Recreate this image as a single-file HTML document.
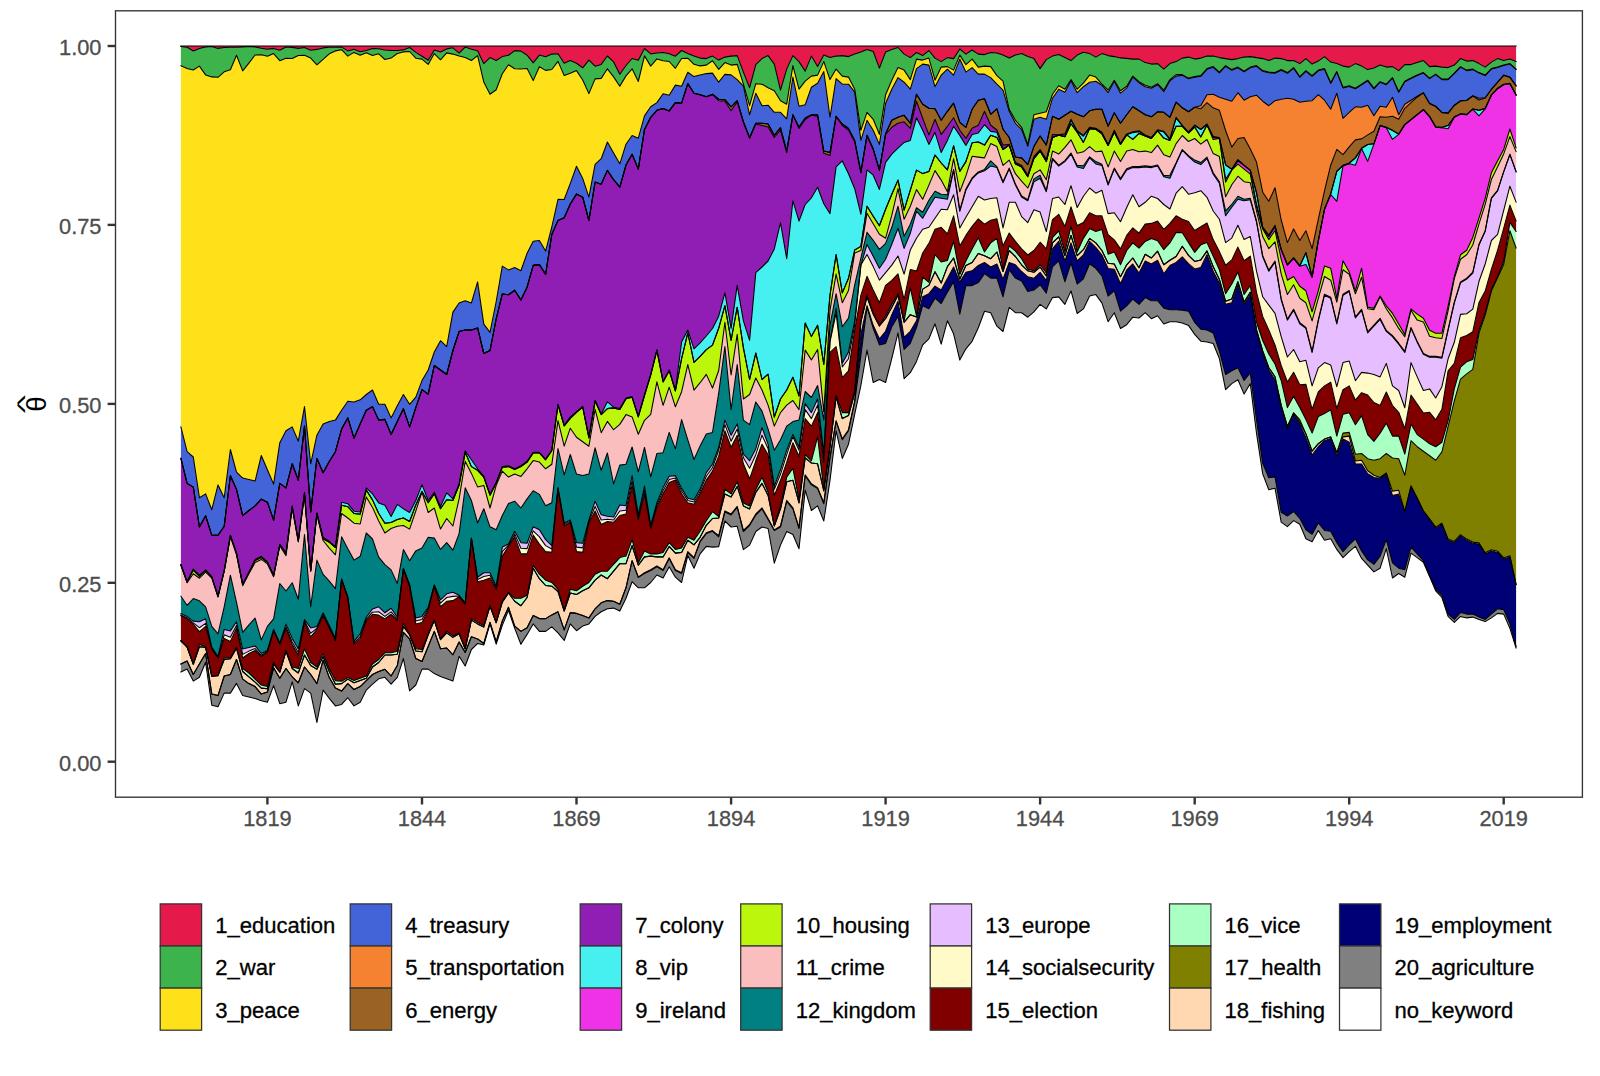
<!DOCTYPE html>
<html><head><meta charset="utf-8"><title>theta by year</title>
<style>
html,body{margin:0;padding:0;background:#fff;}
body{width:1600px;height:1076px;overflow:hidden;font-family:"Liberation Sans",sans-serif;}
svg{display:block}
.ax{font-family:"Liberation Sans",sans-serif;font-size:21.8px;fill:#4d4d4d;stroke:#4d4d4d;stroke-width:0.3px}
.lg{font-family:"Liberation Sans",sans-serif;font-size:22.05px;fill:#000;stroke:#000;stroke-width:0.3px}
.yl{font-family:"Liberation Sans","DejaVu Sans",sans-serif;font-size:27.8px;fill:#000}
#lines polyline{fill:none;stroke:#000;stroke-width:1.07;stroke-linejoin:round;stroke-linecap:square}
</style></head><body>
<svg width="1600" height="1076" viewBox="0 0 1600 1076">
<rect x="0" y="0" width="1600" height="1076" fill="#fff"/>
<g id="areas">
<polygon points="180.9,672.1 187.1,669.0 193.3,681.1 199.4,677.3 205.6,662.3 211.8,705.2 218.0,706.7 224.2,693.1 230.4,693.1 236.5,683.4 242.7,695.4 248.9,696.9 255.1,698.4 261.3,700.7 267.4,702.2 273.6,685.6 279.8,703.7 286.0,702.2 292.2,681.8 298.3,705.9 304.5,688.6 310.7,693.1 316.9,722.5 323.1,690.1 329.3,698.4 335.4,705.9 341.6,704.4 347.8,697.7 354.0,705.9 360.2,702.2 366.3,690.1 372.5,684.1 378.7,678.8 384.9,677.3 391.1,684.1 397.3,677.3 403.4,658.5 409.6,690.9 415.8,685.0 422.0,669.1 428.2,669.1 434.3,673.6 440.5,676.6 446.7,678.8 452.9,681.1 459.1,656.3 465.2,666.0 471.4,649.5 477.6,643.5 483.8,645.0 490.0,623.9 496.2,644.2 502.3,625.4 508.5,610.3 514.7,628.4 520.9,644.2 527.1,634.4 533.2,623.9 539.4,631.4 545.6,631.4 551.8,626.9 558.0,632.9 564.2,640.5 570.3,623.9 576.5,630.7 582.7,626.1 588.9,623.9 595.1,616.4 601.2,611.8 607.4,608.8 613.6,608.1 619.8,611.1 626.0,598.3 632.1,581.7 638.3,587.8 644.5,587.8 650.7,582.5 656.9,575.0 663.1,578.0 669.2,566.7 675.4,577.2 681.6,582.5 687.8,555.4 694.0,568.2 700.1,553.9 706.3,546.4 712.5,547.1 718.7,546.6 724.9,521.0 731.1,527.0 737.2,526.3 743.4,549.6 749.6,545.1 755.8,531.5 762.0,527.0 768.1,528.5 774.3,563.1 780.5,545.1 786.7,531.5 792.9,534.5 799.0,548.8 805.2,490.1 811.4,510.5 817.6,505.9 823.8,521.0 830.0,480.3 836.1,430.7 842.3,458.5 848.5,444.2 854.7,414.1 860.9,385.5 867.0,350.1 873.2,382.5 879.4,379.5 885.6,382.5 891.8,358.4 898.0,332.8 904.1,378.7 910.3,372.7 916.5,361.4 922.7,344.9 928.9,338.8 935.0,323.8 941.2,344.1 947.4,320.8 953.6,333.8 959.8,360.1 965.9,348.8 972.1,341.3 978.3,327.8 984.5,311.2 990.7,312.7 996.9,326.2 1003.0,331.5 1009.2,307.4 1015.4,312.7 1021.6,312.7 1027.8,317.2 1033.9,311.9 1040.1,304.4 1046.3,308.9 1052.5,297.6 1058.7,296.9 1064.9,304.4 1071.0,290.9 1077.2,313.5 1083.4,308.9 1089.6,296.1 1095.8,294.6 1101.9,302.9 1108.1,321.7 1114.3,312.7 1120.5,328.5 1126.7,324.7 1132.8,317.2 1139.0,318.0 1145.2,312.7 1151.4,318.7 1157.6,315.7 1163.8,324.0 1169.9,321.7 1176.1,321.7 1182.3,323.1 1188.5,325.4 1194.7,334.4 1200.8,341.2 1207.0,342.0 1213.2,343.5 1219.4,358.6 1225.6,389.6 1231.8,383.6 1237.9,379.8 1244.1,394.1 1250.3,383.6 1256.5,433.2 1262.7,473.9 1268.8,489.7 1275.0,488.2 1281.2,522.1 1287.4,526.6 1293.6,520.6 1299.8,524.3 1305.9,538.8 1312.1,541.8 1318.3,530.5 1324.5,540.3 1330.7,538.8 1336.8,549.4 1343.0,557.6 1349.2,551.6 1355.4,546.3 1361.6,558.4 1367.7,565.2 1373.9,571.9 1380.1,568.2 1386.3,548.6 1392.5,578.0 1398.7,573.5 1404.8,577.2 1411.0,553.1 1417.2,557.6 1423.4,562.2 1429.6,576.5 1435.7,590.8 1441.9,597.5 1448.1,616.4 1454.3,622.4 1460.5,616.4 1466.7,617.9 1472.8,617.1 1479.0,619.4 1485.2,621.6 1491.4,617.9 1497.6,613.4 1503.7,614.1 1509.9,628.4 1516.1,648.0 1516.1,761.7 1509.9,761.7 1503.7,761.7 1497.6,761.7 1491.4,761.7 1485.2,761.7 1479.0,761.7 1472.8,761.7 1466.7,761.7 1460.5,761.7 1454.3,761.7 1448.1,761.7 1441.9,761.7 1435.7,761.7 1429.6,761.7 1423.4,761.7 1417.2,761.7 1411.0,761.7 1404.8,761.7 1398.7,761.7 1392.5,761.7 1386.3,761.7 1380.1,761.7 1373.9,761.7 1367.7,761.7 1361.6,761.7 1355.4,761.7 1349.2,761.7 1343.0,761.7 1336.8,761.7 1330.7,761.7 1324.5,761.7 1318.3,761.7 1312.1,761.7 1305.9,761.7 1299.8,761.7 1293.6,761.7 1287.4,761.7 1281.2,761.7 1275.0,761.7 1268.8,761.7 1262.7,761.7 1256.5,761.7 1250.3,761.7 1244.1,761.7 1237.9,761.7 1231.8,761.7 1225.6,761.7 1219.4,761.7 1213.2,761.7 1207.0,761.7 1200.8,761.7 1194.7,761.7 1188.5,761.7 1182.3,761.7 1176.1,761.7 1169.9,761.7 1163.8,761.7 1157.6,761.7 1151.4,761.7 1145.2,761.7 1139.0,761.7 1132.8,761.7 1126.7,761.7 1120.5,761.7 1114.3,761.7 1108.1,761.7 1101.9,761.7 1095.8,761.7 1089.6,761.7 1083.4,761.7 1077.2,761.7 1071.0,761.7 1064.9,761.7 1058.7,761.7 1052.5,761.7 1046.3,761.7 1040.1,761.7 1033.9,761.7 1027.8,761.7 1021.6,761.7 1015.4,761.7 1009.2,761.7 1003.0,761.7 996.9,761.7 990.7,761.7 984.5,761.7 978.3,761.7 972.1,761.7 965.9,761.7 959.8,761.7 953.6,761.7 947.4,761.7 941.2,761.7 935.0,761.7 928.9,761.7 922.7,761.7 916.5,761.7 910.3,761.7 904.1,761.7 898.0,761.7 891.8,761.7 885.6,761.7 879.4,761.7 873.2,761.7 867.0,761.7 860.9,761.7 854.7,761.7 848.5,761.7 842.3,761.7 836.1,761.7 830.0,761.7 823.8,761.7 817.6,761.7 811.4,761.7 805.2,761.7 799.0,761.7 792.9,761.7 786.7,761.7 780.5,761.7 774.3,761.7 768.1,761.7 762.0,761.7 755.8,761.7 749.6,761.7 743.4,761.7 737.2,761.7 731.1,761.7 724.9,761.7 718.7,761.7 712.5,761.7 706.3,761.7 700.1,761.7 694.0,761.7 687.8,761.7 681.6,761.7 675.4,761.7 669.2,761.7 663.1,761.7 656.9,761.7 650.7,761.7 644.5,761.7 638.3,761.7 632.1,761.7 626.0,761.7 619.8,761.7 613.6,761.7 607.4,761.7 601.2,761.7 595.1,761.7 588.9,761.7 582.7,761.7 576.5,761.7 570.3,761.7 564.2,761.7 558.0,761.7 551.8,761.7 545.6,761.7 539.4,761.7 533.2,761.7 527.1,761.7 520.9,761.7 514.7,761.7 508.5,761.7 502.3,761.7 496.2,761.7 490.0,761.7 483.8,761.7 477.6,761.7 471.4,761.7 465.2,761.7 459.1,761.7 452.9,761.7 446.7,761.7 440.5,761.7 434.3,761.7 428.2,761.7 422.0,761.7 415.8,761.7 409.6,761.7 403.4,761.7 397.3,761.7 391.1,761.7 384.9,761.7 378.7,761.7 372.5,761.7 366.3,761.7 360.2,761.7 354.0,761.7 347.8,761.7 341.6,761.7 335.4,761.7 329.3,761.7 323.1,761.7 316.9,761.7 310.7,761.7 304.5,761.7 298.3,761.7 292.2,761.7 286.0,761.7 279.8,761.7 273.6,761.7 267.4,761.7 261.3,761.7 255.1,761.7 248.9,761.7 242.7,761.7 236.5,761.7 230.4,761.7 224.2,761.7 218.0,761.7 211.8,761.7 205.6,761.7 199.4,761.7 193.3,761.7 187.1,761.7 180.9,761.7" fill="#ffffff"/>
<polygon points="180.9,664.0 187.1,661.0 193.3,674.5 199.4,664.0 205.6,653.5 211.8,694.1 218.0,695.6 224.2,676.0 230.4,674.5 236.5,659.5 242.7,679.1 248.9,683.6 255.1,686.6 261.3,694.1 267.4,692.0 273.6,667.8 279.8,678.3 286.0,668.5 292.2,676.8 298.3,682.8 304.5,667.0 310.7,674.5 316.9,683.6 323.1,660.2 329.3,677.6 335.4,688.1 341.6,691.1 347.8,683.6 354.0,689.6 360.2,686.6 366.3,680.6 372.5,674.5 378.7,671.5 384.9,669.3 391.1,676.0 397.3,665.5 403.4,632.4 409.6,638.9 415.8,658.5 422.0,661.5 428.2,646.5 434.3,631.4 440.5,648.7 446.7,648.0 452.9,654.8 459.1,642.0 465.2,652.5 471.4,636.7 477.6,638.9 483.8,643.5 490.0,622.4 496.2,642.0 502.3,620.9 508.5,607.3 514.7,626.1 520.9,631.4 527.1,627.7 533.2,615.6 539.4,618.6 545.6,618.6 551.8,614.9 558.0,611.8 564.2,629.9 570.3,612.6 576.5,613.4 582.7,615.6 588.9,617.9 595.1,608.8 601.2,602.8 607.4,600.6 613.6,601.3 619.8,604.3 626.0,587.8 632.1,560.7 638.3,577.2 644.5,573.5 650.7,570.5 656.9,566.7 663.1,570.5 669.2,558.4 675.4,570.5 681.6,573.5 687.8,552.4 694.0,558.4 700.1,541.8 706.3,533.6 712.5,531.3 718.7,536.8 724.9,512.0 731.1,515.0 737.2,507.4 743.4,531.5 749.6,525.5 755.8,515.0 762.0,508.9 768.1,519.5 774.3,530.5 780.5,527.0 786.7,501.4 792.9,508.9 799.0,528.5 805.2,475.8 811.4,484.9 817.6,488.6 823.8,503.7 830.0,457.8 836.1,421.6 842.3,439.7 848.5,430.7 854.7,402.0 860.9,355.4 867.0,307.2 873.2,328.3 879.4,344.9 885.6,343.4 891.8,326.8 898.0,316.2 904.1,349.4 910.3,343.4 916.5,327.5 922.7,305.7 928.9,308.7 935.0,298.2 941.2,303.5 947.4,292.2 953.6,281.8 959.8,314.2 965.9,285.6 972.1,285.6 978.3,282.6 984.5,273.6 990.7,278.1 996.9,278.1 1003.0,296.9 1009.2,269.8 1015.4,278.1 1021.6,281.1 1027.8,291.6 1033.9,290.1 1040.1,284.8 1046.3,293.1 1052.5,266.8 1058.7,260.8 1064.9,281.8 1071.0,263.0 1077.2,284.1 1083.4,278.8 1089.6,263.8 1095.8,268.3 1101.9,275.8 1108.1,296.1 1114.3,290.9 1120.5,311.2 1126.7,305.9 1132.8,299.1 1139.0,304.4 1145.2,297.6 1151.4,300.7 1157.6,300.7 1163.8,308.2 1169.9,309.7 1176.1,309.7 1182.3,310.3 1188.5,311.1 1194.7,322.4 1200.8,329.2 1207.0,329.9 1213.2,332.9 1219.4,351.0 1225.6,374.5 1231.8,370.8 1237.9,367.7 1244.1,380.5 1250.3,373.0 1256.5,419.7 1262.7,463.4 1268.8,477.7 1275.0,476.9 1281.2,512.3 1287.4,516.0 1293.6,511.5 1299.8,518.3 1305.9,529.8 1312.1,534.3 1318.3,523.0 1324.5,530.5 1330.7,531.3 1336.8,542.6 1343.0,551.6 1349.2,544.8 1355.4,538.8 1361.6,550.9 1367.7,559.9 1373.9,564.4 1380.1,556.1 1386.3,539.6 1392.5,562.9 1398.7,568.2 1404.8,569.7 1411.0,547.1 1417.2,553.9 1423.4,560.7 1429.6,575.7 1435.7,589.3 1441.9,595.3 1448.1,614.1 1454.3,619.4 1460.5,612.6 1466.7,614.1 1472.8,614.1 1479.0,617.1 1485.2,619.4 1491.4,614.1 1497.6,608.8 1503.7,609.6 1509.9,623.9 1516.1,646.5 1516.1,648.0 1509.9,628.4 1503.7,614.1 1497.6,613.4 1491.4,617.9 1485.2,621.6 1479.0,619.4 1472.8,617.1 1466.7,617.9 1460.5,616.4 1454.3,622.4 1448.1,616.4 1441.9,597.5 1435.7,590.8 1429.6,576.5 1423.4,562.2 1417.2,557.6 1411.0,553.1 1404.8,577.2 1398.7,573.5 1392.5,578.0 1386.3,548.6 1380.1,568.2 1373.9,571.9 1367.7,565.2 1361.6,558.4 1355.4,546.3 1349.2,551.6 1343.0,557.6 1336.8,549.4 1330.7,538.8 1324.5,540.3 1318.3,530.5 1312.1,541.8 1305.9,538.8 1299.8,524.3 1293.6,520.6 1287.4,526.6 1281.2,522.1 1275.0,488.2 1268.8,489.7 1262.7,473.9 1256.5,433.2 1250.3,383.6 1244.1,394.1 1237.9,379.8 1231.8,383.6 1225.6,389.6 1219.4,358.6 1213.2,343.5 1207.0,342.0 1200.8,341.2 1194.7,334.4 1188.5,325.4 1182.3,323.1 1176.1,321.7 1169.9,321.7 1163.8,324.0 1157.6,315.7 1151.4,318.7 1145.2,312.7 1139.0,318.0 1132.8,317.2 1126.7,324.7 1120.5,328.5 1114.3,312.7 1108.1,321.7 1101.9,302.9 1095.8,294.6 1089.6,296.1 1083.4,308.9 1077.2,313.5 1071.0,290.9 1064.9,304.4 1058.7,296.9 1052.5,297.6 1046.3,308.9 1040.1,304.4 1033.9,311.9 1027.8,317.2 1021.6,312.7 1015.4,312.7 1009.2,307.4 1003.0,331.5 996.9,326.2 990.7,312.7 984.5,311.2 978.3,327.8 972.1,341.3 965.9,348.8 959.8,360.1 953.6,333.8 947.4,320.8 941.2,344.1 935.0,323.8 928.9,338.8 922.7,344.9 916.5,361.4 910.3,372.7 904.1,378.7 898.0,332.8 891.8,358.4 885.6,382.5 879.4,379.5 873.2,382.5 867.0,350.1 860.9,385.5 854.7,414.1 848.5,444.2 842.3,458.5 836.1,430.7 830.0,480.3 823.8,521.0 817.6,505.9 811.4,510.5 805.2,490.1 799.0,548.8 792.9,534.5 786.7,531.5 780.5,545.1 774.3,563.1 768.1,528.5 762.0,527.0 755.8,531.5 749.6,545.1 743.4,549.6 737.2,526.3 731.1,527.0 724.9,521.0 718.7,546.6 712.5,547.1 706.3,546.4 700.1,553.9 694.0,568.2 687.8,555.4 681.6,582.5 675.4,577.2 669.2,566.7 663.1,578.0 656.9,575.0 650.7,582.5 644.5,587.8 638.3,587.8 632.1,581.7 626.0,598.3 619.8,611.1 613.6,608.1 607.4,608.8 601.2,611.8 595.1,616.4 588.9,623.9 582.7,626.1 576.5,630.7 570.3,623.9 564.2,640.5 558.0,632.9 551.8,626.9 545.6,631.4 539.4,631.4 533.2,623.9 527.1,634.4 520.9,644.2 514.7,628.4 508.5,610.3 502.3,625.4 496.2,644.2 490.0,623.9 483.8,645.0 477.6,643.5 471.4,649.5 465.2,666.0 459.1,656.3 452.9,681.1 446.7,678.8 440.5,676.6 434.3,673.6 428.2,669.1 422.0,669.1 415.8,685.0 409.6,690.9 403.4,658.5 397.3,677.3 391.1,684.1 384.9,677.3 378.7,678.8 372.5,684.1 366.3,690.1 360.2,702.2 354.0,705.9 347.8,697.7 341.6,704.4 335.4,705.9 329.3,698.4 323.1,690.1 316.9,722.5 310.7,693.1 304.5,688.6 298.3,705.9 292.2,681.8 286.0,702.2 279.8,703.7 273.6,685.6 267.4,702.2 261.3,700.7 255.1,698.4 248.9,696.9 242.7,695.4 236.5,683.4 230.4,693.1 224.2,693.1 218.0,706.7 211.8,705.2 205.6,662.3 199.4,677.3 193.3,681.1 187.1,669.0 180.9,672.1" fill="#808080"/>
<polygon points="180.9,664.0 187.1,661.0 193.3,674.5 199.4,664.0 205.6,653.5 211.8,694.1 218.0,695.6 224.2,676.0 230.4,674.5 236.5,659.5 242.7,679.1 248.9,683.6 255.1,686.6 261.3,694.1 267.4,692.0 273.6,667.8 279.8,678.3 286.0,668.5 292.2,676.8 298.3,682.8 304.5,667.0 310.7,674.5 316.9,683.6 323.1,660.2 329.3,677.6 335.4,688.1 341.6,691.1 347.8,683.6 354.0,689.6 360.2,686.6 366.3,680.6 372.5,674.5 378.7,671.5 384.9,669.3 391.1,676.0 397.3,665.5 403.4,632.4 409.6,638.9 415.8,658.5 422.0,661.5 428.2,646.5 434.3,631.4 440.5,648.7 446.7,648.0 452.9,654.8 459.1,642.0 465.2,652.5 471.4,636.7 477.6,638.9 483.8,643.5 490.0,622.4 496.2,642.0 502.3,620.9 508.5,607.3 514.7,626.1 520.9,631.4 527.1,627.7 533.2,615.6 539.4,618.6 545.6,618.6 551.8,614.9 558.0,611.8 564.2,629.9 570.3,612.6 576.5,613.4 582.7,615.6 588.9,617.9 595.1,608.8 601.2,602.8 607.4,600.6 613.6,601.3 619.8,604.3 626.0,587.8 632.1,560.7 638.3,577.2 644.5,572.7 650.7,569.7 656.9,565.9 663.1,569.7 669.2,557.7 675.4,569.7 681.6,572.7 687.8,551.6 694.0,557.7 700.1,541.1 706.3,532.8 712.5,530.6 718.7,535.7 724.9,510.9 731.1,513.9 737.2,506.4 743.4,530.5 749.6,524.5 755.8,513.9 762.0,507.9 768.1,518.4 774.3,530.0 780.5,526.0 786.7,500.4 792.9,507.9 799.0,527.5 805.2,474.8 811.4,483.8 817.6,487.6 823.8,502.6 830.0,456.9 836.1,420.7 842.3,438.8 848.5,429.7 854.7,401.1 860.9,334.3 867.0,305.7 873.2,325.3 879.4,338.8 885.6,331.3 891.8,314.7 898.0,301.2 904.1,337.3 910.3,331.3 916.5,320.8 922.7,296.7 928.9,293.7 935.0,286.1 941.2,289.9 947.4,278.6 953.6,267.0 959.8,282.1 965.9,272.3 972.1,270.8 978.3,265.5 984.5,262.5 990.7,267.0 996.9,264.0 1003.0,279.1 1009.2,262.5 1015.4,264.8 1021.6,271.5 1027.8,276.8 1033.9,278.3 1040.1,272.3 1046.3,280.6 1052.5,248.9 1058.7,241.4 1064.9,261.0 1071.0,242.9 1077.2,261.0 1083.4,255.0 1089.6,241.4 1095.8,247.4 1101.9,255.0 1108.1,268.5 1114.3,269.3 1120.5,283.6 1126.7,270.0 1132.8,264.0 1139.0,273.0 1145.2,261.0 1151.4,264.0 1157.6,260.2 1163.8,273.8 1169.9,265.5 1176.1,262.5 1182.3,256.9 1188.5,263.7 1194.7,268.9 1200.8,267.4 1207.0,254.6 1213.2,271.2 1219.4,283.2 1225.6,304.3 1231.8,302.8 1237.9,284.7 1244.1,304.3 1250.3,294.5 1256.5,331.4 1262.7,352.5 1268.8,370.0 1275.0,379.8 1281.2,407.6 1287.4,428.7 1293.6,414.4 1299.8,424.2 1305.9,437.6 1312.1,455.0 1318.3,446.7 1324.5,440.7 1330.7,438.4 1336.8,455.7 1343.0,439.1 1349.2,442.2 1355.4,464.0 1361.6,464.0 1367.7,473.8 1373.9,477.5 1380.1,478.3 1386.3,473.8 1392.5,495.6 1398.7,494.1 1404.8,512.2 1411.0,486.6 1417.2,498.6 1423.4,511.4 1429.6,519.7 1435.7,528.3 1441.9,524.5 1448.1,540.3 1454.3,542.6 1460.5,535.8 1466.7,540.3 1472.8,543.3 1479.0,544.1 1485.2,553.9 1491.4,550.9 1497.6,552.4 1503.7,559.1 1509.9,556.9 1516.1,584.7 1516.1,646.5 1509.9,623.9 1503.7,609.6 1497.6,608.8 1491.4,614.1 1485.2,619.4 1479.0,617.1 1472.8,614.1 1466.7,614.1 1460.5,612.6 1454.3,619.4 1448.1,614.1 1441.9,595.3 1435.7,589.3 1429.6,575.7 1423.4,560.7 1417.2,553.9 1411.0,547.1 1404.8,569.7 1398.7,568.2 1392.5,562.9 1386.3,539.6 1380.1,556.1 1373.9,564.4 1367.7,559.9 1361.6,550.9 1355.4,538.8 1349.2,544.8 1343.0,551.6 1336.8,542.6 1330.7,531.3 1324.5,530.5 1318.3,523.0 1312.1,534.3 1305.9,529.8 1299.8,518.3 1293.6,511.5 1287.4,516.0 1281.2,512.3 1275.0,476.9 1268.8,477.7 1262.7,463.4 1256.5,419.7 1250.3,373.0 1244.1,380.5 1237.9,367.7 1231.8,370.8 1225.6,374.5 1219.4,351.0 1213.2,332.9 1207.0,329.9 1200.8,329.2 1194.7,322.4 1188.5,311.1 1182.3,310.3 1176.1,309.7 1169.9,309.7 1163.8,308.2 1157.6,300.7 1151.4,300.7 1145.2,297.6 1139.0,304.4 1132.8,299.1 1126.7,305.9 1120.5,311.2 1114.3,290.9 1108.1,296.1 1101.9,275.8 1095.8,268.3 1089.6,263.8 1083.4,278.8 1077.2,284.1 1071.0,263.0 1064.9,281.8 1058.7,260.8 1052.5,266.8 1046.3,293.1 1040.1,284.8 1033.9,290.1 1027.8,291.6 1021.6,281.1 1015.4,278.1 1009.2,269.8 1003.0,296.9 996.9,278.1 990.7,278.1 984.5,273.6 978.3,282.6 972.1,285.6 965.9,285.6 959.8,314.2 953.6,281.8 947.4,292.2 941.2,303.5 935.0,298.2 928.9,308.7 922.7,305.7 916.5,327.5 910.3,343.4 904.1,349.4 898.0,316.2 891.8,326.8 885.6,343.4 879.4,344.9 873.2,328.3 867.0,307.2 860.9,355.4 854.7,402.0 848.5,430.7 842.3,439.7 836.1,421.6 830.0,457.8 823.8,503.7 817.6,488.6 811.4,484.9 805.2,475.8 799.0,528.5 792.9,508.9 786.7,501.4 780.5,527.0 774.3,530.5 768.1,519.5 762.0,508.9 755.8,515.0 749.6,525.5 743.4,531.5 737.2,507.4 731.1,515.0 724.9,512.0 718.7,536.8 712.5,531.3 706.3,533.6 700.1,541.8 694.0,558.4 687.8,552.4 681.6,573.5 675.4,570.5 669.2,558.4 663.1,570.5 656.9,566.7 650.7,570.5 644.5,573.5 638.3,577.2 632.1,560.7 626.0,587.8 619.8,604.3 613.6,601.3 607.4,600.6 601.2,602.8 595.1,608.8 588.9,617.9 582.7,615.6 576.5,613.4 570.3,612.6 564.2,629.9 558.0,611.8 551.8,614.9 545.6,618.6 539.4,618.6 533.2,615.6 527.1,627.7 520.9,631.4 514.7,626.1 508.5,607.3 502.3,620.9 496.2,642.0 490.0,622.4 483.8,643.5 477.6,638.9 471.4,636.7 465.2,652.5 459.1,642.0 452.9,654.8 446.7,648.0 440.5,648.7 434.3,631.4 428.2,646.5 422.0,661.5 415.8,658.5 409.6,638.9 403.4,632.4 397.3,665.5 391.1,676.0 384.9,669.3 378.7,671.5 372.5,674.5 366.3,680.6 360.2,686.6 354.0,689.6 347.8,683.6 341.6,691.1 335.4,688.1 329.3,677.6 323.1,660.2 316.9,683.6 310.7,674.5 304.5,667.0 298.3,682.8 292.2,676.8 286.0,668.5 279.8,678.3 273.6,667.8 267.4,692.0 261.3,694.1 255.1,686.6 248.9,683.6 242.7,679.1 236.5,659.5 230.4,674.5 224.2,676.0 218.0,695.6 211.8,694.1 205.6,653.5 199.4,664.0 193.3,674.5 187.1,661.0 180.9,664.0" fill="#000075"/>
<polygon points="180.9,641.0 187.1,647.0 193.3,664.3 199.4,646.7 205.6,647.4 211.8,676.3 218.0,675.6 224.2,659.5 230.4,658.7 236.5,648.2 242.7,671.5 248.9,676.8 255.1,682.1 261.3,688.1 267.4,688.8 273.6,664.0 279.8,672.3 286.0,651.2 292.2,668.5 298.3,673.0 304.5,655.0 310.7,665.5 316.9,669.3 323.1,656.5 329.3,671.5 335.4,684.3 341.6,683.6 347.8,679.1 354.0,682.8 360.2,680.6 366.3,678.3 372.5,667.0 378.7,662.5 384.9,655.0 391.1,655.0 397.3,654.2 403.4,626.4 409.6,634.7 415.8,651.0 422.0,651.7 428.2,634.7 434.3,620.4 440.5,639.7 446.7,632.9 452.9,637.4 459.1,633.7 465.2,649.0 471.4,620.1 477.6,623.9 483.8,626.9 490.0,606.1 496.2,622.7 502.3,602.1 508.5,593.0 514.7,601.3 520.9,605.8 527.1,597.5 533.2,568.2 539.4,578.7 545.6,585.5 551.8,586.2 558.0,591.5 564.2,611.1 570.3,593.0 576.5,594.5 582.7,590.8 588.9,587.8 595.1,580.2 601.2,575.0 607.4,578.7 613.6,571.2 619.8,563.7 626.0,563.7 632.1,545.6 638.3,565.2 644.5,556.9 650.7,556.1 656.9,556.9 663.1,556.9 669.2,546.4 675.4,553.1 681.6,552.4 687.8,540.3 694.0,544.9 700.1,537.3 706.3,525.3 712.5,518.5 718.7,518.0 724.9,493.9 731.1,496.9 737.2,486.4 743.4,505.9 749.6,508.9 755.8,492.4 762.0,483.4 768.1,495.4 774.3,526.0 780.5,508.9 786.7,481.8 792.9,480.3 799.0,502.9 805.2,457.8 811.4,463.0 817.6,463.8 823.8,490.9 830.0,447.2 836.1,396.8 842.3,418.6 848.5,415.6 854.7,393.0 860.9,321.5 867.0,296.7 873.2,314.0 879.4,326.0 885.6,318.5 891.8,307.2 898.0,295.2 904.1,322.3 910.3,314.7 916.5,317.0 922.7,289.1 928.9,285.4 935.0,271.8 941.2,283.1 947.4,266.6 953.6,258.0 959.8,279.1 965.9,265.5 972.1,262.5 978.3,253.5 984.5,255.7 990.7,258.7 996.9,252.0 1003.0,271.5 1009.2,250.5 1015.4,256.5 1021.6,264.8 1027.8,270.8 1033.9,272.3 1040.1,267.0 1046.3,276.0 1052.5,242.9 1058.7,236.9 1064.9,255.7 1071.0,235.4 1077.2,255.7 1083.4,249.7 1089.6,238.4 1095.8,242.9 1101.9,250.5 1108.1,263.2 1114.3,264.0 1120.5,276.8 1126.7,264.8 1132.8,258.0 1139.0,267.8 1145.2,254.2 1151.4,258.0 1157.6,251.2 1163.8,264.8 1169.9,260.2 1176.1,256.5 1182.3,246.3 1188.5,255.4 1194.7,261.4 1200.8,259.9 1207.0,250.9 1213.2,266.7 1219.4,279.5 1225.6,301.3 1231.8,299.0 1237.9,281.7 1244.1,302.1 1250.3,292.3 1256.5,329.9 1262.7,351.0 1268.8,367.7 1275.0,376.8 1281.2,405.4 1287.4,426.5 1293.6,412.9 1299.8,422.4 1305.9,433.9 1312.1,451.2 1318.3,443.7 1324.5,439.1 1330.7,436.9 1336.8,452.7 1343.0,436.9 1349.2,436.1 1355.4,461.0 1361.6,460.2 1367.7,470.8 1373.9,475.3 1380.1,477.5 1386.3,473.0 1392.5,491.1 1398.7,490.3 1404.8,511.4 1411.0,485.8 1417.2,497.9 1423.4,510.7 1429.6,518.9 1435.7,527.1 1441.9,523.3 1448.1,539.1 1454.3,541.4 1460.5,534.6 1466.7,539.1 1472.8,542.1 1479.0,542.9 1485.2,552.7 1491.4,549.7 1497.6,551.2 1503.7,557.9 1509.9,555.7 1516.1,584.7 1516.1,584.7 1509.9,556.9 1503.7,559.1 1497.6,552.4 1491.4,550.9 1485.2,553.9 1479.0,544.1 1472.8,543.3 1466.7,540.3 1460.5,535.8 1454.3,542.6 1448.1,540.3 1441.9,524.5 1435.7,528.3 1429.6,519.7 1423.4,511.4 1417.2,498.6 1411.0,486.6 1404.8,512.2 1398.7,494.1 1392.5,495.6 1386.3,473.8 1380.1,478.3 1373.9,477.5 1367.7,473.8 1361.6,464.0 1355.4,464.0 1349.2,442.2 1343.0,439.1 1336.8,455.7 1330.7,438.4 1324.5,440.7 1318.3,446.7 1312.1,455.0 1305.9,437.6 1299.8,424.2 1293.6,414.4 1287.4,428.7 1281.2,407.6 1275.0,379.8 1268.8,370.0 1262.7,352.5 1256.5,331.4 1250.3,294.5 1244.1,304.3 1237.9,284.7 1231.8,302.8 1225.6,304.3 1219.4,283.2 1213.2,271.2 1207.0,254.6 1200.8,267.4 1194.7,268.9 1188.5,263.7 1182.3,256.9 1176.1,262.5 1169.9,265.5 1163.8,273.8 1157.6,260.2 1151.4,264.0 1145.2,261.0 1139.0,273.0 1132.8,264.0 1126.7,270.0 1120.5,283.6 1114.3,269.3 1108.1,268.5 1101.9,255.0 1095.8,247.4 1089.6,241.4 1083.4,255.0 1077.2,261.0 1071.0,242.9 1064.9,261.0 1058.7,241.4 1052.5,248.9 1046.3,280.6 1040.1,272.3 1033.9,278.3 1027.8,276.8 1021.6,271.5 1015.4,264.8 1009.2,262.5 1003.0,279.1 996.9,264.0 990.7,267.0 984.5,262.5 978.3,265.5 972.1,270.8 965.9,272.3 959.8,282.1 953.6,267.0 947.4,278.6 941.2,289.9 935.0,286.1 928.9,293.7 922.7,296.7 916.5,320.8 910.3,331.3 904.1,337.3 898.0,301.2 891.8,314.7 885.6,331.3 879.4,338.8 873.2,325.3 867.0,305.7 860.9,334.3 854.7,401.1 848.5,429.7 842.3,438.8 836.1,420.7 830.0,456.9 823.8,502.6 817.6,487.6 811.4,483.8 805.2,474.8 799.0,527.5 792.9,507.9 786.7,500.4 780.5,526.0 774.3,530.0 768.1,518.4 762.0,507.9 755.8,513.9 749.6,524.5 743.4,530.5 737.2,506.4 731.1,513.9 724.9,510.9 718.7,535.7 712.5,530.6 706.3,532.8 700.1,541.1 694.0,557.7 687.8,551.6 681.6,572.7 675.4,569.7 669.2,557.7 663.1,569.7 656.9,565.9 650.7,569.7 644.5,572.7 638.3,577.2 632.1,560.7 626.0,587.8 619.8,604.3 613.6,601.3 607.4,600.6 601.2,602.8 595.1,608.8 588.9,617.9 582.7,615.6 576.5,613.4 570.3,612.6 564.2,629.9 558.0,611.8 551.8,614.9 545.6,618.6 539.4,618.6 533.2,615.6 527.1,627.7 520.9,631.4 514.7,626.1 508.5,607.3 502.3,620.9 496.2,642.0 490.0,622.4 483.8,643.5 477.6,638.9 471.4,636.7 465.2,652.5 459.1,642.0 452.9,654.8 446.7,648.0 440.5,648.7 434.3,631.4 428.2,646.5 422.0,661.5 415.8,658.5 409.6,638.9 403.4,632.4 397.3,665.5 391.1,676.0 384.9,669.3 378.7,671.5 372.5,674.5 366.3,680.6 360.2,686.6 354.0,689.6 347.8,683.6 341.6,691.1 335.4,688.1 329.3,677.6 323.1,660.2 316.9,683.6 310.7,674.5 304.5,667.0 298.3,682.8 292.2,676.8 286.0,668.5 279.8,678.3 273.6,667.8 267.4,692.0 261.3,694.1 255.1,686.6 248.9,683.6 242.7,679.1 236.5,659.5 230.4,674.5 224.2,676.0 218.0,695.6 211.8,694.1 205.6,653.5 199.4,664.0 193.3,674.5 187.1,661.0 180.9,664.0" fill="#ffd8b1"/>
<polygon points="180.9,641.0 187.1,647.0 193.3,664.3 199.4,646.7 205.6,647.4 211.8,676.3 218.0,675.6 224.2,659.5 230.4,658.7 236.5,648.2 242.7,671.5 248.9,676.8 255.1,682.1 261.3,688.1 267.4,688.8 273.6,664.0 279.8,672.3 286.0,651.2 292.2,668.5 298.3,673.0 304.5,655.0 310.7,665.5 316.9,669.3 323.1,656.5 329.3,671.5 335.4,684.3 341.6,683.6 347.8,679.1 354.0,682.8 360.2,680.6 366.3,678.3 372.5,667.0 378.7,662.5 384.9,655.0 391.1,655.0 397.3,654.2 403.4,626.4 409.6,634.7 415.8,651.0 422.0,651.7 428.2,634.7 434.3,620.4 440.5,639.7 446.7,632.9 452.9,637.4 459.1,633.7 465.2,649.0 471.4,620.1 477.6,623.9 483.8,626.9 490.0,606.1 496.2,622.7 502.3,602.1 508.5,593.0 514.7,601.3 520.9,605.8 527.1,597.5 533.2,568.2 539.4,578.7 545.6,585.5 551.8,586.2 558.0,591.5 564.2,611.1 570.3,593.0 576.5,594.5 582.7,590.8 588.9,587.8 595.1,580.2 601.2,575.0 607.4,578.7 613.6,571.2 619.8,563.7 626.0,563.7 632.1,545.6 638.3,565.2 644.5,556.9 650.7,556.1 656.9,556.9 663.1,556.9 669.2,546.4 675.4,553.1 681.6,552.4 687.8,540.3 694.0,544.9 700.1,537.3 706.3,525.3 712.5,518.5 718.7,518.0 724.9,493.9 731.1,496.9 737.2,486.4 743.4,505.9 749.6,508.9 755.8,492.4 762.0,483.4 768.1,495.4 774.3,526.0 780.5,508.9 786.7,481.8 792.9,480.3 799.0,502.9 805.2,457.8 811.4,463.0 817.6,463.8 823.8,490.9 830.0,447.2 836.1,396.8 842.3,418.6 848.5,415.6 854.7,393.0 860.9,321.5 867.0,296.7 873.2,314.0 879.4,326.0 885.6,318.5 891.8,307.2 898.0,295.2 904.1,322.3 910.3,314.7 916.5,317.0 922.7,289.1 928.9,285.4 935.0,271.8 941.2,283.1 947.4,266.6 953.6,258.0 959.8,279.1 965.9,265.5 972.1,262.5 978.3,253.5 984.5,255.7 990.7,258.7 996.9,252.0 1003.0,271.5 1009.2,250.5 1015.4,256.5 1021.6,264.8 1027.8,270.8 1033.9,272.3 1040.1,267.0 1046.3,276.0 1052.5,242.9 1058.7,236.9 1064.9,255.7 1071.0,235.4 1077.2,255.7 1083.4,249.7 1089.6,238.4 1095.8,242.9 1101.9,250.5 1108.1,263.2 1114.3,264.0 1120.5,276.8 1126.7,264.8 1132.8,258.0 1139.0,267.8 1145.2,254.2 1151.4,258.0 1157.6,251.2 1163.8,264.8 1169.9,260.2 1176.1,256.5 1182.3,246.3 1188.5,255.4 1194.7,261.4 1200.8,259.9 1207.0,250.9 1213.2,266.7 1219.4,279.5 1225.6,301.3 1231.8,299.0 1237.9,281.7 1244.1,302.1 1250.3,292.3 1256.5,329.9 1262.7,351.0 1268.8,367.7 1275.0,376.8 1281.2,405.4 1287.4,426.5 1293.6,412.9 1299.8,419.6 1305.9,433.9 1312.1,451.2 1318.3,443.7 1324.5,439.1 1330.7,436.9 1336.8,452.7 1343.0,433.1 1349.2,432.4 1355.4,454.2 1361.6,453.5 1367.7,458.7 1373.9,460.2 1380.1,458.7 1386.3,453.5 1392.5,458.0 1398.7,458.7 1404.8,475.3 1411.0,440.7 1417.2,446.7 1423.4,451.2 1429.6,455.7 1435.7,460.2 1441.9,451.9 1448.1,426.3 1454.3,401.0 1460.5,379.2 1466.7,373.9 1472.8,369.4 1479.0,333.2 1485.2,315.2 1491.4,291.1 1497.6,277.5 1503.7,264.5 1509.9,230.7 1516.1,248.0 1516.1,584.7 1509.9,555.7 1503.7,557.9 1497.6,551.2 1491.4,549.7 1485.2,552.7 1479.0,542.9 1472.8,542.1 1466.7,539.1 1460.5,534.6 1454.3,541.4 1448.1,539.1 1441.9,523.3 1435.7,527.1 1429.6,518.9 1423.4,510.7 1417.2,497.9 1411.0,485.8 1404.8,511.4 1398.7,490.3 1392.5,491.1 1386.3,473.0 1380.1,477.5 1373.9,475.3 1367.7,470.8 1361.6,460.2 1355.4,461.0 1349.2,436.1 1343.0,436.9 1336.8,452.7 1330.7,436.9 1324.5,439.1 1318.3,443.7 1312.1,451.2 1305.9,433.9 1299.8,422.4 1293.6,412.9 1287.4,426.5 1281.2,405.4 1275.0,376.8 1268.8,367.7 1262.7,351.0 1256.5,329.9 1250.3,292.3 1244.1,302.1 1237.9,281.7 1231.8,299.0 1225.6,301.3 1219.4,279.5 1213.2,266.7 1207.0,250.9 1200.8,259.9 1194.7,261.4 1188.5,255.4 1182.3,246.3 1176.1,256.5 1169.9,260.2 1163.8,264.8 1157.6,251.2 1151.4,258.0 1145.2,254.2 1139.0,267.8 1132.8,258.0 1126.7,264.8 1120.5,276.8 1114.3,264.0 1108.1,263.2 1101.9,250.5 1095.8,242.9 1089.6,238.4 1083.4,249.7 1077.2,255.7 1071.0,235.4 1064.9,255.7 1058.7,236.9 1052.5,242.9 1046.3,276.0 1040.1,267.0 1033.9,272.3 1027.8,270.8 1021.6,264.8 1015.4,256.5 1009.2,250.5 1003.0,271.5 996.9,252.0 990.7,258.7 984.5,255.7 978.3,253.5 972.1,262.5 965.9,265.5 959.8,279.1 953.6,258.0 947.4,266.6 941.2,283.1 935.0,271.8 928.9,285.4 922.7,289.1 916.5,317.0 910.3,314.7 904.1,322.3 898.0,295.2 891.8,307.2 885.6,318.5 879.4,326.0 873.2,314.0 867.0,296.7 860.9,321.5 854.7,393.0 848.5,415.6 842.3,418.6 836.1,396.8 830.0,447.2 823.8,490.9 817.6,463.8 811.4,463.0 805.2,457.8 799.0,502.9 792.9,480.3 786.7,481.8 780.5,508.9 774.3,526.0 768.1,495.4 762.0,483.4 755.8,492.4 749.6,508.9 743.4,505.9 737.2,486.4 731.1,496.9 724.9,493.9 718.7,518.0 712.5,518.5 706.3,525.3 700.1,537.3 694.0,544.9 687.8,540.3 681.6,552.4 675.4,553.1 669.2,546.4 663.1,556.9 656.9,556.9 650.7,556.1 644.5,556.9 638.3,565.2 632.1,545.6 626.0,563.7 619.8,563.7 613.6,571.2 607.4,578.7 601.2,575.0 595.1,580.2 588.9,587.8 582.7,590.8 576.5,594.5 570.3,593.0 564.2,611.1 558.0,591.5 551.8,586.2 545.6,585.5 539.4,578.7 533.2,568.2 527.1,597.5 520.9,605.8 514.7,601.3 508.5,593.0 502.3,602.1 496.2,622.7 490.0,606.1 483.8,626.9 477.6,623.9 471.4,620.1 465.2,649.0 459.1,633.7 452.9,637.4 446.7,632.9 440.5,639.7 434.3,620.4 428.2,634.7 422.0,651.7 415.8,651.0 409.6,634.7 403.4,626.4 397.3,654.2 391.1,655.0 384.9,655.0 378.7,662.5 372.5,667.0 366.3,678.3 360.2,680.6 354.0,682.8 347.8,679.1 341.6,683.6 335.4,684.3 329.3,671.5 323.1,656.5 316.9,669.3 310.7,665.5 304.5,655.0 298.3,673.0 292.2,668.5 286.0,651.2 279.8,672.3 273.6,664.0 267.4,688.8 261.3,688.1 255.1,682.1 248.9,676.8 242.7,671.5 236.5,648.2 230.4,658.7 224.2,659.5 218.0,675.6 211.8,676.3 205.6,647.4 199.4,646.7 193.3,664.3 187.1,647.0 180.9,641.0" fill="#808000"/>
<polygon points="180.9,640.7 187.1,646.7 193.3,664.0 199.4,644.4 205.6,646.7 211.8,676.0 218.0,675.3 224.2,658.0 230.4,658.0 236.5,647.4 242.7,668.5 248.9,673.0 255.1,679.1 261.3,685.1 267.4,686.6 273.6,662.5 279.8,671.5 286.0,650.5 292.2,667.0 298.3,668.5 304.5,648.9 310.7,662.5 316.9,667.0 323.1,653.5 329.3,668.5 335.4,680.6 341.6,681.3 347.8,677.6 354.0,680.6 360.2,678.3 366.3,676.0 372.5,664.0 378.7,659.5 384.9,652.7 391.1,652.7 397.3,651.2 403.4,623.4 409.6,634.4 415.8,648.7 422.0,649.5 428.2,634.4 434.3,620.1 440.5,638.9 446.7,631.4 452.9,635.9 459.1,632.9 465.2,648.7 471.4,618.6 477.6,622.4 483.8,625.4 490.0,605.8 496.2,622.4 502.3,601.3 508.5,592.3 514.7,598.3 520.9,598.3 527.1,595.3 533.2,565.2 539.4,574.2 545.6,580.2 551.8,582.5 558.0,589.3 564.2,610.3 570.3,589.3 576.5,590.8 582.7,586.2 588.9,582.5 595.1,574.2 601.2,571.2 607.4,571.2 613.6,564.4 619.8,557.6 626.0,556.1 632.1,539.6 638.3,562.9 644.5,550.9 650.7,553.9 656.9,553.9 663.1,552.4 669.2,542.6 675.4,549.4 681.6,547.9 687.8,537.3 694.0,540.3 700.1,531.3 706.3,520.8 712.5,511.7 718.7,516.5 724.9,489.4 731.1,493.9 737.2,481.8 743.4,502.9 749.6,505.9 755.8,489.4 762.0,477.3 768.1,492.4 774.3,525.5 780.5,505.9 786.7,477.3 792.9,468.3 799.0,499.9 805.2,454.7 811.4,460.8 817.6,436.7 823.8,489.4 830.0,445.7 836.1,395.3 842.3,412.6 848.5,412.6 854.7,391.5 860.9,320.8 867.0,295.2 873.2,313.2 879.4,325.3 885.6,316.2 891.8,304.2 898.0,293.7 904.1,320.8 910.3,287.6 916.5,316.2 922.7,277.1 928.9,282.4 935.0,254.5 941.2,262.0 947.4,260.5 953.6,241.4 959.8,274.5 965.9,261.0 972.1,248.9 978.3,237.7 984.5,252.0 990.7,242.9 996.9,238.4 1003.0,269.3 1009.2,245.9 1015.4,251.2 1021.6,258.7 1027.8,269.3 1033.9,270.8 1040.1,264.8 1046.3,273.0 1052.5,237.7 1058.7,230.9 1064.9,252.0 1071.0,226.4 1077.2,252.0 1083.4,238.4 1089.6,228.6 1095.8,231.6 1101.9,229.4 1108.1,254.2 1114.3,252.0 1120.5,264.8 1126.7,250.5 1132.8,242.9 1139.0,248.2 1145.2,241.4 1151.4,238.4 1157.6,240.7 1163.8,249.7 1169.9,242.9 1176.1,232.4 1182.3,232.8 1188.5,242.6 1194.7,252.4 1200.8,244.8 1207.0,242.6 1213.2,256.1 1219.4,269.7 1225.6,293.8 1231.8,284.0 1237.9,271.9 1244.1,294.5 1250.3,285.5 1256.5,322.4 1262.7,340.5 1268.8,354.0 1275.0,364.0 1281.2,380.5 1287.4,407.6 1293.6,396.3 1299.8,407.6 1305.9,419.6 1312.1,433.1 1318.3,416.6 1324.5,413.6 1330.7,409.8 1336.8,436.1 1343.0,414.3 1349.2,412.8 1355.4,424.8 1361.6,415.8 1367.7,434.6 1373.9,441.4 1380.1,433.1 1386.3,423.3 1392.5,436.1 1398.7,436.1 1404.8,454.2 1411.0,424.1 1417.2,434.6 1423.4,439.1 1429.6,443.7 1435.7,446.7 1441.9,442.2 1448.1,420.6 1454.3,388.9 1460.5,367.1 1466.7,361.8 1472.8,359.6 1479.0,330.2 1485.2,312.9 1491.4,289.6 1497.6,276.8 1503.7,261.5 1509.9,222.4 1516.1,231.4 1516.1,248.0 1509.9,230.7 1503.7,264.5 1497.6,277.5 1491.4,291.1 1485.2,315.2 1479.0,333.2 1472.8,369.4 1466.7,373.9 1460.5,379.2 1454.3,401.0 1448.1,426.3 1441.9,451.9 1435.7,460.2 1429.6,455.7 1423.4,451.2 1417.2,446.7 1411.0,440.7 1404.8,475.3 1398.7,458.7 1392.5,458.0 1386.3,453.5 1380.1,458.7 1373.9,460.2 1367.7,458.7 1361.6,453.5 1355.4,454.2 1349.2,432.4 1343.0,433.1 1336.8,452.7 1330.7,436.9 1324.5,439.1 1318.3,443.7 1312.1,451.2 1305.9,433.9 1299.8,419.6 1293.6,412.9 1287.4,426.5 1281.2,405.4 1275.0,376.8 1268.8,367.7 1262.7,351.0 1256.5,329.9 1250.3,292.3 1244.1,302.1 1237.9,281.7 1231.8,299.0 1225.6,301.3 1219.4,279.5 1213.2,266.7 1207.0,250.9 1200.8,259.9 1194.7,261.4 1188.5,255.4 1182.3,246.3 1176.1,256.5 1169.9,260.2 1163.8,264.8 1157.6,251.2 1151.4,258.0 1145.2,254.2 1139.0,267.8 1132.8,258.0 1126.7,264.8 1120.5,276.8 1114.3,264.0 1108.1,263.2 1101.9,250.5 1095.8,242.9 1089.6,238.4 1083.4,249.7 1077.2,255.7 1071.0,235.4 1064.9,255.7 1058.7,236.9 1052.5,242.9 1046.3,276.0 1040.1,267.0 1033.9,272.3 1027.8,270.8 1021.6,264.8 1015.4,256.5 1009.2,250.5 1003.0,271.5 996.9,252.0 990.7,258.7 984.5,255.7 978.3,253.5 972.1,262.5 965.9,265.5 959.8,279.1 953.6,258.0 947.4,266.6 941.2,283.1 935.0,271.8 928.9,285.4 922.7,289.1 916.5,317.0 910.3,314.7 904.1,322.3 898.0,295.2 891.8,307.2 885.6,318.5 879.4,326.0 873.2,314.0 867.0,296.7 860.9,321.5 854.7,393.0 848.5,415.6 842.3,418.6 836.1,396.8 830.0,447.2 823.8,490.9 817.6,463.8 811.4,463.0 805.2,457.8 799.0,502.9 792.9,480.3 786.7,481.8 780.5,508.9 774.3,526.0 768.1,495.4 762.0,483.4 755.8,492.4 749.6,508.9 743.4,505.9 737.2,486.4 731.1,496.9 724.9,493.9 718.7,518.0 712.5,518.5 706.3,525.3 700.1,537.3 694.0,544.9 687.8,540.3 681.6,552.4 675.4,553.1 669.2,546.4 663.1,556.9 656.9,556.9 650.7,556.1 644.5,556.9 638.3,565.2 632.1,545.6 626.0,563.7 619.8,563.7 613.6,571.2 607.4,578.7 601.2,575.0 595.1,580.2 588.9,587.8 582.7,590.8 576.5,594.5 570.3,593.0 564.2,611.1 558.0,591.5 551.8,586.2 545.6,585.5 539.4,578.7 533.2,568.2 527.1,597.5 520.9,605.8 514.7,601.3 508.5,593.0 502.3,602.1 496.2,622.7 490.0,606.1 483.8,626.9 477.6,623.9 471.4,620.1 465.2,649.0 459.1,633.7 452.9,637.4 446.7,632.9 440.5,639.7 434.3,620.4 428.2,634.7 422.0,651.7 415.8,651.0 409.6,634.7 403.4,626.4 397.3,654.2 391.1,655.0 384.9,655.0 378.7,662.5 372.5,667.0 366.3,678.3 360.2,680.6 354.0,682.8 347.8,679.1 341.6,683.6 335.4,684.3 329.3,671.5 323.1,656.5 316.9,669.3 310.7,665.5 304.5,655.0 298.3,673.0 292.2,668.5 286.0,651.2 279.8,672.3 273.6,664.0 267.4,688.8 261.3,688.1 255.1,682.1 248.9,676.8 242.7,671.5 236.5,648.2 230.4,658.7 224.2,659.5 218.0,675.6 211.8,676.3 205.6,647.4 199.4,646.7 193.3,664.3 187.1,647.0 180.9,641.0" fill="#aaffc3"/>
<polygon points="180.9,615.8 187.1,618.8 193.3,624.1 199.4,631.6 205.6,626.4 211.8,648.9 218.0,658.0 224.2,638.4 230.4,641.4 236.5,627.9 242.7,658.0 248.9,653.5 255.1,650.5 261.3,656.5 267.4,652.0 273.6,630.9 279.8,644.4 286.0,628.6 292.2,644.4 298.3,655.0 304.5,621.8 310.7,636.9 316.9,629.4 323.1,615.8 329.3,627.9 335.4,640.7 341.6,579.7 347.8,597.8 354.0,644.4 360.2,638.4 366.3,620.3 372.5,614.3 378.7,615.1 384.9,618.8 391.1,614.3 397.3,620.3 403.4,569.1 409.6,586.2 415.8,623.9 422.0,622.4 428.2,610.3 434.3,586.2 440.5,606.6 446.7,601.3 452.9,600.6 459.1,596.8 465.2,604.3 471.4,538.8 477.6,581.7 483.8,580.2 490.0,578.0 496.2,589.3 502.3,556.1 508.5,546.3 514.7,536.6 520.9,553.9 527.1,553.9 533.2,535.1 539.4,544.1 545.6,551.6 551.8,552.4 558.0,489.1 564.2,526.0 570.3,522.3 576.5,551.6 582.7,552.4 588.9,523.0 595.1,511.0 601.2,524.5 607.4,521.5 613.6,522.3 619.8,515.5 626.0,514.0 632.1,485.4 638.3,520.0 644.5,493.7 650.7,528.3 656.9,507.2 663.1,493.7 669.2,482.4 675.4,480.1 681.6,493.7 687.8,502.7 694.0,504.2 700.1,493.7 706.3,480.1 712.5,471.1 718.7,456.2 724.9,430.7 731.1,447.2 737.2,435.2 743.4,463.8 749.6,478.8 755.8,460.8 762.0,444.2 768.1,454.7 774.3,495.4 780.5,480.3 786.7,462.3 792.9,442.7 799.0,456.2 805.2,418.6 811.4,426.1 817.6,412.6 823.8,462.3 830.0,352.4 836.1,346.7 842.3,377.5 848.5,370.8 854.7,330.1 860.9,295.2 867.0,276.3 873.2,289.9 879.4,302.7 885.6,285.4 891.8,280.3 898.0,273.8 904.1,299.7 910.3,269.6 916.5,271.1 922.7,253.0 928.9,243.4 935.0,229.3 941.2,227.3 947.4,233.9 953.6,215.8 959.8,245.9 965.9,235.4 972.1,226.4 978.3,218.8 984.5,224.1 990.7,220.3 996.9,218.8 1003.0,245.9 1009.2,233.1 1015.4,241.4 1021.6,248.9 1027.8,255.0 1033.9,250.5 1040.1,242.2 1046.3,248.9 1052.5,219.6 1058.7,214.3 1064.9,226.4 1071.0,206.8 1077.2,225.6 1083.4,222.6 1089.6,212.8 1095.8,215.8 1101.9,215.8 1108.1,234.6 1114.3,239.9 1120.5,248.9 1126.7,235.4 1132.8,227.9 1139.0,233.1 1145.2,224.1 1151.4,223.4 1157.6,221.1 1163.8,229.4 1169.9,223.4 1176.1,215.8 1182.3,219.2 1188.5,221.5 1194.7,230.5 1200.8,226.8 1207.0,223.0 1213.2,239.6 1219.4,251.6 1225.6,265.2 1231.8,259.9 1237.9,247.1 1244.1,260.7 1250.3,256.1 1256.5,292.3 1262.7,316.4 1268.8,329.9 1275.0,345.0 1281.2,365.5 1287.4,382.0 1293.6,372.3 1299.8,384.8 1305.9,384.4 1312.1,409.3 1318.3,392.0 1324.5,385.9 1330.7,382.2 1336.8,408.5 1343.0,389.7 1349.2,385.9 1355.4,400.2 1361.6,392.7 1367.7,395.0 1373.9,402.5 1380.1,405.5 1386.3,392.0 1392.5,405.5 1398.7,412.3 1404.8,428.8 1411.0,395.0 1417.2,404.0 1423.4,413.0 1429.6,412.3 1435.7,419.8 1441.9,409.3 1448.1,370.9 1454.3,363.4 1460.5,337.8 1466.7,335.5 1472.8,331.7 1479.0,302.4 1485.2,291.1 1491.4,269.2 1497.6,250.2 1503.7,228.4 1509.9,205.1 1516.1,220.9 1516.1,231.4 1509.9,222.4 1503.7,261.5 1497.6,276.8 1491.4,289.6 1485.2,312.9 1479.0,330.2 1472.8,359.6 1466.7,361.8 1460.5,367.1 1454.3,388.9 1448.1,420.6 1441.9,442.2 1435.7,446.7 1429.6,443.7 1423.4,439.1 1417.2,434.6 1411.0,424.1 1404.8,454.2 1398.7,436.1 1392.5,436.1 1386.3,423.3 1380.1,433.1 1373.9,441.4 1367.7,434.6 1361.6,415.8 1355.4,424.8 1349.2,412.8 1343.0,414.3 1336.8,436.1 1330.7,409.8 1324.5,413.6 1318.3,416.6 1312.1,433.1 1305.9,419.6 1299.8,407.6 1293.6,396.3 1287.4,407.6 1281.2,380.5 1275.0,364.0 1268.8,354.0 1262.7,340.5 1256.5,322.4 1250.3,285.5 1244.1,294.5 1237.9,271.9 1231.8,284.0 1225.6,293.8 1219.4,269.7 1213.2,256.1 1207.0,242.6 1200.8,244.8 1194.7,252.4 1188.5,242.6 1182.3,232.8 1176.1,232.4 1169.9,242.9 1163.8,249.7 1157.6,240.7 1151.4,238.4 1145.2,241.4 1139.0,248.2 1132.8,242.9 1126.7,250.5 1120.5,264.8 1114.3,252.0 1108.1,254.2 1101.9,229.4 1095.8,231.6 1089.6,228.6 1083.4,238.4 1077.2,252.0 1071.0,226.4 1064.9,252.0 1058.7,230.9 1052.5,237.7 1046.3,273.0 1040.1,264.8 1033.9,270.8 1027.8,269.3 1021.6,258.7 1015.4,251.2 1009.2,245.9 1003.0,269.3 996.9,238.4 990.7,242.9 984.5,252.0 978.3,237.7 972.1,248.9 965.9,261.0 959.8,274.5 953.6,241.4 947.4,260.5 941.2,262.0 935.0,254.5 928.9,282.4 922.7,277.1 916.5,316.2 910.3,287.6 904.1,320.8 898.0,293.7 891.8,304.2 885.6,316.2 879.4,325.3 873.2,313.2 867.0,295.2 860.9,320.8 854.7,391.5 848.5,412.6 842.3,412.6 836.1,395.3 830.0,445.7 823.8,489.4 817.6,436.7 811.4,460.8 805.2,454.7 799.0,499.9 792.9,468.3 786.7,477.3 780.5,505.9 774.3,525.5 768.1,492.4 762.0,477.3 755.8,489.4 749.6,505.9 743.4,502.9 737.2,481.8 731.1,493.9 724.9,489.4 718.7,516.5 712.5,511.7 706.3,520.8 700.1,531.3 694.0,540.3 687.8,537.3 681.6,547.9 675.4,549.4 669.2,542.6 663.1,552.4 656.9,553.9 650.7,553.9 644.5,550.9 638.3,562.9 632.1,539.6 626.0,556.1 619.8,557.6 613.6,564.4 607.4,571.2 601.2,571.2 595.1,574.2 588.9,582.5 582.7,586.2 576.5,590.8 570.3,589.3 564.2,610.3 558.0,589.3 551.8,582.5 545.6,580.2 539.4,574.2 533.2,565.2 527.1,595.3 520.9,598.3 514.7,598.3 508.5,592.3 502.3,601.3 496.2,622.4 490.0,605.8 483.8,625.4 477.6,622.4 471.4,618.6 465.2,648.7 459.1,632.9 452.9,635.9 446.7,631.4 440.5,638.9 434.3,620.1 428.2,634.4 422.0,649.5 415.8,648.7 409.6,634.4 403.4,623.4 397.3,651.2 391.1,652.7 384.9,652.7 378.7,659.5 372.5,664.0 366.3,676.0 360.2,678.3 354.0,680.6 347.8,677.6 341.6,681.3 335.4,680.6 329.3,668.5 323.1,653.5 316.9,667.0 310.7,662.5 304.5,648.9 298.3,668.5 292.2,667.0 286.0,650.5 279.8,671.5 273.6,662.5 267.4,686.6 261.3,685.1 255.1,679.1 248.9,673.0 242.7,668.5 236.5,647.4 230.4,658.0 224.2,658.0 218.0,675.3 211.8,676.0 205.6,646.7 199.4,644.4 193.3,664.0 187.1,646.7 180.9,640.7" fill="#800000"/>
<polygon points="180.9,614.9 187.1,617.9 193.3,622.9 199.4,627.7 205.6,623.4 211.8,648.3 218.0,657.4 224.2,634.8 230.4,637.2 236.5,625.5 242.7,654.4 248.9,651.1 255.1,648.6 261.3,655.3 267.4,651.4 273.6,630.3 279.8,643.8 286.0,626.8 292.2,642.0 298.3,652.6 304.5,620.9 310.7,633.3 316.9,628.2 323.1,614.6 329.3,627.0 335.4,639.8 341.6,579.4 347.8,597.5 354.0,643.2 360.2,636.6 366.3,619.1 372.5,612.2 378.7,611.8 384.9,616.4 391.1,611.9 397.3,619.1 403.4,568.8 409.6,585.5 415.8,620.9 422.0,619.4 428.2,608.8 434.3,585.5 440.5,603.2 446.7,597.5 452.9,596.4 459.1,596.0 465.2,603.6 471.4,538.4 477.6,579.5 483.8,576.5 490.0,575.3 496.2,587.8 502.3,551.6 508.5,545.2 514.7,533.9 520.9,548.2 527.1,548.6 533.2,530.9 539.4,536.9 545.6,545.6 551.8,549.0 558.0,488.4 564.2,524.5 570.3,521.1 576.5,547.1 582.7,547.9 588.9,521.5 595.1,506.5 601.2,520.0 607.4,519.3 613.6,520.0 619.8,511.0 626.0,510.2 632.1,480.9 638.3,517.8 644.5,489.9 650.7,526.8 656.9,505.0 663.1,490.7 669.2,479.4 675.4,477.9 681.6,491.0 687.8,500.4 694.0,501.9 700.1,491.4 706.3,476.3 712.5,467.7 718.7,450.2 724.9,424.6 731.1,441.2 737.2,429.1 743.4,457.8 749.6,468.3 755.8,454.7 762.0,435.2 768.1,448.7 774.3,489.4 780.5,474.3 786.7,454.7 792.9,436.7 799.0,450.2 805.2,409.6 811.4,418.6 817.6,405.1 823.8,456.2 830.0,341.8 836.1,312.8 842.3,367.0 848.5,358.7 854.7,324.8 860.9,265.1 867.0,254.5 873.2,266.6 879.4,280.1 885.6,272.6 891.8,265.1 898.0,256.0 904.1,274.1 910.3,250.0 916.5,238.3 922.7,229.3 928.9,227.3 935.0,218.3 941.2,209.2 947.4,209.8 953.6,194.7 959.8,227.9 965.9,217.3 972.1,206.8 978.3,196.2 984.5,200.0 990.7,198.5 996.9,197.8 1003.0,227.9 1009.2,202.3 1015.4,202.3 1021.6,216.6 1027.8,222.6 1033.9,209.8 1040.1,212.1 1046.3,231.6 1052.5,198.5 1058.7,197.0 1064.9,204.5 1071.0,185.7 1077.2,207.5 1083.4,196.2 1089.6,188.0 1095.8,193.2 1101.9,190.2 1108.1,213.6 1114.3,212.8 1120.5,221.8 1126.7,207.5 1132.8,194.7 1139.0,206.8 1145.2,202.3 1151.4,196.2 1157.6,198.5 1163.8,204.5 1169.9,209.0 1176.1,193.2 1182.3,186.7 1188.5,194.2 1194.7,192.7 1200.8,190.7 1207.0,197.3 1213.2,211.0 1219.4,219.2 1225.6,242.6 1231.8,238.1 1237.9,225.3 1244.1,239.6 1250.3,236.6 1256.5,271.2 1262.7,296.8 1268.8,305.1 1275.0,313.4 1281.2,336.7 1287.4,357.0 1293.6,349.5 1299.8,361.8 1305.9,360.3 1312.1,385.9 1318.3,367.9 1324.5,362.6 1330.7,364.9 1336.8,386.7 1343.0,362.6 1349.2,361.1 1355.4,380.7 1361.6,372.4 1367.7,373.1 1373.9,374.6 1380.1,376.9 1386.3,363.4 1392.5,385.9 1398.7,390.5 1404.8,407.8 1411.0,362.6 1417.2,376.9 1423.4,390.5 1429.6,388.9 1435.7,398.0 1441.9,386.7 1448.1,358.8 1454.3,342.3 1460.5,314.4 1466.7,313.7 1472.8,309.1 1479.0,281.3 1485.2,264.0 1491.4,240.5 1497.6,234.4 1503.7,210.3 1509.9,186.2 1516.1,202.1 1516.1,220.9 1509.9,205.1 1503.7,228.4 1497.6,250.2 1491.4,269.2 1485.2,291.1 1479.0,302.4 1472.8,331.7 1466.7,335.5 1460.5,337.8 1454.3,363.4 1448.1,370.9 1441.9,409.3 1435.7,419.8 1429.6,412.3 1423.4,413.0 1417.2,404.0 1411.0,395.0 1404.8,428.8 1398.7,412.3 1392.5,405.5 1386.3,392.0 1380.1,405.5 1373.9,402.5 1367.7,395.0 1361.6,392.7 1355.4,400.2 1349.2,385.9 1343.0,389.7 1336.8,408.5 1330.7,382.2 1324.5,385.9 1318.3,392.0 1312.1,409.3 1305.9,384.4 1299.8,384.8 1293.6,372.3 1287.4,382.0 1281.2,365.5 1275.0,345.0 1268.8,329.9 1262.7,316.4 1256.5,292.3 1250.3,256.1 1244.1,260.7 1237.9,247.1 1231.8,259.9 1225.6,265.2 1219.4,251.6 1213.2,239.6 1207.0,223.0 1200.8,226.8 1194.7,230.5 1188.5,221.5 1182.3,219.2 1176.1,215.8 1169.9,223.4 1163.8,229.4 1157.6,221.1 1151.4,223.4 1145.2,224.1 1139.0,233.1 1132.8,227.9 1126.7,235.4 1120.5,248.9 1114.3,239.9 1108.1,234.6 1101.9,215.8 1095.8,215.8 1089.6,212.8 1083.4,222.6 1077.2,225.6 1071.0,206.8 1064.9,226.4 1058.7,214.3 1052.5,219.6 1046.3,248.9 1040.1,242.2 1033.9,250.5 1027.8,255.0 1021.6,248.9 1015.4,241.4 1009.2,233.1 1003.0,245.9 996.9,218.8 990.7,220.3 984.5,224.1 978.3,218.8 972.1,226.4 965.9,235.4 959.8,245.9 953.6,215.8 947.4,233.9 941.2,227.3 935.0,229.3 928.9,243.4 922.7,253.0 916.5,271.1 910.3,269.6 904.1,299.7 898.0,273.8 891.8,280.3 885.6,285.4 879.4,302.7 873.2,289.9 867.0,276.3 860.9,295.2 854.7,330.1 848.5,370.8 842.3,377.5 836.1,346.7 830.0,352.4 823.8,462.3 817.6,412.6 811.4,426.1 805.2,418.6 799.0,456.2 792.9,442.7 786.7,462.3 780.5,480.3 774.3,495.4 768.1,454.7 762.0,444.2 755.8,460.8 749.6,478.8 743.4,463.8 737.2,435.2 731.1,447.2 724.9,430.7 718.7,456.2 712.5,471.1 706.3,480.1 700.1,493.7 694.0,504.2 687.8,502.7 681.6,493.7 675.4,480.1 669.2,482.4 663.1,493.7 656.9,507.2 650.7,528.3 644.5,493.7 638.3,520.0 632.1,485.4 626.0,514.0 619.8,515.5 613.6,522.3 607.4,521.5 601.2,524.5 595.1,511.0 588.9,523.0 582.7,552.4 576.5,551.6 570.3,522.3 564.2,526.0 558.0,489.1 551.8,552.4 545.6,551.6 539.4,544.1 533.2,535.1 527.1,553.9 520.9,553.9 514.7,536.6 508.5,546.3 502.3,556.1 496.2,589.3 490.0,578.0 483.8,580.2 477.6,581.7 471.4,538.8 465.2,604.3 459.1,596.8 452.9,600.6 446.7,601.3 440.5,606.6 434.3,586.2 428.2,610.3 422.0,622.4 415.8,623.9 409.6,586.2 403.4,569.1 397.3,620.3 391.1,614.3 384.9,618.8 378.7,615.1 372.5,614.3 366.3,620.3 360.2,638.4 354.0,644.4 347.8,597.8 341.6,579.7 335.4,640.7 329.3,627.9 323.1,615.8 316.9,629.4 310.7,636.9 304.5,621.8 298.3,655.0 292.2,644.4 286.0,628.6 279.8,644.4 273.6,630.9 267.4,652.0 261.3,656.5 255.1,650.5 248.9,653.5 242.7,658.0 236.5,627.9 230.4,641.4 224.2,638.4 218.0,658.0 211.8,648.9 205.6,626.4 199.4,631.6 193.3,624.1 187.1,618.8 180.9,615.8" fill="#fffac8"/>
<polygon points="180.9,613.6 187.1,616.6 193.3,621.1 199.4,621.8 205.6,618.8 211.8,647.4 218.0,656.5 224.2,629.4 230.4,630.9 236.5,621.8 242.7,648.9 248.9,647.4 255.1,645.9 261.3,653.5 267.4,650.5 273.6,629.4 279.8,642.9 286.0,624.1 292.2,638.4 298.3,648.9 304.5,619.6 310.7,627.9 316.9,626.4 323.1,612.8 329.3,625.6 335.4,638.4 341.6,578.9 347.8,597.0 354.0,641.4 360.2,633.9 366.3,617.3 372.5,609.0 378.7,606.8 384.9,612.8 391.1,608.3 397.3,617.3 403.4,568.4 409.6,584.7 415.8,617.9 422.0,616.4 428.2,607.3 434.3,584.7 440.5,599.8 446.7,593.8 452.9,592.3 459.1,595.3 465.2,602.8 471.4,538.1 477.6,577.2 483.8,572.7 490.0,572.7 496.2,586.2 502.3,547.1 508.5,544.1 514.7,531.3 520.9,542.6 527.1,543.3 533.2,526.8 539.4,529.8 545.6,539.6 551.8,545.6 558.0,487.6 564.2,523.0 570.3,520.0 576.5,542.6 582.7,543.3 588.9,520.0 595.1,501.2 601.2,514.8 607.4,516.3 613.6,517.0 619.8,505.0 626.0,505.7 632.1,475.6 638.3,514.8 644.5,486.1 650.7,525.3 656.9,502.7 663.1,487.6 669.2,476.3 675.4,475.6 681.6,488.4 687.8,498.2 694.0,499.7 700.1,489.1 706.3,472.6 712.5,464.3 718.7,447.2 724.9,420.1 731.1,435.2 737.2,423.9 743.4,454.0 749.6,460.8 755.8,448.7 762.0,427.6 768.1,444.2 774.3,486.4 780.5,469.8 786.7,450.2 792.9,434.4 799.0,447.2 805.2,403.6 811.4,412.6 817.6,399.0 823.8,453.2 830.0,340.3 836.1,308.3 842.3,363.2 848.5,351.9 854.7,321.1 860.9,265.1 867.0,244.4 873.2,256.2 879.4,268.3 885.6,259.3 891.8,244.2 898.0,228.3 904.1,248.4 910.3,233.3 916.5,211.2 922.7,218.3 928.9,207.2 935.0,197.2 941.2,198.2 947.4,199.3 953.6,170.7 959.8,211.3 965.9,190.2 972.1,178.9 978.3,172.9 984.5,170.7 990.7,166.1 996.9,167.6 1003.0,182.7 1009.2,169.1 1015.4,185.0 1021.6,197.0 1027.8,200.8 1033.9,181.9 1040.1,178.2 1046.3,191.7 1052.5,159.4 1058.7,166.1 1064.9,161.6 1071.0,154.1 1077.2,166.9 1083.4,168.4 1089.6,157.9 1095.8,163.9 1101.9,165.4 1108.1,185.0 1114.3,169.1 1120.5,179.7 1126.7,169.9 1132.8,167.6 1139.0,167.6 1145.2,166.9 1151.4,167.6 1157.6,166.1 1163.8,176.7 1169.9,178.2 1176.1,163.9 1182.3,150.1 1188.5,156.6 1194.7,162.1 1200.8,164.6 1207.0,158.6 1213.2,174.2 1219.4,183.2 1225.6,215.8 1231.8,207.3 1237.9,199.3 1244.1,200.8 1250.3,199.8 1256.5,222.0 1262.7,256.9 1268.8,271.2 1275.0,262.2 1281.2,299.8 1287.4,320.1 1293.6,310.3 1299.8,323.9 1305.9,328.4 1312.1,352.5 1318.3,320.9 1324.5,295.3 1330.7,298.3 1336.8,323.9 1343.0,295.3 1349.2,291.5 1355.4,317.9 1361.6,310.3 1367.7,332.9 1373.9,326.1 1380.1,319.4 1386.3,331.4 1392.5,336.7 1398.7,344.2 1404.8,352.5 1411.0,328.4 1417.2,342.3 1423.4,354.3 1429.6,357.3 1435.7,357.3 1441.9,358.1 1448.1,330.2 1454.3,303.1 1460.5,282.8 1466.7,279.0 1472.8,273.0 1479.0,245.0 1485.2,231.4 1491.4,198.3 1497.6,190.8 1503.7,171.9 1509.9,154.6 1516.1,171.9 1516.1,202.1 1509.9,186.2 1503.7,210.3 1497.6,234.4 1491.4,240.5 1485.2,264.0 1479.0,281.3 1472.8,309.1 1466.7,313.7 1460.5,314.4 1454.3,342.3 1448.1,358.8 1441.9,386.7 1435.7,398.0 1429.6,388.9 1423.4,390.5 1417.2,376.9 1411.0,362.6 1404.8,407.8 1398.7,390.5 1392.5,385.9 1386.3,363.4 1380.1,376.9 1373.9,374.6 1367.7,373.1 1361.6,372.4 1355.4,380.7 1349.2,361.1 1343.0,362.6 1336.8,386.7 1330.7,364.9 1324.5,362.6 1318.3,367.9 1312.1,385.9 1305.9,360.3 1299.8,361.8 1293.6,349.5 1287.4,357.0 1281.2,336.7 1275.0,313.4 1268.8,305.1 1262.7,296.8 1256.5,271.2 1250.3,236.6 1244.1,239.6 1237.9,225.3 1231.8,238.1 1225.6,242.6 1219.4,219.2 1213.2,211.0 1207.0,197.3 1200.8,190.7 1194.7,192.7 1188.5,194.2 1182.3,186.7 1176.1,193.2 1169.9,209.0 1163.8,204.5 1157.6,198.5 1151.4,196.2 1145.2,202.3 1139.0,206.8 1132.8,194.7 1126.7,207.5 1120.5,221.8 1114.3,212.8 1108.1,213.6 1101.9,190.2 1095.8,193.2 1089.6,188.0 1083.4,196.2 1077.2,207.5 1071.0,185.7 1064.9,204.5 1058.7,197.0 1052.5,198.5 1046.3,231.6 1040.1,212.1 1033.9,209.8 1027.8,222.6 1021.6,216.6 1015.4,202.3 1009.2,202.3 1003.0,227.9 996.9,197.8 990.7,198.5 984.5,200.0 978.3,196.2 972.1,206.8 965.9,217.3 959.8,227.9 953.6,194.7 947.4,209.8 941.2,209.2 935.0,218.3 928.9,227.3 922.7,229.3 916.5,238.3 910.3,250.0 904.1,274.1 898.0,256.0 891.8,265.1 885.6,272.6 879.4,280.1 873.2,266.6 867.0,254.5 860.9,265.1 854.7,324.8 848.5,358.7 842.3,367.0 836.1,312.8 830.0,341.8 823.8,456.2 817.6,405.1 811.4,418.6 805.2,409.6 799.0,450.2 792.9,436.7 786.7,454.7 780.5,474.3 774.3,489.4 768.1,448.7 762.0,435.2 755.8,454.7 749.6,468.3 743.4,457.8 737.2,429.1 731.1,441.2 724.9,424.6 718.7,450.2 712.5,467.7 706.3,476.3 700.1,491.4 694.0,501.9 687.8,500.4 681.6,491.0 675.4,477.9 669.2,479.4 663.1,490.7 656.9,505.0 650.7,526.8 644.5,489.9 638.3,517.8 632.1,480.9 626.0,510.2 619.8,511.0 613.6,520.0 607.4,519.3 601.2,520.0 595.1,506.5 588.9,521.5 582.7,547.9 576.5,547.1 570.3,521.1 564.2,524.5 558.0,488.4 551.8,549.0 545.6,545.6 539.4,536.9 533.2,530.9 527.1,548.6 520.9,548.2 514.7,533.9 508.5,545.2 502.3,551.6 496.2,587.8 490.0,575.3 483.8,576.5 477.6,579.5 471.4,538.4 465.2,603.6 459.1,596.0 452.9,596.4 446.7,597.5 440.5,603.2 434.3,585.5 428.2,608.8 422.0,619.4 415.8,620.9 409.6,585.5 403.4,568.8 397.3,619.1 391.1,611.9 384.9,616.4 378.7,611.8 372.5,612.2 366.3,619.1 360.2,636.6 354.0,643.2 347.8,597.5 341.6,579.4 335.4,639.8 329.3,627.0 323.1,614.6 316.9,628.2 310.7,633.3 304.5,620.9 298.3,652.6 292.2,642.0 286.0,626.8 279.8,643.8 273.6,630.3 267.4,651.4 261.3,655.3 255.1,648.6 248.9,651.1 242.7,654.4 236.5,625.5 230.4,637.2 224.2,634.8 218.0,657.4 211.8,648.3 205.6,623.4 199.4,627.7 193.3,622.9 187.1,617.9 180.9,614.9" fill="#e6beff"/>
<polygon points="180.9,596.2 187.1,605.3 193.3,598.5 199.4,600.8 205.6,606.8 211.8,626.4 218.0,633.9 224.2,606.8 230.4,575.2 236.5,602.3 242.7,632.4 248.9,624.9 255.1,618.1 261.3,639.9 267.4,626.4 273.6,618.8 279.8,583.5 286.0,591.0 292.2,582.7 298.3,599.3 304.5,534.5 310.7,606.8 316.9,560.1 323.1,574.4 329.3,581.2 335.4,588.7 341.6,536.8 347.8,548.8 354.0,560.1 360.2,556.3 366.3,533.0 372.5,539.0 378.7,557.1 384.9,564.6 391.1,569.9 397.3,583.5 403.4,549.6 409.6,560.7 415.8,550.9 422.0,547.9 428.2,537.3 434.3,538.1 440.5,549.4 446.7,542.6 452.9,550.1 459.1,533.6 465.2,487.7 471.4,500.5 477.6,523.0 483.8,508.7 490.0,526.8 496.2,529.8 502.3,515.5 508.5,503.5 514.7,501.2 520.9,508.0 527.1,498.9 533.2,490.7 539.4,494.4 545.6,505.7 551.8,502.7 558.0,448.5 564.2,474.9 570.3,454.5 576.5,474.1 582.7,475.6 588.9,474.1 595.1,447.8 601.2,470.3 607.4,453.0 613.6,483.9 619.8,465.1 626.0,464.3 632.1,447.0 638.3,471.8 644.5,447.4 650.7,476.8 656.9,453.5 663.1,452.7 669.2,432.4 675.4,448.9 681.6,419.6 687.8,439.9 694.0,459.5 700.1,445.9 706.3,433.9 712.5,432.4 718.7,393.2 724.9,346.6 731.1,409.8 737.2,364.6 743.4,420.1 749.6,424.6 755.8,402.0 762.0,411.1 768.1,429.1 774.3,450.2 780.5,439.7 786.7,426.1 792.9,421.6 799.0,420.1 805.2,391.5 811.4,397.5 817.6,385.5 823.8,420.1 830.0,325.3 836.1,293.7 842.3,326.7 848.5,318.1 854.7,284.9 860.9,258.0 867.0,232.3 873.2,240.3 879.4,249.4 885.6,243.4 891.8,227.3 898.0,206.2 904.1,236.3 910.3,224.3 916.5,207.7 922.7,212.2 928.9,200.2 935.0,191.2 941.2,194.2 947.4,194.7 953.6,169.4 959.8,210.1 965.9,189.0 972.1,177.9 978.3,171.9 984.5,169.4 990.7,160.9 996.9,166.6 1003.0,181.6 1009.2,168.1 1015.4,183.9 1021.6,195.9 1027.8,199.6 1033.9,178.9 1040.1,175.2 1046.3,190.7 1052.5,158.3 1058.7,165.1 1064.9,160.6 1071.0,153.0 1077.2,165.4 1083.4,165.8 1089.6,156.8 1095.8,161.6 1101.9,164.3 1108.1,183.9 1114.3,168.1 1120.5,178.6 1126.7,168.8 1132.8,166.6 1139.0,166.6 1145.2,165.8 1151.4,166.6 1157.6,165.1 1163.8,175.6 1169.9,175.2 1176.1,162.8 1182.3,149.6 1188.5,155.6 1194.7,160.1 1200.8,162.6 1207.0,157.1 1213.2,172.7 1219.4,181.7 1225.6,210.8 1231.8,204.3 1237.9,196.2 1244.1,199.3 1250.3,198.3 1256.5,221.0 1262.7,255.8 1268.8,270.1 1275.0,261.1 1281.2,298.7 1287.4,319.1 1293.6,309.3 1299.8,322.8 1305.9,327.4 1312.1,351.4 1318.3,319.8 1324.5,294.2 1330.7,297.2 1336.8,322.8 1343.0,294.2 1349.2,290.5 1355.4,316.8 1361.6,309.3 1367.7,331.9 1373.9,325.1 1380.1,318.3 1386.3,330.4 1392.5,335.6 1398.7,343.2 1404.8,351.4 1411.0,327.4 1417.2,341.4 1423.4,353.4 1429.6,356.4 1435.7,356.4 1441.9,357.2 1448.1,329.3 1454.3,302.2 1460.5,281.9 1466.7,278.1 1472.8,272.1 1479.0,244.2 1485.2,230.7 1491.4,197.8 1497.6,190.3 1503.7,171.6 1509.9,154.3 1516.1,171.6 1516.1,171.9 1509.9,154.6 1503.7,171.9 1497.6,190.8 1491.4,198.3 1485.2,231.4 1479.0,245.0 1472.8,273.0 1466.7,279.0 1460.5,282.8 1454.3,303.1 1448.1,330.2 1441.9,358.1 1435.7,357.3 1429.6,357.3 1423.4,354.3 1417.2,342.3 1411.0,328.4 1404.8,352.5 1398.7,344.2 1392.5,336.7 1386.3,331.4 1380.1,319.4 1373.9,326.1 1367.7,332.9 1361.6,310.3 1355.4,317.9 1349.2,291.5 1343.0,295.3 1336.8,323.9 1330.7,298.3 1324.5,295.3 1318.3,320.9 1312.1,352.5 1305.9,328.4 1299.8,323.9 1293.6,310.3 1287.4,320.1 1281.2,299.8 1275.0,262.2 1268.8,271.2 1262.7,256.9 1256.5,222.0 1250.3,199.8 1244.1,200.8 1237.9,199.3 1231.8,207.3 1225.6,215.8 1219.4,183.2 1213.2,174.2 1207.0,158.6 1200.8,164.6 1194.7,162.1 1188.5,156.6 1182.3,150.1 1176.1,163.9 1169.9,178.2 1163.8,176.7 1157.6,166.1 1151.4,167.6 1145.2,166.9 1139.0,167.6 1132.8,167.6 1126.7,169.9 1120.5,179.7 1114.3,169.1 1108.1,185.0 1101.9,165.4 1095.8,163.9 1089.6,157.9 1083.4,168.4 1077.2,166.9 1071.0,154.1 1064.9,161.6 1058.7,166.1 1052.5,159.4 1046.3,191.7 1040.1,178.2 1033.9,181.9 1027.8,200.8 1021.6,197.0 1015.4,185.0 1009.2,169.1 1003.0,182.7 996.9,167.6 990.7,166.1 984.5,170.7 978.3,172.9 972.1,178.9 965.9,190.2 959.8,211.3 953.6,170.7 947.4,199.3 941.2,198.2 935.0,197.2 928.9,207.2 922.7,218.3 916.5,211.2 910.3,233.3 904.1,248.4 898.0,228.3 891.8,244.2 885.6,259.3 879.4,268.3 873.2,256.2 867.0,244.4 860.9,265.1 854.7,321.1 848.5,351.9 842.3,363.2 836.1,308.3 830.0,340.3 823.8,453.2 817.6,399.0 811.4,412.6 805.2,403.6 799.0,447.2 792.9,434.4 786.7,450.2 780.5,469.8 774.3,486.4 768.1,444.2 762.0,427.6 755.8,448.7 749.6,460.8 743.4,454.0 737.2,423.9 731.1,435.2 724.9,420.1 718.7,447.2 712.5,464.3 706.3,472.6 700.1,489.1 694.0,499.7 687.8,498.2 681.6,488.4 675.4,475.6 669.2,476.3 663.1,487.6 656.9,502.7 650.7,525.3 644.5,486.1 638.3,514.8 632.1,475.6 626.0,505.7 619.8,505.0 613.6,517.0 607.4,516.3 601.2,514.8 595.1,501.2 588.9,520.0 582.7,543.3 576.5,542.6 570.3,520.0 564.2,523.0 558.0,487.6 551.8,545.6 545.6,539.6 539.4,529.8 533.2,526.8 527.1,543.3 520.9,542.6 514.7,531.3 508.5,544.1 502.3,547.1 496.2,586.2 490.0,572.7 483.8,572.7 477.6,577.2 471.4,538.1 465.2,602.8 459.1,595.3 452.9,592.3 446.7,593.8 440.5,599.8 434.3,584.7 428.2,607.3 422.0,616.4 415.8,617.9 409.6,584.7 403.4,568.4 397.3,617.3 391.1,608.3 384.9,612.8 378.7,606.8 372.5,609.0 366.3,617.3 360.2,633.9 354.0,641.4 347.8,597.0 341.6,578.9 335.4,638.4 329.3,625.6 323.1,612.8 316.9,626.4 310.7,627.9 304.5,619.6 298.3,648.9 292.2,638.4 286.0,624.1 279.8,642.9 273.6,629.4 267.4,650.5 261.3,653.5 255.1,645.9 248.9,647.4 242.7,648.9 236.5,621.8 230.4,630.9 224.2,629.4 218.0,656.5 211.8,647.4 205.6,618.8 199.4,621.8 193.3,621.1 187.1,616.6 180.9,613.6" fill="#008080"/>
<polygon points="180.9,565.4 187.1,582.7 193.3,573.7 199.4,578.2 205.6,572.2 211.8,578.2 218.0,597.0 224.2,571.4 230.4,536.8 236.5,554.8 242.7,585.7 248.9,573.7 255.1,562.4 261.3,559.4 267.4,563.9 273.6,576.7 279.8,545.8 286.0,555.6 292.2,508.2 298.3,542.0 304.5,495.4 310.7,571.4 316.9,514.9 323.1,540.5 329.3,548.1 335.4,554.8 341.6,513.5 347.8,518.0 354.0,523.2 360.2,524.0 366.3,496.9 372.5,507.4 378.7,521.0 384.9,533.0 391.1,528.5 397.3,526.3 403.4,525.5 409.6,529.1 415.8,511.0 422.0,492.2 428.2,512.5 434.3,508.0 440.5,529.1 446.7,518.5 452.9,526.0 459.1,498.9 465.2,461.3 471.4,473.4 477.6,486.9 483.8,485.4 490.0,508.0 496.2,485.4 502.3,471.1 508.5,477.1 514.7,474.1 520.9,476.4 527.1,468.8 533.2,460.6 539.4,462.1 545.6,468.8 551.8,464.3 558.0,420.7 564.2,446.2 570.3,428.2 576.5,437.2 582.7,441.7 588.9,446.2 595.1,409.4 601.2,432.7 607.4,421.4 613.6,429.7 619.8,424.4 626.0,414.6 632.1,416.9 638.3,434.2 644.5,420.3 650.7,414.3 656.9,381.9 663.1,405.3 669.2,387.2 675.4,406.8 681.6,391.7 687.8,364.6 694.0,390.2 700.1,382.7 706.3,374.4 712.5,388.0 718.7,370.5 724.9,322.3 731.1,375.0 737.2,334.3 743.4,399.0 749.6,394.5 755.8,378.0 762.0,390.0 768.1,405.1 774.3,426.1 780.5,412.6 786.7,405.1 792.9,400.5 799.0,409.6 805.2,350.1 811.4,359.9 817.6,349.4 823.8,412.0 830.0,310.2 836.1,274.1 842.3,302.7 848.5,290.4 854.7,253.0 860.9,250.4 867.0,213.2 873.2,223.8 879.4,234.3 885.6,238.3 891.8,215.2 898.0,188.6 904.1,219.3 910.3,206.2 916.5,189.6 922.7,199.2 928.9,185.1 935.0,170.6 941.2,180.1 947.4,191.7 953.6,158.6 959.8,191.7 965.9,175.9 972.1,156.3 978.3,157.1 984.5,157.9 990.7,143.6 996.9,146.6 1003.0,165.4 1009.2,160.1 1015.4,173.7 1021.6,181.2 1027.8,188.0 1033.9,173.7 1040.1,169.9 1046.3,179.7 1052.5,151.1 1058.7,154.1 1064.9,147.3 1071.0,139.8 1077.2,153.3 1083.4,151.8 1089.6,146.6 1095.8,151.8 1101.9,151.1 1108.1,166.9 1114.3,151.1 1120.5,161.6 1126.7,151.1 1132.8,149.6 1139.0,151.8 1145.2,151.1 1151.4,152.6 1157.6,145.1 1163.8,154.8 1169.9,157.1 1176.1,143.6 1182.3,135.5 1188.5,141.5 1194.7,138.5 1200.8,144.1 1207.0,139.5 1213.2,153.6 1219.4,156.6 1225.6,196.8 1231.8,184.7 1237.9,176.2 1244.1,181.7 1250.3,182.7 1256.5,211.0 1262.7,236.6 1268.8,248.6 1275.0,241.8 1281.2,274.2 1287.4,294.5 1293.6,284.7 1299.8,298.3 1305.9,302.8 1312.1,320.9 1318.3,298.3 1324.5,276.5 1330.7,280.2 1336.8,302.1 1343.0,269.7 1349.2,274.2 1355.4,293.8 1361.6,277.2 1367.7,308.8 1373.9,309.6 1380.1,296.8 1386.3,308.8 1392.5,317.9 1398.7,328.4 1404.8,336.7 1411.0,310.3 1417.2,320.1 1423.4,321.9 1429.6,336.2 1435.7,337.8 1441.9,338.5 1448.1,310.7 1454.3,278.7 1460.5,259.3 1466.7,254.8 1472.8,245.0 1479.0,223.9 1485.2,204.3 1491.4,179.5 1497.6,166.7 1503.7,153.9 1509.9,136.6 1516.1,151.6 1516.1,171.6 1509.9,154.3 1503.7,171.6 1497.6,190.3 1491.4,197.8 1485.2,230.7 1479.0,244.2 1472.8,272.1 1466.7,278.1 1460.5,281.9 1454.3,302.2 1448.1,329.3 1441.9,357.2 1435.7,356.4 1429.6,356.4 1423.4,353.4 1417.2,341.4 1411.0,327.4 1404.8,351.4 1398.7,343.2 1392.5,335.6 1386.3,330.4 1380.1,318.3 1373.9,325.1 1367.7,331.9 1361.6,309.3 1355.4,316.8 1349.2,290.5 1343.0,294.2 1336.8,322.8 1330.7,297.2 1324.5,294.2 1318.3,319.8 1312.1,351.4 1305.9,327.4 1299.8,322.8 1293.6,309.3 1287.4,319.1 1281.2,298.7 1275.0,261.1 1268.8,270.1 1262.7,255.8 1256.5,221.0 1250.3,198.3 1244.1,199.3 1237.9,196.2 1231.8,204.3 1225.6,210.8 1219.4,181.7 1213.2,172.7 1207.0,157.1 1200.8,162.6 1194.7,160.1 1188.5,155.6 1182.3,149.6 1176.1,162.8 1169.9,175.2 1163.8,175.6 1157.6,165.1 1151.4,166.6 1145.2,165.8 1139.0,166.6 1132.8,166.6 1126.7,168.8 1120.5,178.6 1114.3,168.1 1108.1,183.9 1101.9,164.3 1095.8,161.6 1089.6,156.8 1083.4,165.8 1077.2,165.4 1071.0,153.0 1064.9,160.6 1058.7,165.1 1052.5,158.3 1046.3,190.7 1040.1,175.2 1033.9,178.9 1027.8,199.6 1021.6,195.9 1015.4,183.9 1009.2,168.1 1003.0,181.6 996.9,166.6 990.7,160.9 984.5,169.4 978.3,171.9 972.1,177.9 965.9,189.0 959.8,210.1 953.6,169.4 947.4,194.7 941.2,194.2 935.0,191.2 928.9,200.2 922.7,212.2 916.5,207.7 910.3,224.3 904.1,236.3 898.0,206.2 891.8,227.3 885.6,243.4 879.4,249.4 873.2,240.3 867.0,232.3 860.9,258.0 854.7,284.9 848.5,318.1 842.3,326.7 836.1,293.7 830.0,325.3 823.8,420.1 817.6,385.5 811.4,397.5 805.2,391.5 799.0,420.1 792.9,421.6 786.7,426.1 780.5,439.7 774.3,450.2 768.1,429.1 762.0,411.1 755.8,402.0 749.6,424.6 743.4,420.1 737.2,364.6 731.1,409.8 724.9,346.6 718.7,393.2 712.5,432.4 706.3,433.9 700.1,445.9 694.0,459.5 687.8,439.9 681.6,419.6 675.4,448.9 669.2,432.4 663.1,452.7 656.9,453.5 650.7,476.8 644.5,447.4 638.3,471.8 632.1,447.0 626.0,464.3 619.8,465.1 613.6,483.9 607.4,453.0 601.2,470.3 595.1,447.8 588.9,474.1 582.7,475.6 576.5,474.1 570.3,454.5 564.2,474.9 558.0,448.5 551.8,502.7 545.6,505.7 539.4,494.4 533.2,490.7 527.1,498.9 520.9,508.0 514.7,501.2 508.5,503.5 502.3,515.5 496.2,529.8 490.0,526.8 483.8,508.7 477.6,523.0 471.4,500.5 465.2,487.7 459.1,533.6 452.9,550.1 446.7,542.6 440.5,549.4 434.3,538.1 428.2,537.3 422.0,547.9 415.8,550.9 409.6,560.7 403.4,549.6 397.3,583.5 391.1,569.9 384.9,564.6 378.7,557.1 372.5,539.0 366.3,533.0 360.2,556.3 354.0,560.1 347.8,548.8 341.6,536.8 335.4,588.7 329.3,581.2 323.1,574.4 316.9,560.1 310.7,606.8 304.5,534.5 298.3,599.3 292.2,582.7 286.0,591.0 279.8,583.5 273.6,618.8 267.4,626.4 261.3,639.9 255.1,618.1 248.9,624.9 242.7,632.4 236.5,602.3 230.4,575.2 224.2,606.8 218.0,633.9 211.8,626.4 205.6,606.8 199.4,600.8 193.3,598.5 187.1,605.3 180.9,596.2" fill="#fabebe"/>
<polygon points="180.9,564.7 187.1,582.0 193.3,570.1 199.4,576.4 205.6,570.7 211.8,577.1 218.0,596.3 224.2,570.7 230.4,535.7 236.5,553.4 242.7,584.7 248.9,572.6 255.1,560.6 261.3,557.6 267.4,562.4 273.6,575.6 279.8,544.8 286.0,553.8 292.2,506.7 298.3,541.0 304.5,493.6 310.7,570.7 316.9,513.5 323.1,538.7 329.3,542.2 335.4,547.5 341.6,505.2 347.8,506.7 354.0,513.5 360.2,514.2 366.3,490.1 372.5,499.9 378.7,513.5 384.9,523.2 391.1,522.5 397.3,519.5 403.4,518.0 409.6,521.5 415.8,505.0 422.0,491.4 428.2,502.7 434.3,493.7 440.5,508.7 446.7,499.7 452.9,500.5 459.1,485.4 465.2,452.3 471.4,466.6 477.6,470.3 483.8,477.1 490.0,495.2 496.2,483.1 502.3,467.3 508.5,466.6 514.7,469.6 520.9,466.6 527.1,462.1 533.2,453.0 539.4,453.0 545.6,459.8 551.8,450.8 558.0,404.8 564.2,425.9 570.3,418.4 576.5,412.4 582.7,407.1 588.9,438.0 595.1,401.1 601.2,414.6 607.4,408.6 613.6,407.9 619.8,409.4 626.0,398.8 632.1,397.3 638.3,416.9 644.5,395.5 650.7,375.2 656.9,350.3 663.1,381.9 669.2,370.7 675.4,391.0 681.6,358.6 687.8,333.0 694.0,362.4 700.1,356.3 706.3,349.6 712.5,345.1 718.7,328.3 724.9,305.7 731.1,340.3 737.2,307.2 743.4,347.9 749.6,379.5 755.8,353.1 762.0,379.5 768.1,374.2 774.3,417.1 780.5,399.0 786.7,390.0 792.9,377.2 799.0,396.0 805.2,323.0 811.4,336.6 817.6,325.3 823.8,364.4 830.0,295.2 836.1,254.5 842.3,292.9 848.5,278.3 854.7,250.0 860.9,246.4 867.0,206.2 873.2,216.2 879.4,225.8 885.6,209.2 891.8,194.2 898.0,180.1 904.1,210.2 910.3,190.2 916.5,170.1 922.7,173.6 928.9,171.6 935.0,155.0 941.2,163.0 947.4,169.9 953.6,145.8 959.8,171.4 965.9,161.6 972.1,142.8 978.3,142.0 984.5,145.1 990.7,135.3 996.9,137.5 1003.0,149.6 1009.2,145.1 1015.4,163.9 1021.6,166.9 1027.8,176.7 1033.9,158.6 1040.1,151.1 1046.3,161.6 1052.5,137.5 1058.7,135.3 1064.9,136.8 1071.0,123.8 1077.2,132.3 1083.4,142.4 1089.6,128.8 1095.8,129.3 1101.9,133.9 1108.1,145.4 1114.3,132.3 1120.5,144.4 1126.7,134.9 1132.8,139.4 1139.0,133.4 1145.2,135.9 1151.4,138.4 1157.6,130.8 1163.8,138.1 1169.9,140.4 1176.1,126.3 1182.3,126.3 1188.5,133.0 1194.7,127.0 1200.8,137.0 1207.0,125.0 1213.2,139.5 1219.4,138.5 1225.6,182.2 1231.8,170.2 1237.9,164.1 1244.1,169.1 1250.3,174.2 1256.5,207.0 1262.7,229.0 1268.8,239.6 1275.0,230.5 1281.2,259.1 1287.4,280.2 1293.6,276.5 1299.8,286.2 1305.9,290.8 1312.1,311.8 1318.3,290.8 1324.5,265.9 1330.7,268.2 1336.8,298.3 1343.0,260.7 1349.2,271.9 1355.4,290.8 1361.6,268.2 1367.7,307.3 1373.9,308.1 1380.1,296.0 1386.3,305.8 1392.5,313.4 1398.7,323.9 1404.8,334.4 1411.0,308.8 1417.2,314.1 1423.4,318.2 1429.6,330.2 1435.7,333.2 1441.9,333.2 1448.1,306.1 1454.3,276.6 1460.5,254.8 1466.7,250.2 1472.8,237.4 1479.0,217.9 1485.2,198.3 1491.4,172.7 1497.6,160.7 1503.7,149.4 1509.9,129.0 1516.1,147.9 1516.1,151.6 1509.9,136.6 1503.7,153.9 1497.6,166.7 1491.4,179.5 1485.2,204.3 1479.0,223.9 1472.8,245.0 1466.7,254.8 1460.5,259.3 1454.3,278.7 1448.1,310.7 1441.9,338.5 1435.7,337.8 1429.6,336.2 1423.4,321.9 1417.2,320.1 1411.0,310.3 1404.8,336.7 1398.7,328.4 1392.5,317.9 1386.3,308.8 1380.1,296.8 1373.9,309.6 1367.7,308.8 1361.6,277.2 1355.4,293.8 1349.2,274.2 1343.0,269.7 1336.8,302.1 1330.7,280.2 1324.5,276.5 1318.3,298.3 1312.1,320.9 1305.9,302.8 1299.8,298.3 1293.6,284.7 1287.4,294.5 1281.2,274.2 1275.0,241.8 1268.8,248.6 1262.7,236.6 1256.5,211.0 1250.3,182.7 1244.1,181.7 1237.9,176.2 1231.8,184.7 1225.6,196.8 1219.4,156.6 1213.2,153.6 1207.0,139.5 1200.8,144.1 1194.7,138.5 1188.5,141.5 1182.3,135.5 1176.1,143.6 1169.9,157.1 1163.8,154.8 1157.6,145.1 1151.4,152.6 1145.2,151.1 1139.0,151.8 1132.8,149.6 1126.7,151.1 1120.5,161.6 1114.3,151.1 1108.1,166.9 1101.9,151.1 1095.8,151.8 1089.6,146.6 1083.4,151.8 1077.2,153.3 1071.0,139.8 1064.9,147.3 1058.7,154.1 1052.5,151.1 1046.3,179.7 1040.1,169.9 1033.9,173.7 1027.8,188.0 1021.6,181.2 1015.4,173.7 1009.2,160.1 1003.0,165.4 996.9,146.6 990.7,143.6 984.5,157.9 978.3,157.1 972.1,156.3 965.9,175.9 959.8,191.7 953.6,158.6 947.4,191.7 941.2,180.1 935.0,170.6 928.9,185.1 922.7,199.2 916.5,189.6 910.3,206.2 904.1,219.3 898.0,188.6 891.8,215.2 885.6,238.3 879.4,234.3 873.2,223.8 867.0,213.2 860.9,250.4 854.7,253.0 848.5,290.4 842.3,302.7 836.1,274.1 830.0,310.2 823.8,412.0 817.6,349.4 811.4,359.9 805.2,350.1 799.0,409.6 792.9,400.5 786.7,405.1 780.5,412.6 774.3,426.1 768.1,405.1 762.0,390.0 755.8,378.0 749.6,394.5 743.4,399.0 737.2,334.3 731.1,375.0 724.9,322.3 718.7,370.5 712.5,388.0 706.3,374.4 700.1,382.7 694.0,390.2 687.8,364.6 681.6,391.7 675.4,406.8 669.2,387.2 663.1,405.3 656.9,381.9 650.7,414.3 644.5,420.3 638.3,434.2 632.1,416.9 626.0,414.6 619.8,424.4 613.6,429.7 607.4,421.4 601.2,432.7 595.1,409.4 588.9,446.2 582.7,441.7 576.5,437.2 570.3,428.2 564.2,446.2 558.0,420.7 551.8,464.3 545.6,468.8 539.4,462.1 533.2,460.6 527.1,468.8 520.9,476.4 514.7,474.1 508.5,477.1 502.3,471.1 496.2,485.4 490.0,508.0 483.8,485.4 477.6,486.9 471.4,473.4 465.2,461.3 459.1,498.9 452.9,526.0 446.7,518.5 440.5,529.1 434.3,508.0 428.2,512.5 422.0,492.2 415.8,511.0 409.6,529.1 403.4,525.5 397.3,526.3 391.1,528.5 384.9,533.0 378.7,521.0 372.5,507.4 366.3,496.9 360.2,524.0 354.0,523.2 347.8,518.0 341.6,513.5 335.4,554.8 329.3,548.1 323.1,540.5 316.9,514.9 310.7,571.4 304.5,495.4 298.3,542.0 292.2,508.2 286.0,555.6 279.8,545.8 273.6,576.7 267.4,563.9 261.3,559.4 255.1,562.4 248.9,573.7 242.7,585.7 236.5,554.8 230.4,536.8 224.2,571.4 218.0,597.0 211.8,578.2 205.6,572.2 199.4,578.2 193.3,573.7 187.1,582.7 180.9,565.4" fill="#bcf60c"/>
<polygon points="180.9,564.7 187.1,582.0 193.3,570.1 199.4,576.4 205.6,570.7 211.8,577.1 218.0,596.3 224.2,570.7 230.4,535.7 236.5,553.4 242.7,584.7 248.9,572.6 255.1,560.6 261.3,557.6 267.4,562.4 273.6,575.6 279.8,544.8 286.0,553.8 292.2,506.7 298.3,541.0 304.5,493.6 310.7,570.7 316.9,513.5 323.1,538.7 329.3,542.2 335.4,547.5 341.6,505.2 347.8,506.7 354.0,513.5 360.2,514.2 366.3,490.1 372.5,499.9 378.7,513.5 384.9,523.2 391.1,522.5 397.3,519.5 403.4,518.0 409.6,521.5 415.8,505.0 422.0,491.4 428.2,502.7 434.3,493.7 440.5,508.7 446.7,499.7 452.9,500.5 459.1,485.4 465.2,452.3 471.4,466.6 477.6,470.3 483.8,477.1 490.0,495.2 496.2,483.1 502.3,467.3 508.5,466.6 514.7,469.6 520.9,466.6 527.1,462.1 533.2,453.0 539.4,453.0 545.6,459.8 551.8,450.8 558.0,404.8 564.2,425.9 570.3,418.4 576.5,412.4 582.7,407.1 588.9,438.0 595.1,401.1 601.2,414.6 607.4,408.6 613.6,407.9 619.8,409.4 626.0,398.8 632.1,397.3 638.3,416.9 644.5,395.5 650.7,375.2 656.9,350.3 663.1,381.9 669.2,370.7 675.4,391.0 681.6,358.6 687.8,333.0 694.0,362.4 700.1,356.3 706.3,349.6 712.5,345.1 718.7,328.3 724.9,305.7 731.1,340.3 737.2,307.2 743.4,347.9 749.6,379.5 755.8,353.1 762.0,379.5 768.1,374.2 774.3,417.1 780.5,399.0 786.7,390.0 792.9,377.2 799.0,396.0 805.2,323.0 811.4,336.6 817.6,325.3 823.8,364.4 830.0,295.2 836.1,254.5 842.3,292.9 848.5,278.3 854.7,250.0 860.9,246.4 867.0,206.2 873.2,216.2 879.4,225.8 885.6,209.2 891.8,194.2 898.0,180.1 904.1,210.2 910.3,190.2 916.5,170.1 922.7,173.6 928.9,171.6 935.0,155.0 941.2,163.0 947.4,169.9 953.6,145.8 959.8,171.4 965.9,161.6 972.1,142.8 978.3,142.0 984.5,145.1 990.7,135.3 996.9,137.5 1003.0,149.6 1009.2,145.1 1015.4,163.9 1021.6,166.9 1027.8,176.7 1033.9,158.6 1040.1,151.1 1046.3,161.6 1052.5,137.5 1058.7,135.3 1064.9,136.8 1071.0,123.8 1077.2,132.3 1083.4,142.4 1089.6,128.8 1095.8,129.3 1101.9,133.9 1108.1,145.4 1114.3,132.3 1120.5,144.4 1126.7,134.9 1132.8,139.4 1139.0,133.4 1145.2,135.9 1151.4,138.4 1157.6,130.8 1163.8,138.1 1169.9,140.4 1176.1,126.3 1182.3,126.3 1188.5,133.0 1194.7,127.0 1200.8,137.0 1207.0,125.0 1213.2,137.5 1219.4,138.5 1225.6,179.2 1231.8,169.6 1237.9,161.1 1244.1,165.6 1250.3,170.7 1256.5,204.0 1262.7,228.3 1268.8,236.6 1275.0,226.8 1281.2,250.1 1287.4,265.2 1293.6,258.4 1299.8,266.3 1305.9,264.5 1312.1,277.3 1318.3,241.2 1324.5,209.6 1330.7,194.5 1336.8,201.3 1343.0,165.9 1349.2,163.7 1355.4,165.2 1361.6,148.6 1367.7,161.4 1373.9,144.1 1380.1,125.8 1386.3,127.8 1392.5,139.4 1398.7,134.4 1404.8,124.8 1411.0,119.8 1417.2,114.8 1423.4,109.8 1429.6,116.8 1435.7,127.3 1441.9,127.8 1448.1,128.8 1454.3,117.3 1460.5,114.3 1466.7,114.8 1472.8,109.3 1479.0,115.8 1485.2,108.8 1491.4,95.2 1497.6,88.7 1503.7,84.7 1509.9,83.7 1516.1,95.2 1516.1,147.9 1509.9,129.0 1503.7,149.4 1497.6,160.7 1491.4,172.7 1485.2,198.3 1479.0,217.9 1472.8,237.4 1466.7,250.2 1460.5,254.8 1454.3,276.6 1448.1,306.1 1441.9,333.2 1435.7,333.2 1429.6,330.2 1423.4,318.2 1417.2,314.1 1411.0,308.8 1404.8,334.4 1398.7,323.9 1392.5,313.4 1386.3,305.8 1380.1,296.0 1373.9,308.1 1367.7,307.3 1361.6,268.2 1355.4,290.8 1349.2,271.9 1343.0,260.7 1336.8,298.3 1330.7,268.2 1324.5,265.9 1318.3,290.8 1312.1,311.8 1305.9,290.8 1299.8,286.2 1293.6,276.5 1287.4,280.2 1281.2,259.1 1275.0,230.5 1268.8,239.6 1262.7,229.0 1256.5,207.0 1250.3,174.2 1244.1,169.1 1237.9,164.1 1231.8,170.2 1225.6,182.2 1219.4,138.5 1213.2,139.5 1207.0,125.0 1200.8,137.0 1194.7,127.0 1188.5,133.0 1182.3,126.3 1176.1,126.3 1169.9,140.4 1163.8,138.1 1157.6,130.8 1151.4,138.4 1145.2,135.9 1139.0,133.4 1132.8,139.4 1126.7,134.9 1120.5,144.4 1114.3,132.3 1108.1,145.4 1101.9,133.9 1095.8,129.3 1089.6,128.8 1083.4,142.4 1077.2,132.3 1071.0,123.8 1064.9,136.8 1058.7,135.3 1052.5,137.5 1046.3,161.6 1040.1,151.1 1033.9,158.6 1027.8,176.7 1021.6,166.9 1015.4,163.9 1009.2,145.1 1003.0,149.6 996.9,137.5 990.7,135.3 984.5,145.1 978.3,142.0 972.1,142.8 965.9,161.6 959.8,171.4 953.6,145.8 947.4,169.9 941.2,163.0 935.0,155.0 928.9,171.6 922.7,173.6 916.5,170.1 910.3,190.2 904.1,210.2 898.0,180.1 891.8,194.2 885.6,209.2 879.4,225.8 873.2,216.2 867.0,206.2 860.9,246.4 854.7,250.0 848.5,278.3 842.3,292.9 836.1,254.5 830.0,295.2 823.8,364.4 817.6,325.3 811.4,336.6 805.2,323.0 799.0,396.0 792.9,377.2 786.7,390.0 780.5,399.0 774.3,417.1 768.1,374.2 762.0,379.5 755.8,353.1 749.6,379.5 743.4,347.9 737.2,307.2 731.1,340.3 724.9,305.7 718.7,328.3 712.5,345.1 706.3,349.6 700.1,356.3 694.0,362.4 687.8,333.0 681.6,358.6 675.4,391.0 669.2,370.7 663.1,381.9 656.9,350.3 650.7,375.2 644.5,395.5 638.3,416.9 632.1,397.3 626.0,398.8 619.8,409.4 613.6,407.9 607.4,408.6 601.2,414.6 595.1,401.1 588.9,438.0 582.7,407.1 576.5,412.4 570.3,418.4 564.2,425.9 558.0,404.8 551.8,450.8 545.6,459.8 539.4,453.0 533.2,453.0 527.1,462.1 520.9,466.6 514.7,469.6 508.5,466.6 502.3,467.3 496.2,483.1 490.0,495.2 483.8,477.1 477.6,470.3 471.4,466.6 465.2,452.3 459.1,485.4 452.9,500.5 446.7,499.7 440.5,508.7 434.3,493.7 428.2,502.7 422.0,491.4 415.8,505.0 409.6,521.5 403.4,518.0 397.3,519.5 391.1,522.5 384.9,523.2 378.7,513.5 372.5,499.9 366.3,490.1 360.2,514.2 354.0,513.5 347.8,506.7 341.6,505.2 335.4,547.5 329.3,542.2 323.1,538.7 316.9,513.5 310.7,570.7 304.5,493.6 298.3,541.0 292.2,506.7 286.0,553.8 279.8,544.8 273.6,575.6 267.4,562.4 261.3,557.6 255.1,560.6 248.9,572.6 242.7,584.7 236.5,553.4 230.4,535.7 224.2,570.7 218.0,596.3 211.8,577.1 205.6,570.7 199.4,576.4 193.3,570.1 187.1,582.0 180.9,564.7" fill="#f032e6"/>
<polygon points="180.9,564.6 187.1,581.9 193.3,569.1 199.4,575.2 205.6,569.9 211.8,576.7 218.0,596.2 224.2,570.7 230.4,535.3 236.5,552.6 242.7,584.2 248.9,572.2 255.1,559.4 261.3,556.3 267.4,561.6 273.6,575.2 279.8,544.3 286.0,552.6 292.2,505.9 298.3,540.5 304.5,492.4 310.7,570.7 316.9,512.7 323.1,537.5 329.3,541.3 335.4,546.6 341.6,502.2 347.8,503.7 354.0,511.2 360.2,512.0 366.3,487.9 372.5,493.9 378.7,502.9 384.9,505.2 391.1,516.5 397.3,504.4 403.4,508.9 409.6,512.5 415.8,500.5 422.0,484.6 428.2,500.5 434.3,492.2 440.5,506.5 446.7,492.9 452.9,498.9 459.1,483.9 465.2,450.8 471.4,459.8 477.6,468.8 483.8,476.4 490.0,494.4 496.2,482.4 502.3,466.6 508.5,465.8 514.7,468.8 520.9,465.8 527.1,461.3 533.2,452.3 539.4,452.3 545.6,459.0 551.8,450.0 558.0,404.1 564.2,425.2 570.3,416.9 576.5,411.6 582.7,406.3 588.9,437.2 595.1,400.3 601.2,413.9 607.4,401.8 613.6,407.1 619.8,408.6 626.0,398.1 632.1,396.6 638.3,416.1 644.5,394.7 650.7,374.4 656.9,349.6 663.1,381.2 669.2,369.9 675.4,390.2 681.6,342.0 687.8,330.0 694.0,348.8 700.1,342.8 706.3,336.0 712.5,328.5 718.7,316.2 724.9,292.9 731.1,328.3 737.2,285.4 743.4,320.8 749.6,340.3 755.8,272.6 762.0,267.0 768.1,261.0 774.3,248.9 780.5,222.6 786.7,258.7 792.9,200.8 799.0,221.1 805.2,204.5 811.4,197.8 817.6,187.2 823.8,203.8 830.0,213.6 836.1,166.9 842.3,160.9 848.5,173.7 854.7,188.7 860.9,214.3 867.0,169.9 873.2,175.2 879.4,189.5 885.6,162.4 891.8,154.1 898.0,148.1 904.1,142.4 910.3,140.4 916.5,117.8 922.7,130.3 928.9,144.4 935.0,132.3 941.2,152.6 947.4,140.4 953.6,126.2 959.8,135.4 965.9,145.4 972.1,134.4 978.3,132.9 984.5,124.7 990.7,131.4 996.9,132.3 1003.0,149.3 1009.2,144.8 1015.4,163.6 1021.6,166.6 1027.8,176.4 1033.9,158.3 1040.1,150.8 1046.3,161.3 1052.5,137.2 1058.7,135.0 1064.9,136.5 1071.0,120.3 1077.2,131.6 1083.4,136.2 1089.6,128.1 1095.8,129.1 1101.9,133.1 1108.1,145.2 1114.3,131.1 1120.5,144.2 1126.7,134.7 1132.8,132.6 1139.0,131.6 1145.2,135.7 1151.4,138.2 1157.6,130.6 1163.8,132.1 1169.9,139.7 1176.1,118.1 1182.3,126.0 1188.5,132.5 1194.7,125.5 1200.8,129.5 1207.0,124.5 1213.2,137.0 1219.4,138.0 1225.6,165.1 1231.8,169.3 1237.9,159.9 1244.1,165.3 1250.3,170.4 1256.5,193.0 1262.7,227.5 1268.8,235.8 1275.0,226.0 1281.2,249.4 1287.4,264.9 1293.6,258.1 1299.8,266.0 1305.9,252.9 1312.1,277.0 1318.3,240.9 1324.5,209.3 1330.7,194.2 1336.8,171.6 1343.0,165.6 1349.2,163.4 1355.4,158.1 1361.6,148.3 1367.7,144.5 1373.9,143.8 1380.1,125.6 1386.3,127.6 1392.5,130.6 1398.7,134.2 1404.8,124.6 1411.0,119.6 1417.2,114.6 1423.4,109.6 1429.6,116.6 1435.7,127.1 1441.9,127.6 1448.1,125.6 1454.3,117.1 1460.5,114.1 1466.7,114.6 1472.8,109.1 1479.0,110.6 1485.2,108.6 1491.4,95.0 1497.6,88.5 1503.7,84.5 1509.9,83.5 1516.1,95.0 1516.1,95.2 1509.9,83.7 1503.7,84.7 1497.6,88.7 1491.4,95.2 1485.2,108.8 1479.0,115.8 1472.8,109.3 1466.7,114.8 1460.5,114.3 1454.3,117.3 1448.1,128.8 1441.9,127.8 1435.7,127.3 1429.6,116.8 1423.4,109.8 1417.2,114.8 1411.0,119.8 1404.8,124.8 1398.7,134.4 1392.5,139.4 1386.3,127.8 1380.1,125.8 1373.9,144.1 1367.7,161.4 1361.6,148.6 1355.4,165.2 1349.2,163.7 1343.0,165.9 1336.8,201.3 1330.7,194.5 1324.5,209.6 1318.3,241.2 1312.1,277.3 1305.9,264.5 1299.8,266.3 1293.6,258.4 1287.4,265.2 1281.2,250.1 1275.0,226.8 1268.8,236.6 1262.7,228.3 1256.5,204.0 1250.3,170.7 1244.1,165.6 1237.9,161.1 1231.8,169.6 1225.6,179.2 1219.4,138.5 1213.2,137.5 1207.0,125.0 1200.8,137.0 1194.7,127.0 1188.5,133.0 1182.3,126.3 1176.1,126.3 1169.9,140.4 1163.8,138.1 1157.6,130.8 1151.4,138.4 1145.2,135.9 1139.0,133.4 1132.8,139.4 1126.7,134.9 1120.5,144.4 1114.3,132.3 1108.1,145.4 1101.9,133.9 1095.8,129.3 1089.6,128.8 1083.4,142.4 1077.2,132.3 1071.0,123.8 1064.9,136.8 1058.7,135.3 1052.5,137.5 1046.3,161.6 1040.1,151.1 1033.9,158.6 1027.8,176.7 1021.6,166.9 1015.4,163.9 1009.2,145.1 1003.0,149.6 996.9,137.5 990.7,135.3 984.5,145.1 978.3,142.0 972.1,142.8 965.9,161.6 959.8,171.4 953.6,145.8 947.4,169.9 941.2,163.0 935.0,155.0 928.9,171.6 922.7,173.6 916.5,170.1 910.3,190.2 904.1,210.2 898.0,180.1 891.8,194.2 885.6,209.2 879.4,225.8 873.2,216.2 867.0,206.2 860.9,246.4 854.7,250.0 848.5,278.3 842.3,292.9 836.1,254.5 830.0,295.2 823.8,364.4 817.6,325.3 811.4,336.6 805.2,323.0 799.0,396.0 792.9,377.2 786.7,390.0 780.5,399.0 774.3,417.1 768.1,374.2 762.0,379.5 755.8,353.1 749.6,379.5 743.4,347.9 737.2,307.2 731.1,340.3 724.9,305.7 718.7,328.3 712.5,345.1 706.3,349.6 700.1,356.3 694.0,362.4 687.8,333.0 681.6,358.6 675.4,391.0 669.2,370.7 663.1,381.9 656.9,350.3 650.7,375.2 644.5,395.5 638.3,416.9 632.1,397.3 626.0,398.8 619.8,409.4 613.6,407.9 607.4,408.6 601.2,414.6 595.1,401.1 588.9,438.0 582.7,407.1 576.5,412.4 570.3,418.4 564.2,425.9 558.0,404.8 551.8,450.8 545.6,459.8 539.4,453.0 533.2,453.0 527.1,462.1 520.9,466.6 514.7,469.6 508.5,466.6 502.3,467.3 496.2,483.1 490.0,495.2 483.8,477.1 477.6,470.3 471.4,466.6 465.2,452.3 459.1,485.4 452.9,500.5 446.7,499.7 440.5,508.7 434.3,493.7 428.2,502.7 422.0,491.4 415.8,505.0 409.6,521.5 403.4,518.0 397.3,519.5 391.1,522.5 384.9,523.2 378.7,513.5 372.5,499.9 366.3,490.1 360.2,514.2 354.0,513.5 347.8,506.7 341.6,505.2 335.4,547.5 329.3,542.2 323.1,538.7 316.9,513.5 310.7,570.7 304.5,493.6 298.3,541.0 292.2,506.7 286.0,553.8 279.8,544.8 273.6,575.6 267.4,562.4 261.3,557.6 255.1,560.6 248.9,572.6 242.7,584.7 236.5,553.4 230.4,535.7 224.2,570.7 218.0,596.3 211.8,577.1 205.6,570.7 199.4,576.4 193.3,570.1 187.1,582.0 180.9,564.7" fill="#46f0f0"/>
<polygon points="180.9,458.5 187.1,483.4 193.3,487.1 199.4,527.0 205.6,515.7 211.8,535.3 218.0,535.3 224.2,526.3 230.4,475.8 236.5,489.4 242.7,515.7 248.9,510.5 255.1,505.9 261.3,499.2 267.4,502.2 273.6,520.2 279.8,483.4 286.0,487.9 292.2,463.8 298.3,480.3 304.5,426.1 310.7,512.0 316.9,458.5 323.1,472.8 329.3,461.5 335.4,451.7 341.6,429.1 347.8,417.9 354.0,438.2 360.2,423.9 366.3,410.3 372.5,406.6 378.7,420.1 384.9,419.4 391.1,434.4 397.3,421.6 403.4,408.8 409.6,426.9 415.8,407.7 422.0,389.6 428.2,394.1 434.3,365.5 440.5,370.0 446.7,374.5 452.9,350.5 459.1,331.6 465.2,330.1 471.4,330.1 477.6,327.9 483.8,353.5 490.0,350.5 496.2,318.8 502.3,294.0 508.5,294.7 514.7,290.2 520.9,300.0 527.1,287.2 533.2,265.4 539.4,264.6 545.6,274.4 551.8,234.5 558.0,220.4 564.2,217.8 570.3,204.0 576.5,194.1 582.7,197.2 588.9,220.5 595.1,182.0 601.2,184.2 607.4,170.4 613.6,179.7 619.8,187.2 626.0,165.1 632.1,154.3 638.3,169.1 644.5,129.4 650.7,117.3 656.9,110.3 663.1,108.5 669.2,110.9 675.4,102.6 681.6,103.2 687.8,83.6 694.0,93.2 700.1,94.7 706.3,96.7 712.5,94.7 718.7,100.7 724.9,101.2 731.1,110.8 737.2,101.7 743.4,122.5 749.6,138.3 755.8,124.0 762.0,125.5 768.1,127.0 774.3,137.5 780.5,130.0 786.7,152.6 792.9,114.9 799.0,128.5 805.2,119.5 811.4,114.9 817.6,116.4 823.8,153.3 830.0,155.6 836.1,116.4 842.3,125.5 848.5,130.0 854.7,142.0 860.9,172.9 867.0,136.0 873.2,149.6 879.4,170.7 885.6,134.5 891.8,127.3 898.0,123.3 904.1,121.8 910.3,128.3 916.5,101.2 922.7,118.3 928.9,134.9 935.0,119.3 941.2,134.4 947.4,126.3 953.6,117.8 959.8,130.3 965.9,138.4 972.1,128.3 978.3,125.3 984.5,111.3 990.7,125.3 996.9,130.0 1003.0,145.1 1009.2,144.3 1015.4,162.4 1021.6,165.4 1027.8,175.2 1033.9,156.3 1040.1,149.6 1046.3,159.4 1052.5,134.5 1058.7,134.9 1064.9,133.9 1071.0,119.3 1077.2,130.8 1083.4,135.4 1089.6,127.3 1095.8,128.3 1101.9,132.3 1108.1,144.4 1114.3,130.3 1120.5,143.4 1126.7,133.9 1132.8,131.8 1139.0,130.8 1145.2,134.9 1151.4,137.4 1157.6,129.8 1163.8,131.3 1169.9,138.9 1176.1,117.3 1182.3,125.3 1188.5,132.0 1194.7,125.0 1200.8,129.5 1207.0,124.0 1213.2,136.5 1219.4,137.5 1225.6,164.6 1231.8,169.1 1237.9,159.6 1244.1,165.1 1250.3,170.2 1256.5,192.3 1262.7,227.2 1268.8,235.1 1275.0,225.3 1281.2,248.9 1287.4,264.6 1293.6,257.6 1299.8,265.7 1305.9,252.5 1312.1,276.6 1318.3,240.5 1324.5,208.8 1330.7,193.8 1336.8,171.2 1343.0,165.2 1349.2,162.9 1355.4,157.6 1361.6,148.3 1367.7,144.5 1373.9,143.8 1380.1,125.3 1386.3,127.3 1392.5,130.3 1398.7,133.9 1404.8,124.3 1411.0,119.3 1417.2,114.3 1423.4,109.3 1429.6,116.3 1435.7,126.8 1441.9,127.3 1448.1,125.3 1454.3,116.8 1460.5,113.8 1466.7,114.3 1472.8,108.8 1479.0,110.3 1485.2,108.3 1491.4,94.7 1497.6,88.2 1503.7,84.2 1509.9,83.2 1516.1,94.7 1516.1,95.0 1509.9,83.5 1503.7,84.5 1497.6,88.5 1491.4,95.0 1485.2,108.6 1479.0,110.6 1472.8,109.1 1466.7,114.6 1460.5,114.1 1454.3,117.1 1448.1,125.6 1441.9,127.6 1435.7,127.1 1429.6,116.6 1423.4,109.6 1417.2,114.6 1411.0,119.6 1404.8,124.6 1398.7,134.2 1392.5,130.6 1386.3,127.6 1380.1,125.6 1373.9,143.8 1367.7,144.5 1361.6,148.3 1355.4,158.1 1349.2,163.4 1343.0,165.6 1336.8,171.6 1330.7,194.2 1324.5,209.3 1318.3,240.9 1312.1,277.0 1305.9,252.9 1299.8,266.0 1293.6,258.1 1287.4,264.9 1281.2,249.4 1275.0,226.0 1268.8,235.8 1262.7,227.5 1256.5,193.0 1250.3,170.4 1244.1,165.3 1237.9,159.9 1231.8,169.3 1225.6,165.1 1219.4,138.0 1213.2,137.0 1207.0,124.5 1200.8,129.5 1194.7,125.5 1188.5,132.5 1182.3,126.0 1176.1,118.1 1169.9,139.7 1163.8,132.1 1157.6,130.6 1151.4,138.2 1145.2,135.7 1139.0,131.6 1132.8,132.6 1126.7,134.7 1120.5,144.2 1114.3,131.1 1108.1,145.2 1101.9,133.1 1095.8,129.1 1089.6,128.1 1083.4,136.2 1077.2,131.6 1071.0,120.3 1064.9,136.5 1058.7,135.0 1052.5,137.2 1046.3,161.3 1040.1,150.8 1033.9,158.3 1027.8,176.4 1021.6,166.6 1015.4,163.6 1009.2,144.8 1003.0,149.3 996.9,132.3 990.7,131.4 984.5,124.7 978.3,132.9 972.1,134.4 965.9,145.4 959.8,135.4 953.6,126.2 947.4,140.4 941.2,152.6 935.0,132.3 928.9,144.4 922.7,130.3 916.5,117.8 910.3,140.4 904.1,142.4 898.0,148.1 891.8,154.1 885.6,162.4 879.4,189.5 873.2,175.2 867.0,169.9 860.9,214.3 854.7,188.7 848.5,173.7 842.3,160.9 836.1,166.9 830.0,213.6 823.8,203.8 817.6,187.2 811.4,197.8 805.2,204.5 799.0,221.1 792.9,200.8 786.7,258.7 780.5,222.6 774.3,248.9 768.1,261.0 762.0,267.0 755.8,272.6 749.6,340.3 743.4,320.8 737.2,285.4 731.1,328.3 724.9,292.9 718.7,316.2 712.5,328.5 706.3,336.0 700.1,342.8 694.0,348.8 687.8,330.0 681.6,342.0 675.4,390.2 669.2,369.9 663.1,381.2 656.9,349.6 650.7,374.4 644.5,394.7 638.3,416.1 632.1,396.6 626.0,398.1 619.8,408.6 613.6,407.1 607.4,401.8 601.2,413.9 595.1,400.3 588.9,437.2 582.7,406.3 576.5,411.6 570.3,416.9 564.2,425.2 558.0,404.1 551.8,450.0 545.6,459.0 539.4,452.3 533.2,452.3 527.1,461.3 520.9,465.8 514.7,468.8 508.5,465.8 502.3,466.6 496.2,482.4 490.0,494.4 483.8,476.4 477.6,468.8 471.4,459.8 465.2,450.8 459.1,483.9 452.9,498.9 446.7,492.9 440.5,506.5 434.3,492.2 428.2,500.5 422.0,484.6 415.8,500.5 409.6,512.5 403.4,508.9 397.3,504.4 391.1,516.5 384.9,505.2 378.7,502.9 372.5,493.9 366.3,487.9 360.2,512.0 354.0,511.2 347.8,503.7 341.6,502.2 335.4,546.6 329.3,541.3 323.1,537.5 316.9,512.7 310.7,570.7 304.5,492.4 298.3,540.5 292.2,505.9 286.0,552.6 279.8,544.3 273.6,575.2 267.4,561.6 261.3,556.3 255.1,559.4 248.9,572.2 242.7,584.2 236.5,552.6 230.4,535.3 224.2,570.7 218.0,596.2 211.8,576.7 205.6,569.9 199.4,575.2 193.3,569.1 187.1,581.9 180.9,564.6" fill="#911eb4"/>
<polygon points="180.9,458.5 187.1,483.4 193.3,487.1 199.4,527.0 205.6,515.7 211.8,535.3 218.0,535.3 224.2,526.3 230.4,475.8 236.5,489.4 242.7,515.7 248.9,510.5 255.1,505.9 261.3,499.2 267.4,502.2 273.6,520.2 279.8,483.4 286.0,487.9 292.2,463.8 298.3,480.3 304.5,426.1 310.7,512.0 316.9,458.5 323.1,472.8 329.3,461.5 335.4,451.7 341.6,429.1 347.8,417.9 354.0,438.2 360.2,423.9 366.3,410.3 372.5,406.6 378.7,420.1 384.9,419.4 391.1,434.4 397.3,421.6 403.4,408.8 409.6,426.9 415.8,407.7 422.0,389.6 428.2,394.1 434.3,365.5 440.5,370.0 446.7,374.5 452.9,350.5 459.1,331.6 465.2,330.1 471.4,330.1 477.6,327.9 483.8,353.5 490.0,350.5 496.2,318.8 502.3,294.0 508.5,294.7 514.7,290.2 520.9,300.0 527.1,287.2 533.2,265.4 539.4,264.6 545.6,274.4 551.8,234.5 558.0,220.4 564.2,217.8 570.3,204.0 576.5,194.1 582.7,197.2 588.9,220.5 595.1,182.0 601.2,184.2 607.4,170.4 613.6,179.7 619.8,187.2 626.0,165.1 632.1,154.3 638.3,169.1 644.5,129.4 650.7,117.3 656.9,110.3 663.1,108.5 669.2,110.9 675.4,102.6 681.6,103.2 687.8,83.6 694.0,93.2 700.1,94.7 706.3,96.7 712.5,94.2 718.7,99.2 724.9,99.7 731.1,106.8 737.2,100.7 743.4,121.7 749.6,137.5 755.8,123.2 762.0,123.2 768.1,124.0 774.3,135.3 780.5,127.7 786.7,151.1 792.9,114.9 799.0,127.0 805.2,118.0 811.4,114.9 817.6,114.9 823.8,151.1 830.0,152.6 836.1,116.4 842.3,124.0 848.5,128.5 854.7,140.5 860.9,172.2 867.0,135.3 873.2,148.8 879.4,169.9 885.6,133.8 891.8,120.3 898.0,117.3 904.1,115.3 910.3,123.3 916.5,94.2 922.7,104.2 928.9,108.3 935.0,108.8 941.2,120.3 947.4,111.3 953.6,103.2 959.8,122.3 965.9,127.3 972.1,109.3 978.3,100.2 984.5,98.7 990.7,114.3 996.9,108.8 1003.0,129.2 1009.2,137.5 1015.4,157.1 1021.6,157.9 1027.8,164.6 1033.9,146.6 1040.1,136.0 1046.3,145.1 1052.5,116.3 1058.7,119.3 1064.9,115.3 1071.0,111.3 1077.2,114.3 1083.4,116.8 1089.6,110.8 1095.8,109.3 1101.9,109.3 1108.1,126.3 1114.3,112.8 1120.5,123.3 1126.7,114.8 1132.8,106.8 1139.0,110.8 1145.2,114.8 1151.4,116.8 1157.6,111.8 1163.8,112.3 1169.9,117.3 1176.1,102.2 1182.3,107.8 1188.5,111.8 1194.7,107.3 1200.8,108.8 1207.0,102.7 1213.2,107.8 1219.4,110.3 1225.6,130.5 1231.8,147.1 1237.9,138.5 1244.1,137.5 1250.3,149.1 1256.5,162.1 1262.7,192.2 1268.8,201.3 1275.0,187.7 1281.2,220.0 1287.4,242.6 1293.6,229.0 1299.8,240.5 1305.9,230.7 1312.1,248.7 1318.3,219.4 1324.5,190.8 1330.7,165.2 1336.8,149.4 1343.0,154.6 1349.2,146.9 1355.4,139.9 1361.6,138.9 1367.7,134.9 1373.9,131.3 1380.1,116.8 1386.3,117.3 1392.5,116.3 1398.7,119.3 1404.8,108.3 1411.0,102.7 1417.2,97.2 1423.4,92.9 1429.6,103.7 1435.7,106.5 1441.9,112.6 1448.1,113.5 1454.3,105.5 1460.5,101.0 1466.7,100.5 1472.8,96.0 1479.0,100.0 1485.2,98.0 1491.4,89.5 1497.6,82.5 1503.7,75.4 1509.9,77.4 1516.1,86.0 1516.1,94.7 1509.9,83.2 1503.7,84.2 1497.6,88.2 1491.4,94.7 1485.2,108.3 1479.0,110.3 1472.8,108.8 1466.7,114.3 1460.5,113.8 1454.3,116.8 1448.1,125.3 1441.9,127.3 1435.7,126.8 1429.6,116.3 1423.4,109.3 1417.2,114.3 1411.0,119.3 1404.8,124.3 1398.7,133.9 1392.5,130.3 1386.3,127.3 1380.1,125.3 1373.9,143.8 1367.7,144.5 1361.6,148.3 1355.4,157.6 1349.2,162.9 1343.0,165.2 1336.8,171.2 1330.7,193.8 1324.5,208.8 1318.3,240.5 1312.1,276.6 1305.9,252.5 1299.8,265.7 1293.6,257.6 1287.4,264.6 1281.2,248.9 1275.0,225.3 1268.8,235.1 1262.7,227.2 1256.5,192.3 1250.3,170.2 1244.1,165.1 1237.9,159.6 1231.8,169.1 1225.6,164.6 1219.4,137.5 1213.2,136.5 1207.0,124.0 1200.8,129.5 1194.7,125.0 1188.5,132.0 1182.3,125.3 1176.1,117.3 1169.9,138.9 1163.8,131.3 1157.6,129.8 1151.4,137.4 1145.2,134.9 1139.0,130.8 1132.8,131.8 1126.7,133.9 1120.5,143.4 1114.3,130.3 1108.1,144.4 1101.9,132.3 1095.8,128.3 1089.6,127.3 1083.4,135.4 1077.2,130.8 1071.0,119.3 1064.9,133.9 1058.7,134.9 1052.5,134.5 1046.3,159.4 1040.1,149.6 1033.9,156.3 1027.8,175.2 1021.6,165.4 1015.4,162.4 1009.2,144.3 1003.0,145.1 996.9,130.0 990.7,125.3 984.5,111.3 978.3,125.3 972.1,128.3 965.9,138.4 959.8,130.3 953.6,117.8 947.4,126.3 941.2,134.4 935.0,119.3 928.9,134.9 922.7,118.3 916.5,101.2 910.3,128.3 904.1,121.8 898.0,123.3 891.8,127.3 885.6,134.5 879.4,170.7 873.2,149.6 867.0,136.0 860.9,172.9 854.7,142.0 848.5,130.0 842.3,125.5 836.1,116.4 830.0,155.6 823.8,153.3 817.6,116.4 811.4,114.9 805.2,119.5 799.0,128.5 792.9,114.9 786.7,152.6 780.5,130.0 774.3,137.5 768.1,127.0 762.0,125.5 755.8,124.0 749.6,138.3 743.4,122.5 737.2,101.7 731.1,110.8 724.9,101.2 718.7,100.7 712.5,94.7 706.3,96.7 700.1,94.7 694.0,93.2 687.8,83.6 681.6,103.2 675.4,102.6 669.2,110.9 663.1,108.5 656.9,110.3 650.7,117.3 644.5,129.4 638.3,169.1 632.1,154.3 626.0,165.1 619.8,187.2 613.6,179.7 607.4,170.4 601.2,184.2 595.1,182.0 588.9,220.5 582.7,197.2 576.5,194.1 570.3,204.0 564.2,217.8 558.0,220.4 551.8,234.5 545.6,274.4 539.4,264.6 533.2,265.4 527.1,287.2 520.9,300.0 514.7,290.2 508.5,294.7 502.3,294.0 496.2,318.8 490.0,350.5 483.8,353.5 477.6,327.9 471.4,330.1 465.2,330.1 459.1,331.6 452.9,350.5 446.7,374.5 440.5,370.0 434.3,365.5 428.2,394.1 422.0,389.6 415.8,407.7 409.6,426.9 403.4,408.8 397.3,421.6 391.1,434.4 384.9,419.4 378.7,420.1 372.5,406.6 366.3,410.3 360.2,423.9 354.0,438.2 347.8,417.9 341.6,429.1 335.4,451.7 329.3,461.5 323.1,472.8 316.9,458.5 310.7,512.0 304.5,426.1 298.3,480.3 292.2,463.8 286.0,487.9 279.8,483.4 273.6,520.2 267.4,502.2 261.3,499.2 255.1,505.9 248.9,510.5 242.7,515.7 236.5,489.4 230.4,475.8 224.2,526.3 218.0,535.3 211.8,535.3 205.6,515.7 199.4,527.0 193.3,487.1 187.1,483.4 180.9,458.5" fill="#9a6324"/>
<polygon points="180.9,458.5 187.1,483.4 193.3,487.1 199.4,527.0 205.6,515.7 211.8,535.3 218.0,535.3 224.2,526.3 230.4,475.8 236.5,489.4 242.7,515.7 248.9,510.5 255.1,505.9 261.3,499.2 267.4,502.2 273.6,520.2 279.8,483.4 286.0,487.9 292.2,463.8 298.3,480.3 304.5,426.1 310.7,512.0 316.9,458.5 323.1,472.8 329.3,461.5 335.4,451.7 341.6,429.1 347.8,417.9 354.0,438.2 360.2,423.9 366.3,410.3 372.5,406.6 378.7,420.1 384.9,419.4 391.1,434.4 397.3,421.6 403.4,408.8 409.6,426.9 415.8,407.7 422.0,389.6 428.2,394.1 434.3,365.5 440.5,370.0 446.7,374.5 452.9,350.5 459.1,331.6 465.2,330.1 471.4,330.1 477.6,327.9 483.8,353.5 490.0,350.5 496.2,318.8 502.3,294.0 508.5,294.7 514.7,290.2 520.9,300.0 527.1,287.2 533.2,265.4 539.4,264.6 545.6,274.4 551.8,234.5 558.0,220.4 564.2,217.8 570.3,204.0 576.5,194.1 582.7,197.2 588.9,220.5 595.1,182.0 601.2,184.2 607.4,170.4 613.6,179.7 619.8,187.2 626.0,165.1 632.1,154.3 638.3,169.1 644.5,129.4 650.7,117.3 656.9,110.3 663.1,108.5 669.2,110.9 675.4,102.6 681.6,103.2 687.8,83.6 694.0,93.2 700.1,94.7 706.3,96.7 712.5,94.2 718.7,99.2 724.9,99.7 731.1,106.8 737.2,100.7 743.4,121.7 749.6,137.5 755.8,123.2 762.0,123.2 768.1,124.0 774.3,135.3 780.5,127.7 786.7,151.1 792.9,114.9 799.0,127.0 805.2,118.0 811.4,114.9 817.6,114.9 823.8,151.1 830.0,152.6 836.1,116.4 842.3,124.0 848.5,128.5 854.7,140.5 860.9,172.2 867.0,135.3 873.2,148.8 879.4,169.9 885.6,133.8 891.8,120.3 898.0,117.3 904.1,115.3 910.3,123.3 916.5,94.2 922.7,104.2 928.9,108.3 935.0,108.8 941.2,120.3 947.4,111.3 953.6,103.2 959.8,122.3 965.9,127.3 972.1,109.3 978.3,100.2 984.5,98.7 990.7,114.3 996.9,108.8 1003.0,129.2 1009.2,137.5 1015.4,157.1 1021.6,157.9 1027.8,164.6 1033.9,146.6 1040.1,136.0 1046.3,145.1 1052.5,116.3 1058.7,119.3 1064.9,115.3 1071.0,111.3 1077.2,114.3 1083.4,116.8 1089.6,110.8 1095.8,109.3 1101.9,109.3 1108.1,126.3 1114.3,112.8 1120.5,123.3 1126.7,114.8 1132.8,106.8 1139.0,110.8 1145.2,114.8 1151.4,116.8 1157.6,111.8 1163.8,112.3 1169.9,117.3 1176.1,102.2 1182.3,107.8 1188.5,111.8 1194.7,107.3 1200.8,105.7 1207.0,94.7 1213.2,94.2 1219.4,97.2 1225.6,99.2 1231.8,101.2 1237.9,92.7 1244.1,100.2 1250.3,96.7 1256.5,95.2 1262.7,101.2 1268.8,105.7 1275.0,100.7 1281.2,99.2 1287.4,98.2 1293.6,99.2 1299.8,102.2 1305.9,101.2 1312.1,100.7 1318.3,94.7 1324.5,100.2 1330.7,109.3 1336.8,93.2 1343.0,118.3 1349.2,112.3 1355.4,106.8 1361.6,107.3 1367.7,105.2 1373.9,115.8 1380.1,106.2 1386.3,107.3 1392.5,97.2 1398.7,114.8 1404.8,104.2 1411.0,100.2 1417.2,96.2 1423.4,92.7 1429.6,103.2 1435.7,106.2 1441.9,112.3 1448.1,112.8 1454.3,105.2 1460.5,100.7 1466.7,100.2 1472.8,95.7 1479.0,98.2 1485.2,97.7 1491.4,89.2 1497.6,82.2 1503.7,75.1 1509.9,77.1 1516.1,85.7 1516.1,86.0 1509.9,77.4 1503.7,75.4 1497.6,82.5 1491.4,89.5 1485.2,98.0 1479.0,100.0 1472.8,96.0 1466.7,100.5 1460.5,101.0 1454.3,105.5 1448.1,113.5 1441.9,112.6 1435.7,106.5 1429.6,103.7 1423.4,92.9 1417.2,97.2 1411.0,102.7 1404.8,108.3 1398.7,119.3 1392.5,116.3 1386.3,117.3 1380.1,116.8 1373.9,131.3 1367.7,134.9 1361.6,138.9 1355.4,139.9 1349.2,146.9 1343.0,154.6 1336.8,149.4 1330.7,165.2 1324.5,190.8 1318.3,219.4 1312.1,248.7 1305.9,230.7 1299.8,240.5 1293.6,229.0 1287.4,242.6 1281.2,220.0 1275.0,187.7 1268.8,201.3 1262.7,192.2 1256.5,162.1 1250.3,149.1 1244.1,137.5 1237.9,138.5 1231.8,147.1 1225.6,130.5 1219.4,110.3 1213.2,107.8 1207.0,102.7 1200.8,108.8 1194.7,107.3 1188.5,111.8 1182.3,107.8 1176.1,102.2 1169.9,117.3 1163.8,112.3 1157.6,111.8 1151.4,116.8 1145.2,114.8 1139.0,110.8 1132.8,106.8 1126.7,114.8 1120.5,123.3 1114.3,112.8 1108.1,126.3 1101.9,109.3 1095.8,109.3 1089.6,110.8 1083.4,116.8 1077.2,114.3 1071.0,111.3 1064.9,115.3 1058.7,119.3 1052.5,116.3 1046.3,145.1 1040.1,136.0 1033.9,146.6 1027.8,164.6 1021.6,157.9 1015.4,157.1 1009.2,137.5 1003.0,129.2 996.9,108.8 990.7,114.3 984.5,98.7 978.3,100.2 972.1,109.3 965.9,127.3 959.8,122.3 953.6,103.2 947.4,111.3 941.2,120.3 935.0,108.8 928.9,108.3 922.7,104.2 916.5,94.2 910.3,123.3 904.1,115.3 898.0,117.3 891.8,120.3 885.6,133.8 879.4,169.9 873.2,148.8 867.0,135.3 860.9,172.2 854.7,140.5 848.5,128.5 842.3,124.0 836.1,116.4 830.0,152.6 823.8,151.1 817.6,114.9 811.4,114.9 805.2,118.0 799.0,127.0 792.9,114.9 786.7,151.1 780.5,127.7 774.3,135.3 768.1,124.0 762.0,123.2 755.8,123.2 749.6,137.5 743.4,121.7 737.2,100.7 731.1,106.8 724.9,99.7 718.7,99.2 712.5,94.2 706.3,96.7 700.1,94.7 694.0,93.2 687.8,83.6 681.6,103.2 675.4,102.6 669.2,110.9 663.1,108.5 656.9,110.3 650.7,117.3 644.5,129.4 638.3,169.1 632.1,154.3 626.0,165.1 619.8,187.2 613.6,179.7 607.4,170.4 601.2,184.2 595.1,182.0 588.9,220.5 582.7,197.2 576.5,194.1 570.3,204.0 564.2,217.8 558.0,220.4 551.8,234.5 545.6,274.4 539.4,264.6 533.2,265.4 527.1,287.2 520.9,300.0 514.7,290.2 508.5,294.7 502.3,294.0 496.2,318.8 490.0,350.5 483.8,353.5 477.6,327.9 471.4,330.1 465.2,330.1 459.1,331.6 452.9,350.5 446.7,374.5 440.5,370.0 434.3,365.5 428.2,394.1 422.0,389.6 415.8,407.7 409.6,426.9 403.4,408.8 397.3,421.6 391.1,434.4 384.9,419.4 378.7,420.1 372.5,406.6 366.3,410.3 360.2,423.9 354.0,438.2 347.8,417.9 341.6,429.1 335.4,451.7 329.3,461.5 323.1,472.8 316.9,458.5 310.7,512.0 304.5,426.1 298.3,480.3 292.2,463.8 286.0,487.9 279.8,483.4 273.6,520.2 267.4,502.2 261.3,499.2 255.1,505.9 248.9,510.5 242.7,515.7 236.5,489.4 230.4,475.8 224.2,526.3 218.0,535.3 211.8,535.3 205.6,515.7 199.4,527.0 193.3,487.1 187.1,483.4 180.9,458.5" fill="#f58231"/>
<polygon points="180.9,426.9 187.1,451.7 193.3,457.0 199.4,497.7 205.6,493.9 211.8,509.7 218.0,484.9 224.2,497.7 230.4,449.5 236.5,472.1 242.7,478.1 248.9,479.6 255.1,481.1 261.3,455.5 267.4,469.8 273.6,484.1 279.8,442.7 286.0,430.7 292.2,426.9 298.3,441.2 304.5,406.6 310.7,463.8 316.9,435.2 323.1,423.9 329.3,421.6 335.4,420.1 341.6,410.3 347.8,401.3 354.0,402.0 360.2,399.8 366.3,394.5 372.5,390.0 378.7,404.3 384.9,404.3 391.1,417.9 397.3,405.8 403.4,394.5 409.6,404.3 415.8,397.1 422.0,380.6 428.2,370.0 434.3,352.0 440.5,340.7 446.7,346.7 452.9,312.1 459.1,303.0 465.2,300.8 471.4,303.0 477.6,281.9 483.8,324.1 490.0,332.4 496.2,301.5 502.3,266.1 508.5,269.9 514.7,267.6 520.9,270.7 527.1,253.3 533.2,241.3 539.4,240.5 545.6,251.1 551.8,227.0 558.0,199.3 564.2,199.5 570.3,183.4 576.5,166.2 582.7,178.4 588.9,197.1 595.1,164.4 601.2,158.7 607.4,142.0 613.6,152.9 619.8,163.8 626.0,144.2 632.1,135.5 638.3,138.2 644.5,115.9 650.7,106.8 656.9,102.6 663.1,93.8 669.2,95.2 675.4,85.1 681.6,86.3 687.8,72.3 694.0,76.6 700.1,74.9 706.3,73.6 712.5,73.1 718.7,82.2 724.9,74.4 731.1,74.9 737.2,79.6 743.4,86.2 749.6,114.8 755.8,93.2 762.0,105.7 768.1,105.2 774.3,112.3 780.5,112.3 786.7,118.8 792.9,77.1 799.0,106.2 805.2,104.7 811.4,87.2 817.6,83.2 823.8,71.6 830.0,117.3 836.1,78.6 842.3,84.2 848.5,84.2 854.7,92.2 860.9,140.4 867.0,120.3 873.2,130.3 879.4,144.4 885.6,103.2 891.8,89.2 898.0,77.6 904.1,82.2 910.3,89.2 916.5,68.6 922.7,64.1 928.9,65.1 935.0,86.7 941.2,75.1 947.4,69.1 953.6,75.1 959.8,59.1 965.9,72.1 972.1,67.6 978.3,74.1 984.5,74.1 990.7,77.6 996.9,84.2 1003.0,90.2 1009.2,111.3 1015.4,123.3 1021.6,129.3 1027.8,146.4 1033.9,119.3 1040.1,117.3 1046.3,119.3 1052.5,98.2 1058.7,89.2 1064.9,92.2 1071.0,80.7 1077.2,92.7 1083.4,86.7 1089.6,82.2 1095.8,81.2 1101.9,85.2 1108.1,92.7 1114.3,81.2 1120.5,93.2 1126.7,88.2 1132.8,77.1 1139.0,82.7 1145.2,86.7 1151.4,88.2 1157.6,84.7 1163.8,91.7 1169.9,80.7 1176.1,76.1 1182.3,75.3 1188.5,78.8 1194.7,77.3 1200.8,76.3 1207.0,69.3 1213.2,67.3 1219.4,72.8 1225.6,66.3 1231.8,70.3 1237.9,67.8 1244.1,71.8 1250.3,67.8 1256.5,66.3 1262.7,71.3 1268.8,72.8 1275.0,73.3 1281.2,70.3 1287.4,73.3 1293.6,68.3 1299.8,77.3 1305.9,71.3 1312.1,76.3 1318.3,70.8 1324.5,69.3 1330.7,83.4 1336.8,72.1 1343.0,87.9 1349.2,86.4 1355.4,88.8 1361.6,84.8 1367.7,80.8 1373.9,88.8 1380.1,82.2 1386.3,84.7 1392.5,78.1 1398.7,92.2 1404.8,81.7 1411.0,78.6 1417.2,75.6 1423.4,73.1 1429.6,78.6 1435.7,74.6 1441.9,79.6 1448.1,79.6 1454.3,73.6 1460.5,67.1 1466.7,70.6 1472.8,69.6 1479.0,73.1 1485.2,75.6 1491.4,69.1 1497.6,67.6 1503.7,65.6 1509.9,64.1 1516.1,69.6 1516.1,85.7 1509.9,77.1 1503.7,75.1 1497.6,82.2 1491.4,89.2 1485.2,97.7 1479.0,98.2 1472.8,95.7 1466.7,100.2 1460.5,100.7 1454.3,105.2 1448.1,112.8 1441.9,112.3 1435.7,106.2 1429.6,103.2 1423.4,92.7 1417.2,96.2 1411.0,100.2 1404.8,104.2 1398.7,114.8 1392.5,97.2 1386.3,107.3 1380.1,106.2 1373.9,115.8 1367.7,105.2 1361.6,107.3 1355.4,106.8 1349.2,112.3 1343.0,118.3 1336.8,93.2 1330.7,109.3 1324.5,100.2 1318.3,94.7 1312.1,100.7 1305.9,101.2 1299.8,102.2 1293.6,99.2 1287.4,98.2 1281.2,99.2 1275.0,100.7 1268.8,105.7 1262.7,101.2 1256.5,95.2 1250.3,96.7 1244.1,100.2 1237.9,92.7 1231.8,101.2 1225.6,99.2 1219.4,97.2 1213.2,94.2 1207.0,94.7 1200.8,105.7 1194.7,107.3 1188.5,111.8 1182.3,107.8 1176.1,102.2 1169.9,117.3 1163.8,112.3 1157.6,111.8 1151.4,116.8 1145.2,114.8 1139.0,110.8 1132.8,106.8 1126.7,114.8 1120.5,123.3 1114.3,112.8 1108.1,126.3 1101.9,109.3 1095.8,109.3 1089.6,110.8 1083.4,116.8 1077.2,114.3 1071.0,111.3 1064.9,115.3 1058.7,119.3 1052.5,116.3 1046.3,145.1 1040.1,136.0 1033.9,146.6 1027.8,164.6 1021.6,157.9 1015.4,157.1 1009.2,137.5 1003.0,129.2 996.9,108.8 990.7,114.3 984.5,98.7 978.3,100.2 972.1,109.3 965.9,127.3 959.8,122.3 953.6,103.2 947.4,111.3 941.2,120.3 935.0,108.8 928.9,108.3 922.7,104.2 916.5,94.2 910.3,123.3 904.1,115.3 898.0,117.3 891.8,120.3 885.6,133.8 879.4,169.9 873.2,148.8 867.0,135.3 860.9,172.2 854.7,140.5 848.5,128.5 842.3,124.0 836.1,116.4 830.0,152.6 823.8,151.1 817.6,114.9 811.4,114.9 805.2,118.0 799.0,127.0 792.9,114.9 786.7,151.1 780.5,127.7 774.3,135.3 768.1,124.0 762.0,123.2 755.8,123.2 749.6,137.5 743.4,121.7 737.2,100.7 731.1,106.8 724.9,99.7 718.7,99.2 712.5,94.2 706.3,96.7 700.1,94.7 694.0,93.2 687.8,83.6 681.6,103.2 675.4,102.6 669.2,110.9 663.1,108.5 656.9,110.3 650.7,117.3 644.5,129.4 638.3,169.1 632.1,154.3 626.0,165.1 619.8,187.2 613.6,179.7 607.4,170.4 601.2,184.2 595.1,182.0 588.9,220.5 582.7,197.2 576.5,194.1 570.3,204.0 564.2,217.8 558.0,220.4 551.8,234.5 545.6,274.4 539.4,264.6 533.2,265.4 527.1,287.2 520.9,300.0 514.7,290.2 508.5,294.7 502.3,294.0 496.2,318.8 490.0,350.5 483.8,353.5 477.6,327.9 471.4,330.1 465.2,330.1 459.1,331.6 452.9,350.5 446.7,374.5 440.5,370.0 434.3,365.5 428.2,394.1 422.0,389.6 415.8,407.7 409.6,426.9 403.4,408.8 397.3,421.6 391.1,434.4 384.9,419.4 378.7,420.1 372.5,406.6 366.3,410.3 360.2,423.9 354.0,438.2 347.8,417.9 341.6,429.1 335.4,451.7 329.3,461.5 323.1,472.8 316.9,458.5 310.7,512.0 304.5,426.1 298.3,480.3 292.2,463.8 286.0,487.9 279.8,483.4 273.6,520.2 267.4,502.2 261.3,499.2 255.1,505.9 248.9,510.5 242.7,515.7 236.5,489.4 230.4,475.8 224.2,526.3 218.0,535.3 211.8,535.3 205.6,515.7 199.4,527.0 193.3,487.1 187.1,483.4 180.9,458.5" fill="#4363d8"/>
<polygon points="180.9,65.7 187.1,68.4 193.3,70.0 199.4,66.1 205.6,74.9 211.8,76.9 218.0,77.3 224.2,71.8 230.4,69.8 236.5,55.3 242.7,70.9 248.9,63.1 255.1,55.0 261.3,54.8 267.4,56.2 273.6,53.6 279.8,60.7 286.0,58.3 292.2,58.5 298.3,55.5 304.5,55.3 310.7,58.1 316.9,64.8 323.1,59.3 329.3,53.8 335.4,50.9 341.6,49.7 347.8,56.1 354.0,52.4 360.2,55.2 366.3,52.7 372.5,55.4 378.7,53.8 384.9,59.5 391.1,58.1 397.3,53.5 403.4,51.9 409.6,51.5 415.8,58.2 422.0,59.1 428.2,64.4 434.3,53.6 440.5,59.8 446.7,52.9 452.9,54.1 459.1,56.1 465.2,57.5 471.4,60.5 477.6,55.6 483.8,82.1 490.0,94.2 496.2,89.8 502.3,73.7 508.5,64.7 514.7,68.8 520.9,69.0 527.1,68.5 533.2,80.6 539.4,66.8 545.6,70.4 551.8,69.5 558.0,61.4 564.2,75.6 570.3,73.3 576.5,70.6 582.7,80.0 588.9,93.6 595.1,78.9 601.2,78.4 607.4,68.8 613.6,76.9 619.8,86.2 626.0,75.9 632.1,68.8 638.3,81.5 644.5,55.9 650.7,66.1 656.9,58.9 663.1,60.8 669.2,61.5 675.4,68.3 681.6,58.5 687.8,58.2 694.0,64.3 700.1,65.9 706.3,65.1 712.5,60.8 718.7,69.4 724.9,62.6 731.1,65.1 737.2,64.4 743.4,84.2 749.6,105.7 755.8,83.7 762.0,84.2 768.1,87.7 774.3,90.7 780.5,100.7 786.7,104.2 792.9,65.6 799.0,89.2 805.2,81.2 811.4,76.1 817.6,75.1 823.8,61.6 830.0,79.6 836.1,69.1 842.3,76.1 848.5,77.1 854.7,89.2 860.9,130.3 867.0,112.3 873.2,119.3 879.4,134.4 885.6,94.7 891.8,80.2 898.0,67.6 904.1,70.1 910.3,79.6 916.5,59.1 922.7,60.1 928.9,58.1 935.0,80.2 941.2,67.1 947.4,66.6 953.6,70.1 959.8,55.1 965.9,64.6 972.1,59.1 978.3,67.1 984.5,66.1 990.7,66.6 996.9,75.6 1003.0,81.2 1009.2,109.3 1015.4,120.3 1021.6,127.3 1027.8,144.4 1033.9,114.8 1040.1,113.3 1046.3,111.8 1052.5,94.2 1058.7,85.7 1064.9,89.2 1071.0,79.6 1077.2,89.2 1083.4,83.2 1089.6,75.1 1095.8,77.1 1101.9,84.2 1108.1,90.2 1114.3,80.2 1120.5,90.7 1126.7,86.2 1132.8,76.1 1139.0,81.7 1145.2,85.2 1151.4,87.2 1157.6,83.7 1163.8,90.2 1169.9,79.6 1176.1,74.6 1182.3,74.6 1188.5,78.1 1194.7,76.6 1200.8,75.6 1207.0,68.6 1213.2,66.6 1219.4,72.1 1225.6,65.6 1231.8,69.6 1237.9,67.1 1244.1,71.1 1250.3,67.1 1256.5,65.6 1262.7,70.6 1268.8,72.1 1275.0,72.6 1281.2,69.6 1287.4,72.6 1293.6,67.6 1299.8,76.6 1305.9,70.6 1312.1,75.6 1318.3,70.1 1324.5,68.6 1330.7,82.7 1336.8,71.6 1343.0,87.2 1349.2,85.7 1355.4,88.2 1361.6,84.2 1367.7,80.2 1373.9,88.2 1380.1,81.7 1386.3,84.2 1392.5,77.6 1398.7,91.7 1404.8,81.2 1411.0,78.1 1417.2,75.1 1423.4,72.6 1429.6,78.1 1435.7,74.1 1441.9,79.1 1448.1,79.1 1454.3,73.1 1460.5,66.6 1466.7,70.1 1472.8,69.1 1479.0,72.6 1485.2,75.1 1491.4,68.6 1497.6,67.1 1503.7,65.1 1509.9,63.6 1516.1,69.1 1516.1,69.6 1509.9,64.1 1503.7,65.6 1497.6,67.6 1491.4,69.1 1485.2,75.6 1479.0,73.1 1472.8,69.6 1466.7,70.6 1460.5,67.1 1454.3,73.6 1448.1,79.6 1441.9,79.6 1435.7,74.6 1429.6,78.6 1423.4,73.1 1417.2,75.6 1411.0,78.6 1404.8,81.7 1398.7,92.2 1392.5,78.1 1386.3,84.7 1380.1,82.2 1373.9,88.8 1367.7,80.8 1361.6,84.8 1355.4,88.8 1349.2,86.4 1343.0,87.9 1336.8,72.1 1330.7,83.4 1324.5,69.3 1318.3,70.8 1312.1,76.3 1305.9,71.3 1299.8,77.3 1293.6,68.3 1287.4,73.3 1281.2,70.3 1275.0,73.3 1268.8,72.8 1262.7,71.3 1256.5,66.3 1250.3,67.8 1244.1,71.8 1237.9,67.8 1231.8,70.3 1225.6,66.3 1219.4,72.8 1213.2,67.3 1207.0,69.3 1200.8,76.3 1194.7,77.3 1188.5,78.8 1182.3,75.3 1176.1,76.1 1169.9,80.7 1163.8,91.7 1157.6,84.7 1151.4,88.2 1145.2,86.7 1139.0,82.7 1132.8,77.1 1126.7,88.2 1120.5,93.2 1114.3,81.2 1108.1,92.7 1101.9,85.2 1095.8,81.2 1089.6,82.2 1083.4,86.7 1077.2,92.7 1071.0,80.7 1064.9,92.2 1058.7,89.2 1052.5,98.2 1046.3,119.3 1040.1,117.3 1033.9,119.3 1027.8,146.4 1021.6,129.3 1015.4,123.3 1009.2,111.3 1003.0,90.2 996.9,84.2 990.7,77.6 984.5,74.1 978.3,74.1 972.1,67.6 965.9,72.1 959.8,59.1 953.6,75.1 947.4,69.1 941.2,75.1 935.0,86.7 928.9,65.1 922.7,64.1 916.5,68.6 910.3,89.2 904.1,82.2 898.0,77.6 891.8,89.2 885.6,103.2 879.4,144.4 873.2,130.3 867.0,120.3 860.9,140.4 854.7,92.2 848.5,84.2 842.3,84.2 836.1,78.6 830.0,117.3 823.8,71.6 817.6,83.2 811.4,87.2 805.2,104.7 799.0,106.2 792.9,77.1 786.7,118.8 780.5,112.3 774.3,112.3 768.1,105.2 762.0,105.7 755.8,93.2 749.6,114.8 743.4,86.2 737.2,79.6 731.1,74.9 724.9,74.4 718.7,82.2 712.5,73.1 706.3,73.6 700.1,74.9 694.0,76.6 687.8,72.3 681.6,86.3 675.4,85.1 669.2,95.2 663.1,93.8 656.9,102.6 650.7,106.8 644.5,115.9 638.3,138.2 632.1,135.5 626.0,144.2 619.8,163.8 613.6,152.9 607.4,142.0 601.2,158.7 595.1,164.4 588.9,197.1 582.7,178.4 576.5,166.2 570.3,183.4 564.2,199.5 558.0,199.3 551.8,227.0 545.6,251.1 539.4,240.5 533.2,241.3 527.1,253.3 520.9,270.7 514.7,267.6 508.5,269.9 502.3,266.1 496.2,301.5 490.0,332.4 483.8,324.1 477.6,281.9 471.4,303.0 465.2,300.8 459.1,303.0 452.9,312.1 446.7,346.7 440.5,340.7 434.3,352.0 428.2,370.0 422.0,380.6 415.8,397.1 409.6,404.3 403.4,394.5 397.3,405.8 391.1,417.9 384.9,404.3 378.7,404.3 372.5,390.0 366.3,394.5 360.2,399.8 354.0,402.0 347.8,401.3 341.6,410.3 335.4,420.1 329.3,421.6 323.1,423.9 316.9,435.2 310.7,463.8 304.5,406.6 298.3,441.2 292.2,426.9 286.0,430.7 279.8,442.7 273.6,484.1 267.4,469.8 261.3,455.5 255.1,481.1 248.9,479.6 242.7,478.1 236.5,472.1 230.4,449.5 224.2,497.7 218.0,484.9 211.8,509.7 205.6,493.9 199.4,497.7 193.3,457.0 187.1,451.7 180.9,426.9" fill="#ffe119"/>
<polygon points="180.9,46.5 187.1,47.3 193.3,51.0 199.4,48.4 205.6,46.9 211.8,46.5 218.0,48.4 224.2,47.5 230.4,47.3 236.5,47.3 242.7,46.9 248.9,46.5 255.1,46.9 261.3,48.2 267.4,49.3 273.6,48.4 279.8,50.2 286.0,47.0 292.2,47.4 298.3,48.4 304.5,47.5 310.7,50.2 316.9,49.4 323.1,47.9 329.3,47.2 335.4,47.2 341.6,47.1 347.8,50.9 354.0,49.3 360.2,51.8 366.3,50.6 372.5,48.5 378.7,48.8 384.9,50.0 391.1,50.5 397.3,50.5 403.4,49.9 409.6,47.5 415.8,52.4 422.0,56.2 428.2,60.2 434.3,50.0 440.5,51.9 446.7,48.9 452.9,47.8 459.1,53.1 465.2,47.0 471.4,49.3 477.6,50.8 483.8,63.7 490.0,57.6 496.2,60.5 502.3,56.6 508.5,55.3 514.7,50.6 520.9,51.1 527.1,55.2 533.2,62.9 539.4,55.1 545.6,56.7 551.8,54.1 558.0,53.8 564.2,63.3 570.3,60.5 576.5,63.2 582.7,67.8 588.9,60.1 595.1,66.2 601.2,64.4 607.4,56.0 613.6,61.9 619.8,74.2 626.0,65.5 632.1,58.5 638.3,60.3 644.5,48.5 650.7,53.9 656.9,53.0 663.1,52.5 669.2,53.8 675.4,56.2 681.6,50.5 687.8,53.5 694.0,56.1 700.1,58.1 706.3,58.6 712.5,56.1 718.7,60.1 724.9,57.1 731.1,56.1 737.2,55.6 743.4,72.1 749.6,87.7 755.8,64.6 762.0,58.6 768.1,55.6 774.3,64.1 780.5,90.2 786.7,69.1 792.9,55.6 799.0,61.6 805.2,71.1 811.4,56.1 817.6,66.6 823.8,55.1 830.0,57.6 836.1,56.1 842.3,55.6 848.5,56.6 854.7,54.1 860.9,52.0 867.0,49.5 873.2,51.5 879.4,68.1 885.6,52.0 891.8,49.5 898.0,47.5 904.1,54.1 910.3,57.6 916.5,52.5 922.7,55.6 928.9,50.5 935.0,58.1 941.2,61.6 947.4,57.6 953.6,58.6 959.8,49.0 965.9,54.1 972.1,50.0 978.3,54.1 984.5,54.6 990.7,52.5 996.9,53.0 1003.0,55.1 1009.2,58.1 1015.4,55.1 1021.6,53.6 1027.8,56.6 1033.9,58.6 1040.1,68.6 1046.3,59.6 1052.5,56.1 1058.7,54.6 1064.9,57.6 1071.0,60.6 1077.2,55.1 1083.4,52.2 1089.6,53.6 1095.8,57.1 1101.9,53.6 1108.1,55.6 1114.3,56.6 1120.5,57.9 1126.7,58.4 1132.8,59.1 1139.0,59.1 1145.2,62.6 1151.4,64.1 1157.6,63.6 1163.8,69.1 1169.9,63.6 1176.1,61.6 1182.3,58.1 1188.5,57.1 1194.7,59.1 1200.8,58.1 1207.0,56.1 1213.2,56.1 1219.4,57.6 1225.6,58.6 1231.8,59.6 1237.9,58.6 1244.1,57.1 1250.3,56.6 1256.5,57.6 1262.7,58.6 1268.8,60.6 1275.0,58.1 1281.2,58.6 1287.4,60.6 1293.6,60.6 1299.8,63.6 1305.9,58.6 1312.1,64.1 1318.3,61.1 1324.5,56.6 1330.7,62.1 1336.8,63.6 1343.0,66.1 1349.2,67.1 1355.4,63.6 1361.6,66.1 1367.7,69.6 1373.9,68.1 1380.1,65.1 1386.3,67.1 1392.5,66.6 1398.7,70.6 1404.8,64.6 1411.0,64.6 1417.2,62.6 1423.4,60.6 1429.6,66.6 1435.7,66.1 1441.9,67.1 1448.1,67.6 1454.3,65.1 1460.5,58.6 1466.7,61.1 1472.8,60.6 1479.0,63.6 1485.2,67.1 1491.4,62.1 1497.6,58.6 1503.7,60.6 1509.9,59.1 1516.1,61.6 1516.1,69.1 1509.9,63.6 1503.7,65.1 1497.6,67.1 1491.4,68.6 1485.2,75.1 1479.0,72.6 1472.8,69.1 1466.7,70.1 1460.5,66.6 1454.3,73.1 1448.1,79.1 1441.9,79.1 1435.7,74.1 1429.6,78.1 1423.4,72.6 1417.2,75.1 1411.0,78.1 1404.8,81.2 1398.7,91.7 1392.5,77.6 1386.3,84.2 1380.1,81.7 1373.9,88.2 1367.7,80.2 1361.6,84.2 1355.4,88.2 1349.2,85.7 1343.0,87.2 1336.8,71.6 1330.7,82.7 1324.5,68.6 1318.3,70.1 1312.1,75.6 1305.9,70.6 1299.8,76.6 1293.6,67.6 1287.4,72.6 1281.2,69.6 1275.0,72.6 1268.8,72.1 1262.7,70.6 1256.5,65.6 1250.3,67.1 1244.1,71.1 1237.9,67.1 1231.8,69.6 1225.6,65.6 1219.4,72.1 1213.2,66.6 1207.0,68.6 1200.8,75.6 1194.7,76.6 1188.5,78.1 1182.3,74.6 1176.1,74.6 1169.9,79.6 1163.8,90.2 1157.6,83.7 1151.4,87.2 1145.2,85.2 1139.0,81.7 1132.8,76.1 1126.7,86.2 1120.5,90.7 1114.3,80.2 1108.1,90.2 1101.9,84.2 1095.8,77.1 1089.6,75.1 1083.4,83.2 1077.2,89.2 1071.0,79.6 1064.9,89.2 1058.7,85.7 1052.5,94.2 1046.3,111.8 1040.1,113.3 1033.9,114.8 1027.8,144.4 1021.6,127.3 1015.4,120.3 1009.2,109.3 1003.0,81.2 996.9,75.6 990.7,66.6 984.5,66.1 978.3,67.1 972.1,59.1 965.9,64.6 959.8,55.1 953.6,70.1 947.4,66.6 941.2,67.1 935.0,80.2 928.9,58.1 922.7,60.1 916.5,59.1 910.3,79.6 904.1,70.1 898.0,67.6 891.8,80.2 885.6,94.7 879.4,134.4 873.2,119.3 867.0,112.3 860.9,130.3 854.7,89.2 848.5,77.1 842.3,76.1 836.1,69.1 830.0,79.6 823.8,61.6 817.6,75.1 811.4,76.1 805.2,81.2 799.0,89.2 792.9,65.6 786.7,104.2 780.5,100.7 774.3,90.7 768.1,87.7 762.0,84.2 755.8,83.7 749.6,105.7 743.4,84.2 737.2,64.4 731.1,65.1 724.9,62.6 718.7,69.4 712.5,60.8 706.3,65.1 700.1,65.9 694.0,64.3 687.8,58.2 681.6,58.5 675.4,68.3 669.2,61.5 663.1,60.8 656.9,58.9 650.7,66.1 644.5,55.9 638.3,81.5 632.1,68.8 626.0,75.9 619.8,86.2 613.6,76.9 607.4,68.8 601.2,78.4 595.1,78.9 588.9,93.6 582.7,80.0 576.5,70.6 570.3,73.3 564.2,75.6 558.0,61.4 551.8,69.5 545.6,70.4 539.4,66.8 533.2,80.6 527.1,68.5 520.9,69.0 514.7,68.8 508.5,64.7 502.3,73.7 496.2,89.8 490.0,94.2 483.8,82.1 477.6,55.6 471.4,60.5 465.2,57.5 459.1,56.1 452.9,54.1 446.7,52.9 440.5,59.8 434.3,53.6 428.2,64.4 422.0,59.1 415.8,58.2 409.6,51.5 403.4,51.9 397.3,53.5 391.1,58.1 384.9,59.5 378.7,53.8 372.5,55.4 366.3,52.7 360.2,55.2 354.0,52.4 347.8,56.1 341.6,49.7 335.4,50.9 329.3,53.8 323.1,59.3 316.9,64.8 310.7,58.1 304.5,55.3 298.3,55.5 292.2,58.5 286.0,58.3 279.8,60.7 273.6,53.6 267.4,56.2 261.3,54.8 255.1,55.0 248.9,63.1 242.7,70.9 236.5,55.3 230.4,69.8 224.2,71.8 218.0,77.3 211.8,76.9 205.6,74.9 199.4,66.1 193.3,70.0 187.1,68.4 180.9,65.7" fill="#3cb44b"/>
<polygon points="180.9,46.0 187.1,46.0 193.3,46.0 199.4,46.0 205.6,46.0 211.8,46.0 218.0,46.0 224.2,46.0 230.4,46.0 236.5,46.0 242.7,46.0 248.9,46.0 255.1,46.0 261.3,46.0 267.4,46.0 273.6,46.0 279.8,46.0 286.0,46.0 292.2,46.0 298.3,46.0 304.5,46.0 310.7,46.0 316.9,46.0 323.1,46.0 329.3,46.0 335.4,46.0 341.6,46.0 347.8,46.0 354.0,46.0 360.2,46.0 366.3,46.0 372.5,46.0 378.7,46.0 384.9,46.0 391.1,46.0 397.3,46.0 403.4,46.0 409.6,46.0 415.8,46.0 422.0,46.0 428.2,46.0 434.3,46.0 440.5,46.0 446.7,46.0 452.9,46.0 459.1,46.0 465.2,46.0 471.4,46.0 477.6,46.0 483.8,46.0 490.0,46.0 496.2,46.0 502.3,46.0 508.5,46.0 514.7,46.0 520.9,46.0 527.1,46.0 533.2,46.0 539.4,46.0 545.6,46.0 551.8,46.0 558.0,46.0 564.2,46.0 570.3,46.0 576.5,46.0 582.7,46.0 588.9,46.0 595.1,46.0 601.2,46.0 607.4,46.0 613.6,46.0 619.8,46.0 626.0,46.0 632.1,46.0 638.3,46.0 644.5,46.0 650.7,46.0 656.9,46.0 663.1,46.0 669.2,46.0 675.4,46.0 681.6,46.0 687.8,46.0 694.0,46.0 700.1,46.0 706.3,46.0 712.5,46.0 718.7,46.0 724.9,46.0 731.1,46.0 737.2,46.0 743.4,46.0 749.6,46.0 755.8,46.0 762.0,46.0 768.1,46.0 774.3,46.0 780.5,46.0 786.7,46.0 792.9,46.0 799.0,46.0 805.2,46.0 811.4,46.0 817.6,46.0 823.8,46.0 830.0,46.0 836.1,46.0 842.3,46.0 848.5,46.0 854.7,46.0 860.9,46.0 867.0,46.0 873.2,46.0 879.4,46.0 885.6,46.0 891.8,46.0 898.0,46.0 904.1,46.0 910.3,46.0 916.5,46.0 922.7,46.0 928.9,46.0 935.0,46.0 941.2,46.0 947.4,46.0 953.6,46.0 959.8,46.0 965.9,46.0 972.1,46.0 978.3,46.0 984.5,46.0 990.7,46.0 996.9,46.0 1003.0,46.0 1009.2,46.0 1015.4,46.0 1021.6,46.0 1027.8,46.0 1033.9,46.0 1040.1,46.0 1046.3,46.0 1052.5,46.0 1058.7,46.0 1064.9,46.0 1071.0,46.0 1077.2,46.0 1083.4,46.0 1089.6,46.0 1095.8,46.0 1101.9,46.0 1108.1,46.0 1114.3,46.0 1120.5,46.0 1126.7,46.0 1132.8,46.0 1139.0,46.0 1145.2,46.0 1151.4,46.0 1157.6,46.0 1163.8,46.0 1169.9,46.0 1176.1,46.0 1182.3,46.0 1188.5,46.0 1194.7,46.0 1200.8,46.0 1207.0,46.0 1213.2,46.0 1219.4,46.0 1225.6,46.0 1231.8,46.0 1237.9,46.0 1244.1,46.0 1250.3,46.0 1256.5,46.0 1262.7,46.0 1268.8,46.0 1275.0,46.0 1281.2,46.0 1287.4,46.0 1293.6,46.0 1299.8,46.0 1305.9,46.0 1312.1,46.0 1318.3,46.0 1324.5,46.0 1330.7,46.0 1336.8,46.0 1343.0,46.0 1349.2,46.0 1355.4,46.0 1361.6,46.0 1367.7,46.0 1373.9,46.0 1380.1,46.0 1386.3,46.0 1392.5,46.0 1398.7,46.0 1404.8,46.0 1411.0,46.0 1417.2,46.0 1423.4,46.0 1429.6,46.0 1435.7,46.0 1441.9,46.0 1448.1,46.0 1454.3,46.0 1460.5,46.0 1466.7,46.0 1472.8,46.0 1479.0,46.0 1485.2,46.0 1491.4,46.0 1497.6,46.0 1503.7,46.0 1509.9,46.0 1516.1,46.0 1516.1,61.6 1509.9,59.1 1503.7,60.6 1497.6,58.6 1491.4,62.1 1485.2,67.1 1479.0,63.6 1472.8,60.6 1466.7,61.1 1460.5,58.6 1454.3,65.1 1448.1,67.6 1441.9,67.1 1435.7,66.1 1429.6,66.6 1423.4,60.6 1417.2,62.6 1411.0,64.6 1404.8,64.6 1398.7,70.6 1392.5,66.6 1386.3,67.1 1380.1,65.1 1373.9,68.1 1367.7,69.6 1361.6,66.1 1355.4,63.6 1349.2,67.1 1343.0,66.1 1336.8,63.6 1330.7,62.1 1324.5,56.6 1318.3,61.1 1312.1,64.1 1305.9,58.6 1299.8,63.6 1293.6,60.6 1287.4,60.6 1281.2,58.6 1275.0,58.1 1268.8,60.6 1262.7,58.6 1256.5,57.6 1250.3,56.6 1244.1,57.1 1237.9,58.6 1231.8,59.6 1225.6,58.6 1219.4,57.6 1213.2,56.1 1207.0,56.1 1200.8,58.1 1194.7,59.1 1188.5,57.1 1182.3,58.1 1176.1,61.6 1169.9,63.6 1163.8,69.1 1157.6,63.6 1151.4,64.1 1145.2,62.6 1139.0,59.1 1132.8,59.1 1126.7,58.4 1120.5,57.9 1114.3,56.6 1108.1,55.6 1101.9,53.6 1095.8,57.1 1089.6,53.6 1083.4,52.2 1077.2,55.1 1071.0,60.6 1064.9,57.6 1058.7,54.6 1052.5,56.1 1046.3,59.6 1040.1,68.6 1033.9,58.6 1027.8,56.6 1021.6,53.6 1015.4,55.1 1009.2,58.1 1003.0,55.1 996.9,53.0 990.7,52.5 984.5,54.6 978.3,54.1 972.1,50.0 965.9,54.1 959.8,49.0 953.6,58.6 947.4,57.6 941.2,61.6 935.0,58.1 928.9,50.5 922.7,55.6 916.5,52.5 910.3,57.6 904.1,54.1 898.0,47.5 891.8,49.5 885.6,52.0 879.4,68.1 873.2,51.5 867.0,49.5 860.9,52.0 854.7,54.1 848.5,56.6 842.3,55.6 836.1,56.1 830.0,57.6 823.8,55.1 817.6,66.6 811.4,56.1 805.2,71.1 799.0,61.6 792.9,55.6 786.7,69.1 780.5,90.2 774.3,64.1 768.1,55.6 762.0,58.6 755.8,64.6 749.6,87.7 743.4,72.1 737.2,55.6 731.1,56.1 724.9,57.1 718.7,60.1 712.5,56.1 706.3,58.6 700.1,58.1 694.0,56.1 687.8,53.5 681.6,50.5 675.4,56.2 669.2,53.8 663.1,52.5 656.9,53.0 650.7,53.9 644.5,48.5 638.3,60.3 632.1,58.5 626.0,65.5 619.8,74.2 613.6,61.9 607.4,56.0 601.2,64.4 595.1,66.2 588.9,60.1 582.7,67.8 576.5,63.2 570.3,60.5 564.2,63.3 558.0,53.8 551.8,54.1 545.6,56.7 539.4,55.1 533.2,62.9 527.1,55.2 520.9,51.1 514.7,50.6 508.5,55.3 502.3,56.6 496.2,60.5 490.0,57.6 483.8,63.7 477.6,50.8 471.4,49.3 465.2,47.0 459.1,53.1 452.9,47.8 446.7,48.9 440.5,51.9 434.3,50.0 428.2,60.2 422.0,56.2 415.8,52.4 409.6,47.5 403.4,49.9 397.3,50.5 391.1,50.5 384.9,50.0 378.7,48.8 372.5,48.5 366.3,50.6 360.2,51.8 354.0,49.3 347.8,50.9 341.6,47.1 335.4,47.2 329.3,47.2 323.1,47.9 316.9,49.4 310.7,50.2 304.5,47.5 298.3,48.4 292.2,47.4 286.0,47.0 279.8,50.2 273.6,48.4 267.4,49.3 261.3,48.2 255.1,46.9 248.9,46.5 242.7,46.9 236.5,47.3 230.4,47.3 224.2,47.5 218.0,48.4 211.8,46.5 205.6,46.9 199.4,48.4 193.3,51.0 187.1,47.3 180.9,46.5" fill="#e6194b"/>
<g id="lines">
<polyline points="180.9,672.1 187.1,669.0 193.3,681.1 199.4,677.3 205.6,662.3 211.8,705.2 218.0,706.7 224.2,693.1 230.4,693.1 236.5,683.4 242.7,695.4 248.9,696.9 255.1,698.4 261.3,700.7 267.4,702.2 273.6,685.6 279.8,703.7 286.0,702.2 292.2,681.8 298.3,705.9 304.5,688.6 310.7,693.1 316.9,722.5 323.1,690.1 329.3,698.4 335.4,705.9 341.6,704.4 347.8,697.7 354.0,705.9 360.2,702.2 366.3,690.1 372.5,684.1 378.7,678.8 384.9,677.3 391.1,684.1 397.3,677.3 403.4,658.5 409.6,690.9 415.8,685.0 422.0,669.1 428.2,669.1 434.3,673.6 440.5,676.6 446.7,678.8 452.9,681.1 459.1,656.3 465.2,666.0 471.4,649.5 477.6,643.5 483.8,645.0 490.0,623.9 496.2,644.2 502.3,625.4 508.5,610.3 514.7,628.4 520.9,644.2 527.1,634.4 533.2,623.9 539.4,631.4 545.6,631.4 551.8,626.9 558.0,632.9 564.2,640.5 570.3,623.9 576.5,630.7 582.7,626.1 588.9,623.9 595.1,616.4 601.2,611.8 607.4,608.8 613.6,608.1 619.8,611.1 626.0,598.3 632.1,581.7 638.3,587.8 644.5,587.8 650.7,582.5 656.9,575.0 663.1,578.0 669.2,566.7 675.4,577.2 681.6,582.5 687.8,555.4 694.0,568.2 700.1,553.9 706.3,546.4 712.5,547.1 718.7,546.6 724.9,521.0 731.1,527.0 737.2,526.3 743.4,549.6 749.6,545.1 755.8,531.5 762.0,527.0 768.1,528.5 774.3,563.1 780.5,545.1 786.7,531.5 792.9,534.5 799.0,548.8 805.2,490.1 811.4,510.5 817.6,505.9 823.8,521.0 830.0,480.3 836.1,430.7 842.3,458.5 848.5,444.2 854.7,414.1 860.9,385.5 867.0,350.1 873.2,382.5 879.4,379.5 885.6,382.5 891.8,358.4 898.0,332.8 904.1,378.7 910.3,372.7 916.5,361.4 922.7,344.9 928.9,338.8 935.0,323.8 941.2,344.1 947.4,320.8 953.6,333.8 959.8,360.1 965.9,348.8 972.1,341.3 978.3,327.8 984.5,311.2 990.7,312.7 996.9,326.2 1003.0,331.5 1009.2,307.4 1015.4,312.7 1021.6,312.7 1027.8,317.2 1033.9,311.9 1040.1,304.4 1046.3,308.9 1052.5,297.6 1058.7,296.9 1064.9,304.4 1071.0,290.9 1077.2,313.5 1083.4,308.9 1089.6,296.1 1095.8,294.6 1101.9,302.9 1108.1,321.7 1114.3,312.7 1120.5,328.5 1126.7,324.7 1132.8,317.2 1139.0,318.0 1145.2,312.7 1151.4,318.7 1157.6,315.7 1163.8,324.0 1169.9,321.7 1176.1,321.7 1182.3,323.1 1188.5,325.4 1194.7,334.4 1200.8,341.2 1207.0,342.0 1213.2,343.5 1219.4,358.6 1225.6,389.6 1231.8,383.6 1237.9,379.8 1244.1,394.1 1250.3,383.6 1256.5,433.2 1262.7,473.9 1268.8,489.7 1275.0,488.2 1281.2,522.1 1287.4,526.6 1293.6,520.6 1299.8,524.3 1305.9,538.8 1312.1,541.8 1318.3,530.5 1324.5,540.3 1330.7,538.8 1336.8,549.4 1343.0,557.6 1349.2,551.6 1355.4,546.3 1361.6,558.4 1367.7,565.2 1373.9,571.9 1380.1,568.2 1386.3,548.6 1392.5,578.0 1398.7,573.5 1404.8,577.2 1411.0,553.1 1417.2,557.6 1423.4,562.2 1429.6,576.5 1435.7,590.8 1441.9,597.5 1448.1,616.4 1454.3,622.4 1460.5,616.4 1466.7,617.9 1472.8,617.1 1479.0,619.4 1485.2,621.6 1491.4,617.9 1497.6,613.4 1503.7,614.1 1509.9,628.4 1516.1,648.0"/>
<polyline points="180.9,664.0 187.1,661.0 193.3,674.5 199.4,664.0 205.6,653.5 211.8,694.1 218.0,695.6 224.2,676.0 230.4,674.5 236.5,659.5 242.7,679.1 248.9,683.6 255.1,686.6 261.3,694.1 267.4,692.0 273.6,667.8 279.8,678.3 286.0,668.5 292.2,676.8 298.3,682.8 304.5,667.0 310.7,674.5 316.9,683.6 323.1,660.2 329.3,677.6 335.4,688.1 341.6,691.1 347.8,683.6 354.0,689.6 360.2,686.6 366.3,680.6 372.5,674.5 378.7,671.5 384.9,669.3 391.1,676.0 397.3,665.5 403.4,632.4 409.6,638.9 415.8,658.5 422.0,661.5 428.2,646.5 434.3,631.4 440.5,648.7 446.7,648.0 452.9,654.8 459.1,642.0 465.2,652.5 471.4,636.7 477.6,638.9 483.8,643.5 490.0,622.4 496.2,642.0 502.3,620.9 508.5,607.3 514.7,626.1 520.9,631.4 527.1,627.7 533.2,615.6 539.4,618.6 545.6,618.6 551.8,614.9 558.0,611.8 564.2,629.9 570.3,612.6 576.5,613.4 582.7,615.6 588.9,617.9 595.1,608.8 601.2,602.8 607.4,600.6 613.6,601.3 619.8,604.3 626.0,587.8 632.1,560.7 638.3,577.2 644.5,573.5 650.7,570.5 656.9,566.7 663.1,570.5 669.2,558.4 675.4,570.5 681.6,573.5 687.8,552.4 694.0,558.4 700.1,541.8 706.3,533.6 712.5,531.3 718.7,536.8 724.9,512.0 731.1,515.0 737.2,507.4 743.4,531.5 749.6,525.5 755.8,515.0 762.0,508.9 768.1,519.5 774.3,530.5 780.5,527.0 786.7,501.4 792.9,508.9 799.0,528.5 805.2,475.8 811.4,484.9 817.6,488.6 823.8,503.7 830.0,457.8 836.1,421.6 842.3,439.7 848.5,430.7 854.7,402.0 860.9,355.4 867.0,307.2 873.2,328.3 879.4,344.9 885.6,343.4 891.8,326.8 898.0,316.2 904.1,349.4 910.3,343.4 916.5,327.5 922.7,305.7 928.9,308.7 935.0,298.2 941.2,303.5 947.4,292.2 953.6,281.8 959.8,314.2 965.9,285.6 972.1,285.6 978.3,282.6 984.5,273.6 990.7,278.1 996.9,278.1 1003.0,296.9 1009.2,269.8 1015.4,278.1 1021.6,281.1 1027.8,291.6 1033.9,290.1 1040.1,284.8 1046.3,293.1 1052.5,266.8 1058.7,260.8 1064.9,281.8 1071.0,263.0 1077.2,284.1 1083.4,278.8 1089.6,263.8 1095.8,268.3 1101.9,275.8 1108.1,296.1 1114.3,290.9 1120.5,311.2 1126.7,305.9 1132.8,299.1 1139.0,304.4 1145.2,297.6 1151.4,300.7 1157.6,300.7 1163.8,308.2 1169.9,309.7 1176.1,309.7 1182.3,310.3 1188.5,311.1 1194.7,322.4 1200.8,329.2 1207.0,329.9 1213.2,332.9 1219.4,351.0 1225.6,374.5 1231.8,370.8 1237.9,367.7 1244.1,380.5 1250.3,373.0 1256.5,419.7 1262.7,463.4 1268.8,477.7 1275.0,476.9 1281.2,512.3 1287.4,516.0 1293.6,511.5 1299.8,518.3 1305.9,529.8 1312.1,534.3 1318.3,523.0 1324.5,530.5 1330.7,531.3 1336.8,542.6 1343.0,551.6 1349.2,544.8 1355.4,538.8 1361.6,550.9 1367.7,559.9 1373.9,564.4 1380.1,556.1 1386.3,539.6 1392.5,562.9 1398.7,568.2 1404.8,569.7 1411.0,547.1 1417.2,553.9 1423.4,560.7 1429.6,575.7 1435.7,589.3 1441.9,595.3 1448.1,614.1 1454.3,619.4 1460.5,612.6 1466.7,614.1 1472.8,614.1 1479.0,617.1 1485.2,619.4 1491.4,614.1 1497.6,608.8 1503.7,609.6 1509.9,623.9 1516.1,646.5"/>
<polyline points="180.9,664.0 187.1,661.0 193.3,674.5 199.4,664.0 205.6,653.5 211.8,694.1 218.0,695.6 224.2,676.0 230.4,674.5 236.5,659.5 242.7,679.1 248.9,683.6 255.1,686.6 261.3,694.1 267.4,692.0 273.6,667.8 279.8,678.3 286.0,668.5 292.2,676.8 298.3,682.8 304.5,667.0 310.7,674.5 316.9,683.6 323.1,660.2 329.3,677.6 335.4,688.1 341.6,691.1 347.8,683.6 354.0,689.6 360.2,686.6 366.3,680.6 372.5,674.5 378.7,671.5 384.9,669.3 391.1,676.0 397.3,665.5 403.4,632.4 409.6,638.9 415.8,658.5 422.0,661.5 428.2,646.5 434.3,631.4 440.5,648.7 446.7,648.0 452.9,654.8 459.1,642.0 465.2,652.5 471.4,636.7 477.6,638.9 483.8,643.5 490.0,622.4 496.2,642.0 502.3,620.9 508.5,607.3 514.7,626.1 520.9,631.4 527.1,627.7 533.2,615.6 539.4,618.6 545.6,618.6 551.8,614.9 558.0,611.8 564.2,629.9 570.3,612.6 576.5,613.4 582.7,615.6 588.9,617.9 595.1,608.8 601.2,602.8 607.4,600.6 613.6,601.3 619.8,604.3 626.0,587.8 632.1,560.7 638.3,577.2 644.5,572.7 650.7,569.7 656.9,565.9 663.1,569.7 669.2,557.7 675.4,569.7 681.6,572.7 687.8,551.6 694.0,557.7 700.1,541.1 706.3,532.8 712.5,530.6 718.7,535.7 724.9,510.9 731.1,513.9 737.2,506.4 743.4,530.5 749.6,524.5 755.8,513.9 762.0,507.9 768.1,518.4 774.3,530.0 780.5,526.0 786.7,500.4 792.9,507.9 799.0,527.5 805.2,474.8 811.4,483.8 817.6,487.6 823.8,502.6 830.0,456.9 836.1,420.7 842.3,438.8 848.5,429.7 854.7,401.1 860.9,334.3 867.0,305.7 873.2,325.3 879.4,338.8 885.6,331.3 891.8,314.7 898.0,301.2 904.1,337.3 910.3,331.3 916.5,320.8 922.7,296.7 928.9,293.7 935.0,286.1 941.2,289.9 947.4,278.6 953.6,267.0 959.8,282.1 965.9,272.3 972.1,270.8 978.3,265.5 984.5,262.5 990.7,267.0 996.9,264.0 1003.0,279.1 1009.2,262.5 1015.4,264.8 1021.6,271.5 1027.8,276.8 1033.9,278.3 1040.1,272.3 1046.3,280.6 1052.5,248.9 1058.7,241.4 1064.9,261.0 1071.0,242.9 1077.2,261.0 1083.4,255.0 1089.6,241.4 1095.8,247.4 1101.9,255.0 1108.1,268.5 1114.3,269.3 1120.5,283.6 1126.7,270.0 1132.8,264.0 1139.0,273.0 1145.2,261.0 1151.4,264.0 1157.6,260.2 1163.8,273.8 1169.9,265.5 1176.1,262.5 1182.3,256.9 1188.5,263.7 1194.7,268.9 1200.8,267.4 1207.0,254.6 1213.2,271.2 1219.4,283.2 1225.6,304.3 1231.8,302.8 1237.9,284.7 1244.1,304.3 1250.3,294.5 1256.5,331.4 1262.7,352.5 1268.8,370.0 1275.0,379.8 1281.2,407.6 1287.4,428.7 1293.6,414.4 1299.8,424.2 1305.9,437.6 1312.1,455.0 1318.3,446.7 1324.5,440.7 1330.7,438.4 1336.8,455.7 1343.0,439.1 1349.2,442.2 1355.4,464.0 1361.6,464.0 1367.7,473.8 1373.9,477.5 1380.1,478.3 1386.3,473.8 1392.5,495.6 1398.7,494.1 1404.8,512.2 1411.0,486.6 1417.2,498.6 1423.4,511.4 1429.6,519.7 1435.7,528.3 1441.9,524.5 1448.1,540.3 1454.3,542.6 1460.5,535.8 1466.7,540.3 1472.8,543.3 1479.0,544.1 1485.2,553.9 1491.4,550.9 1497.6,552.4 1503.7,559.1 1509.9,556.9 1516.1,584.7"/>
<polyline points="180.9,641.0 187.1,647.0 193.3,664.3 199.4,646.7 205.6,647.4 211.8,676.3 218.0,675.6 224.2,659.5 230.4,658.7 236.5,648.2 242.7,671.5 248.9,676.8 255.1,682.1 261.3,688.1 267.4,688.8 273.6,664.0 279.8,672.3 286.0,651.2 292.2,668.5 298.3,673.0 304.5,655.0 310.7,665.5 316.9,669.3 323.1,656.5 329.3,671.5 335.4,684.3 341.6,683.6 347.8,679.1 354.0,682.8 360.2,680.6 366.3,678.3 372.5,667.0 378.7,662.5 384.9,655.0 391.1,655.0 397.3,654.2 403.4,626.4 409.6,634.7 415.8,651.0 422.0,651.7 428.2,634.7 434.3,620.4 440.5,639.7 446.7,632.9 452.9,637.4 459.1,633.7 465.2,649.0 471.4,620.1 477.6,623.9 483.8,626.9 490.0,606.1 496.2,622.7 502.3,602.1 508.5,593.0 514.7,601.3 520.9,605.8 527.1,597.5 533.2,568.2 539.4,578.7 545.6,585.5 551.8,586.2 558.0,591.5 564.2,611.1 570.3,593.0 576.5,594.5 582.7,590.8 588.9,587.8 595.1,580.2 601.2,575.0 607.4,578.7 613.6,571.2 619.8,563.7 626.0,563.7 632.1,545.6 638.3,565.2 644.5,556.9 650.7,556.1 656.9,556.9 663.1,556.9 669.2,546.4 675.4,553.1 681.6,552.4 687.8,540.3 694.0,544.9 700.1,537.3 706.3,525.3 712.5,518.5 718.7,518.0 724.9,493.9 731.1,496.9 737.2,486.4 743.4,505.9 749.6,508.9 755.8,492.4 762.0,483.4 768.1,495.4 774.3,526.0 780.5,508.9 786.7,481.8 792.9,480.3 799.0,502.9 805.2,457.8 811.4,463.0 817.6,463.8 823.8,490.9 830.0,447.2 836.1,396.8 842.3,418.6 848.5,415.6 854.7,393.0 860.9,321.5 867.0,296.7 873.2,314.0 879.4,326.0 885.6,318.5 891.8,307.2 898.0,295.2 904.1,322.3 910.3,314.7 916.5,317.0 922.7,289.1 928.9,285.4 935.0,271.8 941.2,283.1 947.4,266.6 953.6,258.0 959.8,279.1 965.9,265.5 972.1,262.5 978.3,253.5 984.5,255.7 990.7,258.7 996.9,252.0 1003.0,271.5 1009.2,250.5 1015.4,256.5 1021.6,264.8 1027.8,270.8 1033.9,272.3 1040.1,267.0 1046.3,276.0 1052.5,242.9 1058.7,236.9 1064.9,255.7 1071.0,235.4 1077.2,255.7 1083.4,249.7 1089.6,238.4 1095.8,242.9 1101.9,250.5 1108.1,263.2 1114.3,264.0 1120.5,276.8 1126.7,264.8 1132.8,258.0 1139.0,267.8 1145.2,254.2 1151.4,258.0 1157.6,251.2 1163.8,264.8 1169.9,260.2 1176.1,256.5 1182.3,246.3 1188.5,255.4 1194.7,261.4 1200.8,259.9 1207.0,250.9 1213.2,266.7 1219.4,279.5 1225.6,301.3 1231.8,299.0 1237.9,281.7 1244.1,302.1 1250.3,292.3 1256.5,329.9 1262.7,351.0 1268.8,367.7 1275.0,376.8 1281.2,405.4 1287.4,426.5 1293.6,412.9 1299.8,422.4 1305.9,433.9 1312.1,451.2 1318.3,443.7 1324.5,439.1 1330.7,436.9 1336.8,452.7 1343.0,436.9 1349.2,436.1 1355.4,461.0 1361.6,460.2 1367.7,470.8 1373.9,475.3 1380.1,477.5 1386.3,473.0 1392.5,491.1 1398.7,490.3 1404.8,511.4 1411.0,485.8 1417.2,497.9 1423.4,510.7 1429.6,518.9 1435.7,527.1 1441.9,523.3 1448.1,539.1 1454.3,541.4 1460.5,534.6 1466.7,539.1 1472.8,542.1 1479.0,542.9 1485.2,552.7 1491.4,549.7 1497.6,551.2 1503.7,557.9 1509.9,555.7 1516.1,584.7"/>
<polyline points="180.9,641.0 187.1,647.0 193.3,664.3 199.4,646.7 205.6,647.4 211.8,676.3 218.0,675.6 224.2,659.5 230.4,658.7 236.5,648.2 242.7,671.5 248.9,676.8 255.1,682.1 261.3,688.1 267.4,688.8 273.6,664.0 279.8,672.3 286.0,651.2 292.2,668.5 298.3,673.0 304.5,655.0 310.7,665.5 316.9,669.3 323.1,656.5 329.3,671.5 335.4,684.3 341.6,683.6 347.8,679.1 354.0,682.8 360.2,680.6 366.3,678.3 372.5,667.0 378.7,662.5 384.9,655.0 391.1,655.0 397.3,654.2 403.4,626.4 409.6,634.7 415.8,651.0 422.0,651.7 428.2,634.7 434.3,620.4 440.5,639.7 446.7,632.9 452.9,637.4 459.1,633.7 465.2,649.0 471.4,620.1 477.6,623.9 483.8,626.9 490.0,606.1 496.2,622.7 502.3,602.1 508.5,593.0 514.7,601.3 520.9,605.8 527.1,597.5 533.2,568.2 539.4,578.7 545.6,585.5 551.8,586.2 558.0,591.5 564.2,611.1 570.3,593.0 576.5,594.5 582.7,590.8 588.9,587.8 595.1,580.2 601.2,575.0 607.4,578.7 613.6,571.2 619.8,563.7 626.0,563.7 632.1,545.6 638.3,565.2 644.5,556.9 650.7,556.1 656.9,556.9 663.1,556.9 669.2,546.4 675.4,553.1 681.6,552.4 687.8,540.3 694.0,544.9 700.1,537.3 706.3,525.3 712.5,518.5 718.7,518.0 724.9,493.9 731.1,496.9 737.2,486.4 743.4,505.9 749.6,508.9 755.8,492.4 762.0,483.4 768.1,495.4 774.3,526.0 780.5,508.9 786.7,481.8 792.9,480.3 799.0,502.9 805.2,457.8 811.4,463.0 817.6,463.8 823.8,490.9 830.0,447.2 836.1,396.8 842.3,418.6 848.5,415.6 854.7,393.0 860.9,321.5 867.0,296.7 873.2,314.0 879.4,326.0 885.6,318.5 891.8,307.2 898.0,295.2 904.1,322.3 910.3,314.7 916.5,317.0 922.7,289.1 928.9,285.4 935.0,271.8 941.2,283.1 947.4,266.6 953.6,258.0 959.8,279.1 965.9,265.5 972.1,262.5 978.3,253.5 984.5,255.7 990.7,258.7 996.9,252.0 1003.0,271.5 1009.2,250.5 1015.4,256.5 1021.6,264.8 1027.8,270.8 1033.9,272.3 1040.1,267.0 1046.3,276.0 1052.5,242.9 1058.7,236.9 1064.9,255.7 1071.0,235.4 1077.2,255.7 1083.4,249.7 1089.6,238.4 1095.8,242.9 1101.9,250.5 1108.1,263.2 1114.3,264.0 1120.5,276.8 1126.7,264.8 1132.8,258.0 1139.0,267.8 1145.2,254.2 1151.4,258.0 1157.6,251.2 1163.8,264.8 1169.9,260.2 1176.1,256.5 1182.3,246.3 1188.5,255.4 1194.7,261.4 1200.8,259.9 1207.0,250.9 1213.2,266.7 1219.4,279.5 1225.6,301.3 1231.8,299.0 1237.9,281.7 1244.1,302.1 1250.3,292.3 1256.5,329.9 1262.7,351.0 1268.8,367.7 1275.0,376.8 1281.2,405.4 1287.4,426.5 1293.6,412.9 1299.8,419.6 1305.9,433.9 1312.1,451.2 1318.3,443.7 1324.5,439.1 1330.7,436.9 1336.8,452.7 1343.0,433.1 1349.2,432.4 1355.4,454.2 1361.6,453.5 1367.7,458.7 1373.9,460.2 1380.1,458.7 1386.3,453.5 1392.5,458.0 1398.7,458.7 1404.8,475.3 1411.0,440.7 1417.2,446.7 1423.4,451.2 1429.6,455.7 1435.7,460.2 1441.9,451.9 1448.1,426.3 1454.3,401.0 1460.5,379.2 1466.7,373.9 1472.8,369.4 1479.0,333.2 1485.2,315.2 1491.4,291.1 1497.6,277.5 1503.7,264.5 1509.9,230.7 1516.1,248.0"/>
<polyline points="180.9,640.7 187.1,646.7 193.3,664.0 199.4,644.4 205.6,646.7 211.8,676.0 218.0,675.3 224.2,658.0 230.4,658.0 236.5,647.4 242.7,668.5 248.9,673.0 255.1,679.1 261.3,685.1 267.4,686.6 273.6,662.5 279.8,671.5 286.0,650.5 292.2,667.0 298.3,668.5 304.5,648.9 310.7,662.5 316.9,667.0 323.1,653.5 329.3,668.5 335.4,680.6 341.6,681.3 347.8,677.6 354.0,680.6 360.2,678.3 366.3,676.0 372.5,664.0 378.7,659.5 384.9,652.7 391.1,652.7 397.3,651.2 403.4,623.4 409.6,634.4 415.8,648.7 422.0,649.5 428.2,634.4 434.3,620.1 440.5,638.9 446.7,631.4 452.9,635.9 459.1,632.9 465.2,648.7 471.4,618.6 477.6,622.4 483.8,625.4 490.0,605.8 496.2,622.4 502.3,601.3 508.5,592.3 514.7,598.3 520.9,598.3 527.1,595.3 533.2,565.2 539.4,574.2 545.6,580.2 551.8,582.5 558.0,589.3 564.2,610.3 570.3,589.3 576.5,590.8 582.7,586.2 588.9,582.5 595.1,574.2 601.2,571.2 607.4,571.2 613.6,564.4 619.8,557.6 626.0,556.1 632.1,539.6 638.3,562.9 644.5,550.9 650.7,553.9 656.9,553.9 663.1,552.4 669.2,542.6 675.4,549.4 681.6,547.9 687.8,537.3 694.0,540.3 700.1,531.3 706.3,520.8 712.5,511.7 718.7,516.5 724.9,489.4 731.1,493.9 737.2,481.8 743.4,502.9 749.6,505.9 755.8,489.4 762.0,477.3 768.1,492.4 774.3,525.5 780.5,505.9 786.7,477.3 792.9,468.3 799.0,499.9 805.2,454.7 811.4,460.8 817.6,436.7 823.8,489.4 830.0,445.7 836.1,395.3 842.3,412.6 848.5,412.6 854.7,391.5 860.9,320.8 867.0,295.2 873.2,313.2 879.4,325.3 885.6,316.2 891.8,304.2 898.0,293.7 904.1,320.8 910.3,287.6 916.5,316.2 922.7,277.1 928.9,282.4 935.0,254.5 941.2,262.0 947.4,260.5 953.6,241.4 959.8,274.5 965.9,261.0 972.1,248.9 978.3,237.7 984.5,252.0 990.7,242.9 996.9,238.4 1003.0,269.3 1009.2,245.9 1015.4,251.2 1021.6,258.7 1027.8,269.3 1033.9,270.8 1040.1,264.8 1046.3,273.0 1052.5,237.7 1058.7,230.9 1064.9,252.0 1071.0,226.4 1077.2,252.0 1083.4,238.4 1089.6,228.6 1095.8,231.6 1101.9,229.4 1108.1,254.2 1114.3,252.0 1120.5,264.8 1126.7,250.5 1132.8,242.9 1139.0,248.2 1145.2,241.4 1151.4,238.4 1157.6,240.7 1163.8,249.7 1169.9,242.9 1176.1,232.4 1182.3,232.8 1188.5,242.6 1194.7,252.4 1200.8,244.8 1207.0,242.6 1213.2,256.1 1219.4,269.7 1225.6,293.8 1231.8,284.0 1237.9,271.9 1244.1,294.5 1250.3,285.5 1256.5,322.4 1262.7,340.5 1268.8,354.0 1275.0,364.0 1281.2,380.5 1287.4,407.6 1293.6,396.3 1299.8,407.6 1305.9,419.6 1312.1,433.1 1318.3,416.6 1324.5,413.6 1330.7,409.8 1336.8,436.1 1343.0,414.3 1349.2,412.8 1355.4,424.8 1361.6,415.8 1367.7,434.6 1373.9,441.4 1380.1,433.1 1386.3,423.3 1392.5,436.1 1398.7,436.1 1404.8,454.2 1411.0,424.1 1417.2,434.6 1423.4,439.1 1429.6,443.7 1435.7,446.7 1441.9,442.2 1448.1,420.6 1454.3,388.9 1460.5,367.1 1466.7,361.8 1472.8,359.6 1479.0,330.2 1485.2,312.9 1491.4,289.6 1497.6,276.8 1503.7,261.5 1509.9,222.4 1516.1,231.4"/>
<polyline points="180.9,615.8 187.1,618.8 193.3,624.1 199.4,631.6 205.6,626.4 211.8,648.9 218.0,658.0 224.2,638.4 230.4,641.4 236.5,627.9 242.7,658.0 248.9,653.5 255.1,650.5 261.3,656.5 267.4,652.0 273.6,630.9 279.8,644.4 286.0,628.6 292.2,644.4 298.3,655.0 304.5,621.8 310.7,636.9 316.9,629.4 323.1,615.8 329.3,627.9 335.4,640.7 341.6,579.7 347.8,597.8 354.0,644.4 360.2,638.4 366.3,620.3 372.5,614.3 378.7,615.1 384.9,618.8 391.1,614.3 397.3,620.3 403.4,569.1 409.6,586.2 415.8,623.9 422.0,622.4 428.2,610.3 434.3,586.2 440.5,606.6 446.7,601.3 452.9,600.6 459.1,596.8 465.2,604.3 471.4,538.8 477.6,581.7 483.8,580.2 490.0,578.0 496.2,589.3 502.3,556.1 508.5,546.3 514.7,536.6 520.9,553.9 527.1,553.9 533.2,535.1 539.4,544.1 545.6,551.6 551.8,552.4 558.0,489.1 564.2,526.0 570.3,522.3 576.5,551.6 582.7,552.4 588.9,523.0 595.1,511.0 601.2,524.5 607.4,521.5 613.6,522.3 619.8,515.5 626.0,514.0 632.1,485.4 638.3,520.0 644.5,493.7 650.7,528.3 656.9,507.2 663.1,493.7 669.2,482.4 675.4,480.1 681.6,493.7 687.8,502.7 694.0,504.2 700.1,493.7 706.3,480.1 712.5,471.1 718.7,456.2 724.9,430.7 731.1,447.2 737.2,435.2 743.4,463.8 749.6,478.8 755.8,460.8 762.0,444.2 768.1,454.7 774.3,495.4 780.5,480.3 786.7,462.3 792.9,442.7 799.0,456.2 805.2,418.6 811.4,426.1 817.6,412.6 823.8,462.3 830.0,352.4 836.1,346.7 842.3,377.5 848.5,370.8 854.7,330.1 860.9,295.2 867.0,276.3 873.2,289.9 879.4,302.7 885.6,285.4 891.8,280.3 898.0,273.8 904.1,299.7 910.3,269.6 916.5,271.1 922.7,253.0 928.9,243.4 935.0,229.3 941.2,227.3 947.4,233.9 953.6,215.8 959.8,245.9 965.9,235.4 972.1,226.4 978.3,218.8 984.5,224.1 990.7,220.3 996.9,218.8 1003.0,245.9 1009.2,233.1 1015.4,241.4 1021.6,248.9 1027.8,255.0 1033.9,250.5 1040.1,242.2 1046.3,248.9 1052.5,219.6 1058.7,214.3 1064.9,226.4 1071.0,206.8 1077.2,225.6 1083.4,222.6 1089.6,212.8 1095.8,215.8 1101.9,215.8 1108.1,234.6 1114.3,239.9 1120.5,248.9 1126.7,235.4 1132.8,227.9 1139.0,233.1 1145.2,224.1 1151.4,223.4 1157.6,221.1 1163.8,229.4 1169.9,223.4 1176.1,215.8 1182.3,219.2 1188.5,221.5 1194.7,230.5 1200.8,226.8 1207.0,223.0 1213.2,239.6 1219.4,251.6 1225.6,265.2 1231.8,259.9 1237.9,247.1 1244.1,260.7 1250.3,256.1 1256.5,292.3 1262.7,316.4 1268.8,329.9 1275.0,345.0 1281.2,365.5 1287.4,382.0 1293.6,372.3 1299.8,384.8 1305.9,384.4 1312.1,409.3 1318.3,392.0 1324.5,385.9 1330.7,382.2 1336.8,408.5 1343.0,389.7 1349.2,385.9 1355.4,400.2 1361.6,392.7 1367.7,395.0 1373.9,402.5 1380.1,405.5 1386.3,392.0 1392.5,405.5 1398.7,412.3 1404.8,428.8 1411.0,395.0 1417.2,404.0 1423.4,413.0 1429.6,412.3 1435.7,419.8 1441.9,409.3 1448.1,370.9 1454.3,363.4 1460.5,337.8 1466.7,335.5 1472.8,331.7 1479.0,302.4 1485.2,291.1 1491.4,269.2 1497.6,250.2 1503.7,228.4 1509.9,205.1 1516.1,220.9"/>
<polyline points="180.9,614.9 187.1,617.9 193.3,622.9 199.4,627.7 205.6,623.4 211.8,648.3 218.0,657.4 224.2,634.8 230.4,637.2 236.5,625.5 242.7,654.4 248.9,651.1 255.1,648.6 261.3,655.3 267.4,651.4 273.6,630.3 279.8,643.8 286.0,626.8 292.2,642.0 298.3,652.6 304.5,620.9 310.7,633.3 316.9,628.2 323.1,614.6 329.3,627.0 335.4,639.8 341.6,579.4 347.8,597.5 354.0,643.2 360.2,636.6 366.3,619.1 372.5,612.2 378.7,611.8 384.9,616.4 391.1,611.9 397.3,619.1 403.4,568.8 409.6,585.5 415.8,620.9 422.0,619.4 428.2,608.8 434.3,585.5 440.5,603.2 446.7,597.5 452.9,596.4 459.1,596.0 465.2,603.6 471.4,538.4 477.6,579.5 483.8,576.5 490.0,575.3 496.2,587.8 502.3,551.6 508.5,545.2 514.7,533.9 520.9,548.2 527.1,548.6 533.2,530.9 539.4,536.9 545.6,545.6 551.8,549.0 558.0,488.4 564.2,524.5 570.3,521.1 576.5,547.1 582.7,547.9 588.9,521.5 595.1,506.5 601.2,520.0 607.4,519.3 613.6,520.0 619.8,511.0 626.0,510.2 632.1,480.9 638.3,517.8 644.5,489.9 650.7,526.8 656.9,505.0 663.1,490.7 669.2,479.4 675.4,477.9 681.6,491.0 687.8,500.4 694.0,501.9 700.1,491.4 706.3,476.3 712.5,467.7 718.7,450.2 724.9,424.6 731.1,441.2 737.2,429.1 743.4,457.8 749.6,468.3 755.8,454.7 762.0,435.2 768.1,448.7 774.3,489.4 780.5,474.3 786.7,454.7 792.9,436.7 799.0,450.2 805.2,409.6 811.4,418.6 817.6,405.1 823.8,456.2 830.0,341.8 836.1,312.8 842.3,367.0 848.5,358.7 854.7,324.8 860.9,265.1 867.0,254.5 873.2,266.6 879.4,280.1 885.6,272.6 891.8,265.1 898.0,256.0 904.1,274.1 910.3,250.0 916.5,238.3 922.7,229.3 928.9,227.3 935.0,218.3 941.2,209.2 947.4,209.8 953.6,194.7 959.8,227.9 965.9,217.3 972.1,206.8 978.3,196.2 984.5,200.0 990.7,198.5 996.9,197.8 1003.0,227.9 1009.2,202.3 1015.4,202.3 1021.6,216.6 1027.8,222.6 1033.9,209.8 1040.1,212.1 1046.3,231.6 1052.5,198.5 1058.7,197.0 1064.9,204.5 1071.0,185.7 1077.2,207.5 1083.4,196.2 1089.6,188.0 1095.8,193.2 1101.9,190.2 1108.1,213.6 1114.3,212.8 1120.5,221.8 1126.7,207.5 1132.8,194.7 1139.0,206.8 1145.2,202.3 1151.4,196.2 1157.6,198.5 1163.8,204.5 1169.9,209.0 1176.1,193.2 1182.3,186.7 1188.5,194.2 1194.7,192.7 1200.8,190.7 1207.0,197.3 1213.2,211.0 1219.4,219.2 1225.6,242.6 1231.8,238.1 1237.9,225.3 1244.1,239.6 1250.3,236.6 1256.5,271.2 1262.7,296.8 1268.8,305.1 1275.0,313.4 1281.2,336.7 1287.4,357.0 1293.6,349.5 1299.8,361.8 1305.9,360.3 1312.1,385.9 1318.3,367.9 1324.5,362.6 1330.7,364.9 1336.8,386.7 1343.0,362.6 1349.2,361.1 1355.4,380.7 1361.6,372.4 1367.7,373.1 1373.9,374.6 1380.1,376.9 1386.3,363.4 1392.5,385.9 1398.7,390.5 1404.8,407.8 1411.0,362.6 1417.2,376.9 1423.4,390.5 1429.6,388.9 1435.7,398.0 1441.9,386.7 1448.1,358.8 1454.3,342.3 1460.5,314.4 1466.7,313.7 1472.8,309.1 1479.0,281.3 1485.2,264.0 1491.4,240.5 1497.6,234.4 1503.7,210.3 1509.9,186.2 1516.1,202.1"/>
<polyline points="180.9,613.6 187.1,616.6 193.3,621.1 199.4,621.8 205.6,618.8 211.8,647.4 218.0,656.5 224.2,629.4 230.4,630.9 236.5,621.8 242.7,648.9 248.9,647.4 255.1,645.9 261.3,653.5 267.4,650.5 273.6,629.4 279.8,642.9 286.0,624.1 292.2,638.4 298.3,648.9 304.5,619.6 310.7,627.9 316.9,626.4 323.1,612.8 329.3,625.6 335.4,638.4 341.6,578.9 347.8,597.0 354.0,641.4 360.2,633.9 366.3,617.3 372.5,609.0 378.7,606.8 384.9,612.8 391.1,608.3 397.3,617.3 403.4,568.4 409.6,584.7 415.8,617.9 422.0,616.4 428.2,607.3 434.3,584.7 440.5,599.8 446.7,593.8 452.9,592.3 459.1,595.3 465.2,602.8 471.4,538.1 477.6,577.2 483.8,572.7 490.0,572.7 496.2,586.2 502.3,547.1 508.5,544.1 514.7,531.3 520.9,542.6 527.1,543.3 533.2,526.8 539.4,529.8 545.6,539.6 551.8,545.6 558.0,487.6 564.2,523.0 570.3,520.0 576.5,542.6 582.7,543.3 588.9,520.0 595.1,501.2 601.2,514.8 607.4,516.3 613.6,517.0 619.8,505.0 626.0,505.7 632.1,475.6 638.3,514.8 644.5,486.1 650.7,525.3 656.9,502.7 663.1,487.6 669.2,476.3 675.4,475.6 681.6,488.4 687.8,498.2 694.0,499.7 700.1,489.1 706.3,472.6 712.5,464.3 718.7,447.2 724.9,420.1 731.1,435.2 737.2,423.9 743.4,454.0 749.6,460.8 755.8,448.7 762.0,427.6 768.1,444.2 774.3,486.4 780.5,469.8 786.7,450.2 792.9,434.4 799.0,447.2 805.2,403.6 811.4,412.6 817.6,399.0 823.8,453.2 830.0,340.3 836.1,308.3 842.3,363.2 848.5,351.9 854.7,321.1 860.9,265.1 867.0,244.4 873.2,256.2 879.4,268.3 885.6,259.3 891.8,244.2 898.0,228.3 904.1,248.4 910.3,233.3 916.5,211.2 922.7,218.3 928.9,207.2 935.0,197.2 941.2,198.2 947.4,199.3 953.6,170.7 959.8,211.3 965.9,190.2 972.1,178.9 978.3,172.9 984.5,170.7 990.7,166.1 996.9,167.6 1003.0,182.7 1009.2,169.1 1015.4,185.0 1021.6,197.0 1027.8,200.8 1033.9,181.9 1040.1,178.2 1046.3,191.7 1052.5,159.4 1058.7,166.1 1064.9,161.6 1071.0,154.1 1077.2,166.9 1083.4,168.4 1089.6,157.9 1095.8,163.9 1101.9,165.4 1108.1,185.0 1114.3,169.1 1120.5,179.7 1126.7,169.9 1132.8,167.6 1139.0,167.6 1145.2,166.9 1151.4,167.6 1157.6,166.1 1163.8,176.7 1169.9,178.2 1176.1,163.9 1182.3,150.1 1188.5,156.6 1194.7,162.1 1200.8,164.6 1207.0,158.6 1213.2,174.2 1219.4,183.2 1225.6,215.8 1231.8,207.3 1237.9,199.3 1244.1,200.8 1250.3,199.8 1256.5,222.0 1262.7,256.9 1268.8,271.2 1275.0,262.2 1281.2,299.8 1287.4,320.1 1293.6,310.3 1299.8,323.9 1305.9,328.4 1312.1,352.5 1318.3,320.9 1324.5,295.3 1330.7,298.3 1336.8,323.9 1343.0,295.3 1349.2,291.5 1355.4,317.9 1361.6,310.3 1367.7,332.9 1373.9,326.1 1380.1,319.4 1386.3,331.4 1392.5,336.7 1398.7,344.2 1404.8,352.5 1411.0,328.4 1417.2,342.3 1423.4,354.3 1429.6,357.3 1435.7,357.3 1441.9,358.1 1448.1,330.2 1454.3,303.1 1460.5,282.8 1466.7,279.0 1472.8,273.0 1479.0,245.0 1485.2,231.4 1491.4,198.3 1497.6,190.8 1503.7,171.9 1509.9,154.6 1516.1,171.9"/>
<polyline points="180.9,596.2 187.1,605.3 193.3,598.5 199.4,600.8 205.6,606.8 211.8,626.4 218.0,633.9 224.2,606.8 230.4,575.2 236.5,602.3 242.7,632.4 248.9,624.9 255.1,618.1 261.3,639.9 267.4,626.4 273.6,618.8 279.8,583.5 286.0,591.0 292.2,582.7 298.3,599.3 304.5,534.5 310.7,606.8 316.9,560.1 323.1,574.4 329.3,581.2 335.4,588.7 341.6,536.8 347.8,548.8 354.0,560.1 360.2,556.3 366.3,533.0 372.5,539.0 378.7,557.1 384.9,564.6 391.1,569.9 397.3,583.5 403.4,549.6 409.6,560.7 415.8,550.9 422.0,547.9 428.2,537.3 434.3,538.1 440.5,549.4 446.7,542.6 452.9,550.1 459.1,533.6 465.2,487.7 471.4,500.5 477.6,523.0 483.8,508.7 490.0,526.8 496.2,529.8 502.3,515.5 508.5,503.5 514.7,501.2 520.9,508.0 527.1,498.9 533.2,490.7 539.4,494.4 545.6,505.7 551.8,502.7 558.0,448.5 564.2,474.9 570.3,454.5 576.5,474.1 582.7,475.6 588.9,474.1 595.1,447.8 601.2,470.3 607.4,453.0 613.6,483.9 619.8,465.1 626.0,464.3 632.1,447.0 638.3,471.8 644.5,447.4 650.7,476.8 656.9,453.5 663.1,452.7 669.2,432.4 675.4,448.9 681.6,419.6 687.8,439.9 694.0,459.5 700.1,445.9 706.3,433.9 712.5,432.4 718.7,393.2 724.9,346.6 731.1,409.8 737.2,364.6 743.4,420.1 749.6,424.6 755.8,402.0 762.0,411.1 768.1,429.1 774.3,450.2 780.5,439.7 786.7,426.1 792.9,421.6 799.0,420.1 805.2,391.5 811.4,397.5 817.6,385.5 823.8,420.1 830.0,325.3 836.1,293.7 842.3,326.7 848.5,318.1 854.7,284.9 860.9,258.0 867.0,232.3 873.2,240.3 879.4,249.4 885.6,243.4 891.8,227.3 898.0,206.2 904.1,236.3 910.3,224.3 916.5,207.7 922.7,212.2 928.9,200.2 935.0,191.2 941.2,194.2 947.4,194.7 953.6,169.4 959.8,210.1 965.9,189.0 972.1,177.9 978.3,171.9 984.5,169.4 990.7,160.9 996.9,166.6 1003.0,181.6 1009.2,168.1 1015.4,183.9 1021.6,195.9 1027.8,199.6 1033.9,178.9 1040.1,175.2 1046.3,190.7 1052.5,158.3 1058.7,165.1 1064.9,160.6 1071.0,153.0 1077.2,165.4 1083.4,165.8 1089.6,156.8 1095.8,161.6 1101.9,164.3 1108.1,183.9 1114.3,168.1 1120.5,178.6 1126.7,168.8 1132.8,166.6 1139.0,166.6 1145.2,165.8 1151.4,166.6 1157.6,165.1 1163.8,175.6 1169.9,175.2 1176.1,162.8 1182.3,149.6 1188.5,155.6 1194.7,160.1 1200.8,162.6 1207.0,157.1 1213.2,172.7 1219.4,181.7 1225.6,210.8 1231.8,204.3 1237.9,196.2 1244.1,199.3 1250.3,198.3 1256.5,221.0 1262.7,255.8 1268.8,270.1 1275.0,261.1 1281.2,298.7 1287.4,319.1 1293.6,309.3 1299.8,322.8 1305.9,327.4 1312.1,351.4 1318.3,319.8 1324.5,294.2 1330.7,297.2 1336.8,322.8 1343.0,294.2 1349.2,290.5 1355.4,316.8 1361.6,309.3 1367.7,331.9 1373.9,325.1 1380.1,318.3 1386.3,330.4 1392.5,335.6 1398.7,343.2 1404.8,351.4 1411.0,327.4 1417.2,341.4 1423.4,353.4 1429.6,356.4 1435.7,356.4 1441.9,357.2 1448.1,329.3 1454.3,302.2 1460.5,281.9 1466.7,278.1 1472.8,272.1 1479.0,244.2 1485.2,230.7 1491.4,197.8 1497.6,190.3 1503.7,171.6 1509.9,154.3 1516.1,171.6"/>
<polyline points="180.9,565.4 187.1,582.7 193.3,573.7 199.4,578.2 205.6,572.2 211.8,578.2 218.0,597.0 224.2,571.4 230.4,536.8 236.5,554.8 242.7,585.7 248.9,573.7 255.1,562.4 261.3,559.4 267.4,563.9 273.6,576.7 279.8,545.8 286.0,555.6 292.2,508.2 298.3,542.0 304.5,495.4 310.7,571.4 316.9,514.9 323.1,540.5 329.3,548.1 335.4,554.8 341.6,513.5 347.8,518.0 354.0,523.2 360.2,524.0 366.3,496.9 372.5,507.4 378.7,521.0 384.9,533.0 391.1,528.5 397.3,526.3 403.4,525.5 409.6,529.1 415.8,511.0 422.0,492.2 428.2,512.5 434.3,508.0 440.5,529.1 446.7,518.5 452.9,526.0 459.1,498.9 465.2,461.3 471.4,473.4 477.6,486.9 483.8,485.4 490.0,508.0 496.2,485.4 502.3,471.1 508.5,477.1 514.7,474.1 520.9,476.4 527.1,468.8 533.2,460.6 539.4,462.1 545.6,468.8 551.8,464.3 558.0,420.7 564.2,446.2 570.3,428.2 576.5,437.2 582.7,441.7 588.9,446.2 595.1,409.4 601.2,432.7 607.4,421.4 613.6,429.7 619.8,424.4 626.0,414.6 632.1,416.9 638.3,434.2 644.5,420.3 650.7,414.3 656.9,381.9 663.1,405.3 669.2,387.2 675.4,406.8 681.6,391.7 687.8,364.6 694.0,390.2 700.1,382.7 706.3,374.4 712.5,388.0 718.7,370.5 724.9,322.3 731.1,375.0 737.2,334.3 743.4,399.0 749.6,394.5 755.8,378.0 762.0,390.0 768.1,405.1 774.3,426.1 780.5,412.6 786.7,405.1 792.9,400.5 799.0,409.6 805.2,350.1 811.4,359.9 817.6,349.4 823.8,412.0 830.0,310.2 836.1,274.1 842.3,302.7 848.5,290.4 854.7,253.0 860.9,250.4 867.0,213.2 873.2,223.8 879.4,234.3 885.6,238.3 891.8,215.2 898.0,188.6 904.1,219.3 910.3,206.2 916.5,189.6 922.7,199.2 928.9,185.1 935.0,170.6 941.2,180.1 947.4,191.7 953.6,158.6 959.8,191.7 965.9,175.9 972.1,156.3 978.3,157.1 984.5,157.9 990.7,143.6 996.9,146.6 1003.0,165.4 1009.2,160.1 1015.4,173.7 1021.6,181.2 1027.8,188.0 1033.9,173.7 1040.1,169.9 1046.3,179.7 1052.5,151.1 1058.7,154.1 1064.9,147.3 1071.0,139.8 1077.2,153.3 1083.4,151.8 1089.6,146.6 1095.8,151.8 1101.9,151.1 1108.1,166.9 1114.3,151.1 1120.5,161.6 1126.7,151.1 1132.8,149.6 1139.0,151.8 1145.2,151.1 1151.4,152.6 1157.6,145.1 1163.8,154.8 1169.9,157.1 1176.1,143.6 1182.3,135.5 1188.5,141.5 1194.7,138.5 1200.8,144.1 1207.0,139.5 1213.2,153.6 1219.4,156.6 1225.6,196.8 1231.8,184.7 1237.9,176.2 1244.1,181.7 1250.3,182.7 1256.5,211.0 1262.7,236.6 1268.8,248.6 1275.0,241.8 1281.2,274.2 1287.4,294.5 1293.6,284.7 1299.8,298.3 1305.9,302.8 1312.1,320.9 1318.3,298.3 1324.5,276.5 1330.7,280.2 1336.8,302.1 1343.0,269.7 1349.2,274.2 1355.4,293.8 1361.6,277.2 1367.7,308.8 1373.9,309.6 1380.1,296.8 1386.3,308.8 1392.5,317.9 1398.7,328.4 1404.8,336.7 1411.0,310.3 1417.2,320.1 1423.4,321.9 1429.6,336.2 1435.7,337.8 1441.9,338.5 1448.1,310.7 1454.3,278.7 1460.5,259.3 1466.7,254.8 1472.8,245.0 1479.0,223.9 1485.2,204.3 1491.4,179.5 1497.6,166.7 1503.7,153.9 1509.9,136.6 1516.1,151.6"/>
<polyline points="180.9,564.7 187.1,582.0 193.3,570.1 199.4,576.4 205.6,570.7 211.8,577.1 218.0,596.3 224.2,570.7 230.4,535.7 236.5,553.4 242.7,584.7 248.9,572.6 255.1,560.6 261.3,557.6 267.4,562.4 273.6,575.6 279.8,544.8 286.0,553.8 292.2,506.7 298.3,541.0 304.5,493.6 310.7,570.7 316.9,513.5 323.1,538.7 329.3,542.2 335.4,547.5 341.6,505.2 347.8,506.7 354.0,513.5 360.2,514.2 366.3,490.1 372.5,499.9 378.7,513.5 384.9,523.2 391.1,522.5 397.3,519.5 403.4,518.0 409.6,521.5 415.8,505.0 422.0,491.4 428.2,502.7 434.3,493.7 440.5,508.7 446.7,499.7 452.9,500.5 459.1,485.4 465.2,452.3 471.4,466.6 477.6,470.3 483.8,477.1 490.0,495.2 496.2,483.1 502.3,467.3 508.5,466.6 514.7,469.6 520.9,466.6 527.1,462.1 533.2,453.0 539.4,453.0 545.6,459.8 551.8,450.8 558.0,404.8 564.2,425.9 570.3,418.4 576.5,412.4 582.7,407.1 588.9,438.0 595.1,401.1 601.2,414.6 607.4,408.6 613.6,407.9 619.8,409.4 626.0,398.8 632.1,397.3 638.3,416.9 644.5,395.5 650.7,375.2 656.9,350.3 663.1,381.9 669.2,370.7 675.4,391.0 681.6,358.6 687.8,333.0 694.0,362.4 700.1,356.3 706.3,349.6 712.5,345.1 718.7,328.3 724.9,305.7 731.1,340.3 737.2,307.2 743.4,347.9 749.6,379.5 755.8,353.1 762.0,379.5 768.1,374.2 774.3,417.1 780.5,399.0 786.7,390.0 792.9,377.2 799.0,396.0 805.2,323.0 811.4,336.6 817.6,325.3 823.8,364.4 830.0,295.2 836.1,254.5 842.3,292.9 848.5,278.3 854.7,250.0 860.9,246.4 867.0,206.2 873.2,216.2 879.4,225.8 885.6,209.2 891.8,194.2 898.0,180.1 904.1,210.2 910.3,190.2 916.5,170.1 922.7,173.6 928.9,171.6 935.0,155.0 941.2,163.0 947.4,169.9 953.6,145.8 959.8,171.4 965.9,161.6 972.1,142.8 978.3,142.0 984.5,145.1 990.7,135.3 996.9,137.5 1003.0,149.6 1009.2,145.1 1015.4,163.9 1021.6,166.9 1027.8,176.7 1033.9,158.6 1040.1,151.1 1046.3,161.6 1052.5,137.5 1058.7,135.3 1064.9,136.8 1071.0,123.8 1077.2,132.3 1083.4,142.4 1089.6,128.8 1095.8,129.3 1101.9,133.9 1108.1,145.4 1114.3,132.3 1120.5,144.4 1126.7,134.9 1132.8,139.4 1139.0,133.4 1145.2,135.9 1151.4,138.4 1157.6,130.8 1163.8,138.1 1169.9,140.4 1176.1,126.3 1182.3,126.3 1188.5,133.0 1194.7,127.0 1200.8,137.0 1207.0,125.0 1213.2,139.5 1219.4,138.5 1225.6,182.2 1231.8,170.2 1237.9,164.1 1244.1,169.1 1250.3,174.2 1256.5,207.0 1262.7,229.0 1268.8,239.6 1275.0,230.5 1281.2,259.1 1287.4,280.2 1293.6,276.5 1299.8,286.2 1305.9,290.8 1312.1,311.8 1318.3,290.8 1324.5,265.9 1330.7,268.2 1336.8,298.3 1343.0,260.7 1349.2,271.9 1355.4,290.8 1361.6,268.2 1367.7,307.3 1373.9,308.1 1380.1,296.0 1386.3,305.8 1392.5,313.4 1398.7,323.9 1404.8,334.4 1411.0,308.8 1417.2,314.1 1423.4,318.2 1429.6,330.2 1435.7,333.2 1441.9,333.2 1448.1,306.1 1454.3,276.6 1460.5,254.8 1466.7,250.2 1472.8,237.4 1479.0,217.9 1485.2,198.3 1491.4,172.7 1497.6,160.7 1503.7,149.4 1509.9,129.0 1516.1,147.9"/>
<polyline points="180.9,564.7 187.1,582.0 193.3,570.1 199.4,576.4 205.6,570.7 211.8,577.1 218.0,596.3 224.2,570.7 230.4,535.7 236.5,553.4 242.7,584.7 248.9,572.6 255.1,560.6 261.3,557.6 267.4,562.4 273.6,575.6 279.8,544.8 286.0,553.8 292.2,506.7 298.3,541.0 304.5,493.6 310.7,570.7 316.9,513.5 323.1,538.7 329.3,542.2 335.4,547.5 341.6,505.2 347.8,506.7 354.0,513.5 360.2,514.2 366.3,490.1 372.5,499.9 378.7,513.5 384.9,523.2 391.1,522.5 397.3,519.5 403.4,518.0 409.6,521.5 415.8,505.0 422.0,491.4 428.2,502.7 434.3,493.7 440.5,508.7 446.7,499.7 452.9,500.5 459.1,485.4 465.2,452.3 471.4,466.6 477.6,470.3 483.8,477.1 490.0,495.2 496.2,483.1 502.3,467.3 508.5,466.6 514.7,469.6 520.9,466.6 527.1,462.1 533.2,453.0 539.4,453.0 545.6,459.8 551.8,450.8 558.0,404.8 564.2,425.9 570.3,418.4 576.5,412.4 582.7,407.1 588.9,438.0 595.1,401.1 601.2,414.6 607.4,408.6 613.6,407.9 619.8,409.4 626.0,398.8 632.1,397.3 638.3,416.9 644.5,395.5 650.7,375.2 656.9,350.3 663.1,381.9 669.2,370.7 675.4,391.0 681.6,358.6 687.8,333.0 694.0,362.4 700.1,356.3 706.3,349.6 712.5,345.1 718.7,328.3 724.9,305.7 731.1,340.3 737.2,307.2 743.4,347.9 749.6,379.5 755.8,353.1 762.0,379.5 768.1,374.2 774.3,417.1 780.5,399.0 786.7,390.0 792.9,377.2 799.0,396.0 805.2,323.0 811.4,336.6 817.6,325.3 823.8,364.4 830.0,295.2 836.1,254.5 842.3,292.9 848.5,278.3 854.7,250.0 860.9,246.4 867.0,206.2 873.2,216.2 879.4,225.8 885.6,209.2 891.8,194.2 898.0,180.1 904.1,210.2 910.3,190.2 916.5,170.1 922.7,173.6 928.9,171.6 935.0,155.0 941.2,163.0 947.4,169.9 953.6,145.8 959.8,171.4 965.9,161.6 972.1,142.8 978.3,142.0 984.5,145.1 990.7,135.3 996.9,137.5 1003.0,149.6 1009.2,145.1 1015.4,163.9 1021.6,166.9 1027.8,176.7 1033.9,158.6 1040.1,151.1 1046.3,161.6 1052.5,137.5 1058.7,135.3 1064.9,136.8 1071.0,123.8 1077.2,132.3 1083.4,142.4 1089.6,128.8 1095.8,129.3 1101.9,133.9 1108.1,145.4 1114.3,132.3 1120.5,144.4 1126.7,134.9 1132.8,139.4 1139.0,133.4 1145.2,135.9 1151.4,138.4 1157.6,130.8 1163.8,138.1 1169.9,140.4 1176.1,126.3 1182.3,126.3 1188.5,133.0 1194.7,127.0 1200.8,137.0 1207.0,125.0 1213.2,137.5 1219.4,138.5 1225.6,179.2 1231.8,169.6 1237.9,161.1 1244.1,165.6 1250.3,170.7 1256.5,204.0 1262.7,228.3 1268.8,236.6 1275.0,226.8 1281.2,250.1 1287.4,265.2 1293.6,258.4 1299.8,266.3 1305.9,264.5 1312.1,277.3 1318.3,241.2 1324.5,209.6 1330.7,194.5 1336.8,201.3 1343.0,165.9 1349.2,163.7 1355.4,165.2 1361.6,148.6 1367.7,161.4 1373.9,144.1 1380.1,125.8 1386.3,127.8 1392.5,139.4 1398.7,134.4 1404.8,124.8 1411.0,119.8 1417.2,114.8 1423.4,109.8 1429.6,116.8 1435.7,127.3 1441.9,127.8 1448.1,128.8 1454.3,117.3 1460.5,114.3 1466.7,114.8 1472.8,109.3 1479.0,115.8 1485.2,108.8 1491.4,95.2 1497.6,88.7 1503.7,84.7 1509.9,83.7 1516.1,95.2"/>
<polyline points="180.9,564.6 187.1,581.9 193.3,569.1 199.4,575.2 205.6,569.9 211.8,576.7 218.0,596.2 224.2,570.7 230.4,535.3 236.5,552.6 242.7,584.2 248.9,572.2 255.1,559.4 261.3,556.3 267.4,561.6 273.6,575.2 279.8,544.3 286.0,552.6 292.2,505.9 298.3,540.5 304.5,492.4 310.7,570.7 316.9,512.7 323.1,537.5 329.3,541.3 335.4,546.6 341.6,502.2 347.8,503.7 354.0,511.2 360.2,512.0 366.3,487.9 372.5,493.9 378.7,502.9 384.9,505.2 391.1,516.5 397.3,504.4 403.4,508.9 409.6,512.5 415.8,500.5 422.0,484.6 428.2,500.5 434.3,492.2 440.5,506.5 446.7,492.9 452.9,498.9 459.1,483.9 465.2,450.8 471.4,459.8 477.6,468.8 483.8,476.4 490.0,494.4 496.2,482.4 502.3,466.6 508.5,465.8 514.7,468.8 520.9,465.8 527.1,461.3 533.2,452.3 539.4,452.3 545.6,459.0 551.8,450.0 558.0,404.1 564.2,425.2 570.3,416.9 576.5,411.6 582.7,406.3 588.9,437.2 595.1,400.3 601.2,413.9 607.4,401.8 613.6,407.1 619.8,408.6 626.0,398.1 632.1,396.6 638.3,416.1 644.5,394.7 650.7,374.4 656.9,349.6 663.1,381.2 669.2,369.9 675.4,390.2 681.6,342.0 687.8,330.0 694.0,348.8 700.1,342.8 706.3,336.0 712.5,328.5 718.7,316.2 724.9,292.9 731.1,328.3 737.2,285.4 743.4,320.8 749.6,340.3 755.8,272.6 762.0,267.0 768.1,261.0 774.3,248.9 780.5,222.6 786.7,258.7 792.9,200.8 799.0,221.1 805.2,204.5 811.4,197.8 817.6,187.2 823.8,203.8 830.0,213.6 836.1,166.9 842.3,160.9 848.5,173.7 854.7,188.7 860.9,214.3 867.0,169.9 873.2,175.2 879.4,189.5 885.6,162.4 891.8,154.1 898.0,148.1 904.1,142.4 910.3,140.4 916.5,117.8 922.7,130.3 928.9,144.4 935.0,132.3 941.2,152.6 947.4,140.4 953.6,126.2 959.8,135.4 965.9,145.4 972.1,134.4 978.3,132.9 984.5,124.7 990.7,131.4 996.9,132.3 1003.0,149.3 1009.2,144.8 1015.4,163.6 1021.6,166.6 1027.8,176.4 1033.9,158.3 1040.1,150.8 1046.3,161.3 1052.5,137.2 1058.7,135.0 1064.9,136.5 1071.0,120.3 1077.2,131.6 1083.4,136.2 1089.6,128.1 1095.8,129.1 1101.9,133.1 1108.1,145.2 1114.3,131.1 1120.5,144.2 1126.7,134.7 1132.8,132.6 1139.0,131.6 1145.2,135.7 1151.4,138.2 1157.6,130.6 1163.8,132.1 1169.9,139.7 1176.1,118.1 1182.3,126.0 1188.5,132.5 1194.7,125.5 1200.8,129.5 1207.0,124.5 1213.2,137.0 1219.4,138.0 1225.6,165.1 1231.8,169.3 1237.9,159.9 1244.1,165.3 1250.3,170.4 1256.5,193.0 1262.7,227.5 1268.8,235.8 1275.0,226.0 1281.2,249.4 1287.4,264.9 1293.6,258.1 1299.8,266.0 1305.9,252.9 1312.1,277.0 1318.3,240.9 1324.5,209.3 1330.7,194.2 1336.8,171.6 1343.0,165.6 1349.2,163.4 1355.4,158.1 1361.6,148.3 1367.7,144.5 1373.9,143.8 1380.1,125.6 1386.3,127.6 1392.5,130.6 1398.7,134.2 1404.8,124.6 1411.0,119.6 1417.2,114.6 1423.4,109.6 1429.6,116.6 1435.7,127.1 1441.9,127.6 1448.1,125.6 1454.3,117.1 1460.5,114.1 1466.7,114.6 1472.8,109.1 1479.0,110.6 1485.2,108.6 1491.4,95.0 1497.6,88.5 1503.7,84.5 1509.9,83.5 1516.1,95.0"/>
<polyline points="180.9,458.5 187.1,483.4 193.3,487.1 199.4,527.0 205.6,515.7 211.8,535.3 218.0,535.3 224.2,526.3 230.4,475.8 236.5,489.4 242.7,515.7 248.9,510.5 255.1,505.9 261.3,499.2 267.4,502.2 273.6,520.2 279.8,483.4 286.0,487.9 292.2,463.8 298.3,480.3 304.5,426.1 310.7,512.0 316.9,458.5 323.1,472.8 329.3,461.5 335.4,451.7 341.6,429.1 347.8,417.9 354.0,438.2 360.2,423.9 366.3,410.3 372.5,406.6 378.7,420.1 384.9,419.4 391.1,434.4 397.3,421.6 403.4,408.8 409.6,426.9 415.8,407.7 422.0,389.6 428.2,394.1 434.3,365.5 440.5,370.0 446.7,374.5 452.9,350.5 459.1,331.6 465.2,330.1 471.4,330.1 477.6,327.9 483.8,353.5 490.0,350.5 496.2,318.8 502.3,294.0 508.5,294.7 514.7,290.2 520.9,300.0 527.1,287.2 533.2,265.4 539.4,264.6 545.6,274.4 551.8,234.5 558.0,220.4 564.2,217.8 570.3,204.0 576.5,194.1 582.7,197.2 588.9,220.5 595.1,182.0 601.2,184.2 607.4,170.4 613.6,179.7 619.8,187.2 626.0,165.1 632.1,154.3 638.3,169.1 644.5,129.4 650.7,117.3 656.9,110.3 663.1,108.5 669.2,110.9 675.4,102.6 681.6,103.2 687.8,83.6 694.0,93.2 700.1,94.7 706.3,96.7 712.5,94.7 718.7,100.7 724.9,101.2 731.1,110.8 737.2,101.7 743.4,122.5 749.6,138.3 755.8,124.0 762.0,125.5 768.1,127.0 774.3,137.5 780.5,130.0 786.7,152.6 792.9,114.9 799.0,128.5 805.2,119.5 811.4,114.9 817.6,116.4 823.8,153.3 830.0,155.6 836.1,116.4 842.3,125.5 848.5,130.0 854.7,142.0 860.9,172.9 867.0,136.0 873.2,149.6 879.4,170.7 885.6,134.5 891.8,127.3 898.0,123.3 904.1,121.8 910.3,128.3 916.5,101.2 922.7,118.3 928.9,134.9 935.0,119.3 941.2,134.4 947.4,126.3 953.6,117.8 959.8,130.3 965.9,138.4 972.1,128.3 978.3,125.3 984.5,111.3 990.7,125.3 996.9,130.0 1003.0,145.1 1009.2,144.3 1015.4,162.4 1021.6,165.4 1027.8,175.2 1033.9,156.3 1040.1,149.6 1046.3,159.4 1052.5,134.5 1058.7,134.9 1064.9,133.9 1071.0,119.3 1077.2,130.8 1083.4,135.4 1089.6,127.3 1095.8,128.3 1101.9,132.3 1108.1,144.4 1114.3,130.3 1120.5,143.4 1126.7,133.9 1132.8,131.8 1139.0,130.8 1145.2,134.9 1151.4,137.4 1157.6,129.8 1163.8,131.3 1169.9,138.9 1176.1,117.3 1182.3,125.3 1188.5,132.0 1194.7,125.0 1200.8,129.5 1207.0,124.0 1213.2,136.5 1219.4,137.5 1225.6,164.6 1231.8,169.1 1237.9,159.6 1244.1,165.1 1250.3,170.2 1256.5,192.3 1262.7,227.2 1268.8,235.1 1275.0,225.3 1281.2,248.9 1287.4,264.6 1293.6,257.6 1299.8,265.7 1305.9,252.5 1312.1,276.6 1318.3,240.5 1324.5,208.8 1330.7,193.8 1336.8,171.2 1343.0,165.2 1349.2,162.9 1355.4,157.6 1361.6,148.3 1367.7,144.5 1373.9,143.8 1380.1,125.3 1386.3,127.3 1392.5,130.3 1398.7,133.9 1404.8,124.3 1411.0,119.3 1417.2,114.3 1423.4,109.3 1429.6,116.3 1435.7,126.8 1441.9,127.3 1448.1,125.3 1454.3,116.8 1460.5,113.8 1466.7,114.3 1472.8,108.8 1479.0,110.3 1485.2,108.3 1491.4,94.7 1497.6,88.2 1503.7,84.2 1509.9,83.2 1516.1,94.7"/>
<polyline points="180.9,458.5 187.1,483.4 193.3,487.1 199.4,527.0 205.6,515.7 211.8,535.3 218.0,535.3 224.2,526.3 230.4,475.8 236.5,489.4 242.7,515.7 248.9,510.5 255.1,505.9 261.3,499.2 267.4,502.2 273.6,520.2 279.8,483.4 286.0,487.9 292.2,463.8 298.3,480.3 304.5,426.1 310.7,512.0 316.9,458.5 323.1,472.8 329.3,461.5 335.4,451.7 341.6,429.1 347.8,417.9 354.0,438.2 360.2,423.9 366.3,410.3 372.5,406.6 378.7,420.1 384.9,419.4 391.1,434.4 397.3,421.6 403.4,408.8 409.6,426.9 415.8,407.7 422.0,389.6 428.2,394.1 434.3,365.5 440.5,370.0 446.7,374.5 452.9,350.5 459.1,331.6 465.2,330.1 471.4,330.1 477.6,327.9 483.8,353.5 490.0,350.5 496.2,318.8 502.3,294.0 508.5,294.7 514.7,290.2 520.9,300.0 527.1,287.2 533.2,265.4 539.4,264.6 545.6,274.4 551.8,234.5 558.0,220.4 564.2,217.8 570.3,204.0 576.5,194.1 582.7,197.2 588.9,220.5 595.1,182.0 601.2,184.2 607.4,170.4 613.6,179.7 619.8,187.2 626.0,165.1 632.1,154.3 638.3,169.1 644.5,129.4 650.7,117.3 656.9,110.3 663.1,108.5 669.2,110.9 675.4,102.6 681.6,103.2 687.8,83.6 694.0,93.2 700.1,94.7 706.3,96.7 712.5,94.2 718.7,99.2 724.9,99.7 731.1,106.8 737.2,100.7 743.4,121.7 749.6,137.5 755.8,123.2 762.0,123.2 768.1,124.0 774.3,135.3 780.5,127.7 786.7,151.1 792.9,114.9 799.0,127.0 805.2,118.0 811.4,114.9 817.6,114.9 823.8,151.1 830.0,152.6 836.1,116.4 842.3,124.0 848.5,128.5 854.7,140.5 860.9,172.2 867.0,135.3 873.2,148.8 879.4,169.9 885.6,133.8 891.8,120.3 898.0,117.3 904.1,115.3 910.3,123.3 916.5,94.2 922.7,104.2 928.9,108.3 935.0,108.8 941.2,120.3 947.4,111.3 953.6,103.2 959.8,122.3 965.9,127.3 972.1,109.3 978.3,100.2 984.5,98.7 990.7,114.3 996.9,108.8 1003.0,129.2 1009.2,137.5 1015.4,157.1 1021.6,157.9 1027.8,164.6 1033.9,146.6 1040.1,136.0 1046.3,145.1 1052.5,116.3 1058.7,119.3 1064.9,115.3 1071.0,111.3 1077.2,114.3 1083.4,116.8 1089.6,110.8 1095.8,109.3 1101.9,109.3 1108.1,126.3 1114.3,112.8 1120.5,123.3 1126.7,114.8 1132.8,106.8 1139.0,110.8 1145.2,114.8 1151.4,116.8 1157.6,111.8 1163.8,112.3 1169.9,117.3 1176.1,102.2 1182.3,107.8 1188.5,111.8 1194.7,107.3 1200.8,108.8 1207.0,102.7 1213.2,107.8 1219.4,110.3 1225.6,130.5 1231.8,147.1 1237.9,138.5 1244.1,137.5 1250.3,149.1 1256.5,162.1 1262.7,192.2 1268.8,201.3 1275.0,187.7 1281.2,220.0 1287.4,242.6 1293.6,229.0 1299.8,240.5 1305.9,230.7 1312.1,248.7 1318.3,219.4 1324.5,190.8 1330.7,165.2 1336.8,149.4 1343.0,154.6 1349.2,146.9 1355.4,139.9 1361.6,138.9 1367.7,134.9 1373.9,131.3 1380.1,116.8 1386.3,117.3 1392.5,116.3 1398.7,119.3 1404.8,108.3 1411.0,102.7 1417.2,97.2 1423.4,92.9 1429.6,103.7 1435.7,106.5 1441.9,112.6 1448.1,113.5 1454.3,105.5 1460.5,101.0 1466.7,100.5 1472.8,96.0 1479.0,100.0 1485.2,98.0 1491.4,89.5 1497.6,82.5 1503.7,75.4 1509.9,77.4 1516.1,86.0"/>
<polyline points="180.9,458.5 187.1,483.4 193.3,487.1 199.4,527.0 205.6,515.7 211.8,535.3 218.0,535.3 224.2,526.3 230.4,475.8 236.5,489.4 242.7,515.7 248.9,510.5 255.1,505.9 261.3,499.2 267.4,502.2 273.6,520.2 279.8,483.4 286.0,487.9 292.2,463.8 298.3,480.3 304.5,426.1 310.7,512.0 316.9,458.5 323.1,472.8 329.3,461.5 335.4,451.7 341.6,429.1 347.8,417.9 354.0,438.2 360.2,423.9 366.3,410.3 372.5,406.6 378.7,420.1 384.9,419.4 391.1,434.4 397.3,421.6 403.4,408.8 409.6,426.9 415.8,407.7 422.0,389.6 428.2,394.1 434.3,365.5 440.5,370.0 446.7,374.5 452.9,350.5 459.1,331.6 465.2,330.1 471.4,330.1 477.6,327.9 483.8,353.5 490.0,350.5 496.2,318.8 502.3,294.0 508.5,294.7 514.7,290.2 520.9,300.0 527.1,287.2 533.2,265.4 539.4,264.6 545.6,274.4 551.8,234.5 558.0,220.4 564.2,217.8 570.3,204.0 576.5,194.1 582.7,197.2 588.9,220.5 595.1,182.0 601.2,184.2 607.4,170.4 613.6,179.7 619.8,187.2 626.0,165.1 632.1,154.3 638.3,169.1 644.5,129.4 650.7,117.3 656.9,110.3 663.1,108.5 669.2,110.9 675.4,102.6 681.6,103.2 687.8,83.6 694.0,93.2 700.1,94.7 706.3,96.7 712.5,94.2 718.7,99.2 724.9,99.7 731.1,106.8 737.2,100.7 743.4,121.7 749.6,137.5 755.8,123.2 762.0,123.2 768.1,124.0 774.3,135.3 780.5,127.7 786.7,151.1 792.9,114.9 799.0,127.0 805.2,118.0 811.4,114.9 817.6,114.9 823.8,151.1 830.0,152.6 836.1,116.4 842.3,124.0 848.5,128.5 854.7,140.5 860.9,172.2 867.0,135.3 873.2,148.8 879.4,169.9 885.6,133.8 891.8,120.3 898.0,117.3 904.1,115.3 910.3,123.3 916.5,94.2 922.7,104.2 928.9,108.3 935.0,108.8 941.2,120.3 947.4,111.3 953.6,103.2 959.8,122.3 965.9,127.3 972.1,109.3 978.3,100.2 984.5,98.7 990.7,114.3 996.9,108.8 1003.0,129.2 1009.2,137.5 1015.4,157.1 1021.6,157.9 1027.8,164.6 1033.9,146.6 1040.1,136.0 1046.3,145.1 1052.5,116.3 1058.7,119.3 1064.9,115.3 1071.0,111.3 1077.2,114.3 1083.4,116.8 1089.6,110.8 1095.8,109.3 1101.9,109.3 1108.1,126.3 1114.3,112.8 1120.5,123.3 1126.7,114.8 1132.8,106.8 1139.0,110.8 1145.2,114.8 1151.4,116.8 1157.6,111.8 1163.8,112.3 1169.9,117.3 1176.1,102.2 1182.3,107.8 1188.5,111.8 1194.7,107.3 1200.8,105.7 1207.0,94.7 1213.2,94.2 1219.4,97.2 1225.6,99.2 1231.8,101.2 1237.9,92.7 1244.1,100.2 1250.3,96.7 1256.5,95.2 1262.7,101.2 1268.8,105.7 1275.0,100.7 1281.2,99.2 1287.4,98.2 1293.6,99.2 1299.8,102.2 1305.9,101.2 1312.1,100.7 1318.3,94.7 1324.5,100.2 1330.7,109.3 1336.8,93.2 1343.0,118.3 1349.2,112.3 1355.4,106.8 1361.6,107.3 1367.7,105.2 1373.9,115.8 1380.1,106.2 1386.3,107.3 1392.5,97.2 1398.7,114.8 1404.8,104.2 1411.0,100.2 1417.2,96.2 1423.4,92.7 1429.6,103.2 1435.7,106.2 1441.9,112.3 1448.1,112.8 1454.3,105.2 1460.5,100.7 1466.7,100.2 1472.8,95.7 1479.0,98.2 1485.2,97.7 1491.4,89.2 1497.6,82.2 1503.7,75.1 1509.9,77.1 1516.1,85.7"/>
<polyline points="180.9,426.9 187.1,451.7 193.3,457.0 199.4,497.7 205.6,493.9 211.8,509.7 218.0,484.9 224.2,497.7 230.4,449.5 236.5,472.1 242.7,478.1 248.9,479.6 255.1,481.1 261.3,455.5 267.4,469.8 273.6,484.1 279.8,442.7 286.0,430.7 292.2,426.9 298.3,441.2 304.5,406.6 310.7,463.8 316.9,435.2 323.1,423.9 329.3,421.6 335.4,420.1 341.6,410.3 347.8,401.3 354.0,402.0 360.2,399.8 366.3,394.5 372.5,390.0 378.7,404.3 384.9,404.3 391.1,417.9 397.3,405.8 403.4,394.5 409.6,404.3 415.8,397.1 422.0,380.6 428.2,370.0 434.3,352.0 440.5,340.7 446.7,346.7 452.9,312.1 459.1,303.0 465.2,300.8 471.4,303.0 477.6,281.9 483.8,324.1 490.0,332.4 496.2,301.5 502.3,266.1 508.5,269.9 514.7,267.6 520.9,270.7 527.1,253.3 533.2,241.3 539.4,240.5 545.6,251.1 551.8,227.0 558.0,199.3 564.2,199.5 570.3,183.4 576.5,166.2 582.7,178.4 588.9,197.1 595.1,164.4 601.2,158.7 607.4,142.0 613.6,152.9 619.8,163.8 626.0,144.2 632.1,135.5 638.3,138.2 644.5,115.9 650.7,106.8 656.9,102.6 663.1,93.8 669.2,95.2 675.4,85.1 681.6,86.3 687.8,72.3 694.0,76.6 700.1,74.9 706.3,73.6 712.5,73.1 718.7,82.2 724.9,74.4 731.1,74.9 737.2,79.6 743.4,86.2 749.6,114.8 755.8,93.2 762.0,105.7 768.1,105.2 774.3,112.3 780.5,112.3 786.7,118.8 792.9,77.1 799.0,106.2 805.2,104.7 811.4,87.2 817.6,83.2 823.8,71.6 830.0,117.3 836.1,78.6 842.3,84.2 848.5,84.2 854.7,92.2 860.9,140.4 867.0,120.3 873.2,130.3 879.4,144.4 885.6,103.2 891.8,89.2 898.0,77.6 904.1,82.2 910.3,89.2 916.5,68.6 922.7,64.1 928.9,65.1 935.0,86.7 941.2,75.1 947.4,69.1 953.6,75.1 959.8,59.1 965.9,72.1 972.1,67.6 978.3,74.1 984.5,74.1 990.7,77.6 996.9,84.2 1003.0,90.2 1009.2,111.3 1015.4,123.3 1021.6,129.3 1027.8,146.4 1033.9,119.3 1040.1,117.3 1046.3,119.3 1052.5,98.2 1058.7,89.2 1064.9,92.2 1071.0,80.7 1077.2,92.7 1083.4,86.7 1089.6,82.2 1095.8,81.2 1101.9,85.2 1108.1,92.7 1114.3,81.2 1120.5,93.2 1126.7,88.2 1132.8,77.1 1139.0,82.7 1145.2,86.7 1151.4,88.2 1157.6,84.7 1163.8,91.7 1169.9,80.7 1176.1,76.1 1182.3,75.3 1188.5,78.8 1194.7,77.3 1200.8,76.3 1207.0,69.3 1213.2,67.3 1219.4,72.8 1225.6,66.3 1231.8,70.3 1237.9,67.8 1244.1,71.8 1250.3,67.8 1256.5,66.3 1262.7,71.3 1268.8,72.8 1275.0,73.3 1281.2,70.3 1287.4,73.3 1293.6,68.3 1299.8,77.3 1305.9,71.3 1312.1,76.3 1318.3,70.8 1324.5,69.3 1330.7,83.4 1336.8,72.1 1343.0,87.9 1349.2,86.4 1355.4,88.8 1361.6,84.8 1367.7,80.8 1373.9,88.8 1380.1,82.2 1386.3,84.7 1392.5,78.1 1398.7,92.2 1404.8,81.7 1411.0,78.6 1417.2,75.6 1423.4,73.1 1429.6,78.6 1435.7,74.6 1441.9,79.6 1448.1,79.6 1454.3,73.6 1460.5,67.1 1466.7,70.6 1472.8,69.6 1479.0,73.1 1485.2,75.6 1491.4,69.1 1497.6,67.6 1503.7,65.6 1509.9,64.1 1516.1,69.6"/>
<polyline points="180.9,65.7 187.1,68.4 193.3,70.0 199.4,66.1 205.6,74.9 211.8,76.9 218.0,77.3 224.2,71.8 230.4,69.8 236.5,55.3 242.7,70.9 248.9,63.1 255.1,55.0 261.3,54.8 267.4,56.2 273.6,53.6 279.8,60.7 286.0,58.3 292.2,58.5 298.3,55.5 304.5,55.3 310.7,58.1 316.9,64.8 323.1,59.3 329.3,53.8 335.4,50.9 341.6,49.7 347.8,56.1 354.0,52.4 360.2,55.2 366.3,52.7 372.5,55.4 378.7,53.8 384.9,59.5 391.1,58.1 397.3,53.5 403.4,51.9 409.6,51.5 415.8,58.2 422.0,59.1 428.2,64.4 434.3,53.6 440.5,59.8 446.7,52.9 452.9,54.1 459.1,56.1 465.2,57.5 471.4,60.5 477.6,55.6 483.8,82.1 490.0,94.2 496.2,89.8 502.3,73.7 508.5,64.7 514.7,68.8 520.9,69.0 527.1,68.5 533.2,80.6 539.4,66.8 545.6,70.4 551.8,69.5 558.0,61.4 564.2,75.6 570.3,73.3 576.5,70.6 582.7,80.0 588.9,93.6 595.1,78.9 601.2,78.4 607.4,68.8 613.6,76.9 619.8,86.2 626.0,75.9 632.1,68.8 638.3,81.5 644.5,55.9 650.7,66.1 656.9,58.9 663.1,60.8 669.2,61.5 675.4,68.3 681.6,58.5 687.8,58.2 694.0,64.3 700.1,65.9 706.3,65.1 712.5,60.8 718.7,69.4 724.9,62.6 731.1,65.1 737.2,64.4 743.4,84.2 749.6,105.7 755.8,83.7 762.0,84.2 768.1,87.7 774.3,90.7 780.5,100.7 786.7,104.2 792.9,65.6 799.0,89.2 805.2,81.2 811.4,76.1 817.6,75.1 823.8,61.6 830.0,79.6 836.1,69.1 842.3,76.1 848.5,77.1 854.7,89.2 860.9,130.3 867.0,112.3 873.2,119.3 879.4,134.4 885.6,94.7 891.8,80.2 898.0,67.6 904.1,70.1 910.3,79.6 916.5,59.1 922.7,60.1 928.9,58.1 935.0,80.2 941.2,67.1 947.4,66.6 953.6,70.1 959.8,55.1 965.9,64.6 972.1,59.1 978.3,67.1 984.5,66.1 990.7,66.6 996.9,75.6 1003.0,81.2 1009.2,109.3 1015.4,120.3 1021.6,127.3 1027.8,144.4 1033.9,114.8 1040.1,113.3 1046.3,111.8 1052.5,94.2 1058.7,85.7 1064.9,89.2 1071.0,79.6 1077.2,89.2 1083.4,83.2 1089.6,75.1 1095.8,77.1 1101.9,84.2 1108.1,90.2 1114.3,80.2 1120.5,90.7 1126.7,86.2 1132.8,76.1 1139.0,81.7 1145.2,85.2 1151.4,87.2 1157.6,83.7 1163.8,90.2 1169.9,79.6 1176.1,74.6 1182.3,74.6 1188.5,78.1 1194.7,76.6 1200.8,75.6 1207.0,68.6 1213.2,66.6 1219.4,72.1 1225.6,65.6 1231.8,69.6 1237.9,67.1 1244.1,71.1 1250.3,67.1 1256.5,65.6 1262.7,70.6 1268.8,72.1 1275.0,72.6 1281.2,69.6 1287.4,72.6 1293.6,67.6 1299.8,76.6 1305.9,70.6 1312.1,75.6 1318.3,70.1 1324.5,68.6 1330.7,82.7 1336.8,71.6 1343.0,87.2 1349.2,85.7 1355.4,88.2 1361.6,84.2 1367.7,80.2 1373.9,88.2 1380.1,81.7 1386.3,84.2 1392.5,77.6 1398.7,91.7 1404.8,81.2 1411.0,78.1 1417.2,75.1 1423.4,72.6 1429.6,78.1 1435.7,74.1 1441.9,79.1 1448.1,79.1 1454.3,73.1 1460.5,66.6 1466.7,70.1 1472.8,69.1 1479.0,72.6 1485.2,75.1 1491.4,68.6 1497.6,67.1 1503.7,65.1 1509.9,63.6 1516.1,69.1"/>
<polyline points="180.9,46.5 187.1,47.3 193.3,51.0 199.4,48.4 205.6,46.9 211.8,46.5 218.0,48.4 224.2,47.5 230.4,47.3 236.5,47.3 242.7,46.9 248.9,46.5 255.1,46.9 261.3,48.2 267.4,49.3 273.6,48.4 279.8,50.2 286.0,47.0 292.2,47.4 298.3,48.4 304.5,47.5 310.7,50.2 316.9,49.4 323.1,47.9 329.3,47.2 335.4,47.2 341.6,47.1 347.8,50.9 354.0,49.3 360.2,51.8 366.3,50.6 372.5,48.5 378.7,48.8 384.9,50.0 391.1,50.5 397.3,50.5 403.4,49.9 409.6,47.5 415.8,52.4 422.0,56.2 428.2,60.2 434.3,50.0 440.5,51.9 446.7,48.9 452.9,47.8 459.1,53.1 465.2,47.0 471.4,49.3 477.6,50.8 483.8,63.7 490.0,57.6 496.2,60.5 502.3,56.6 508.5,55.3 514.7,50.6 520.9,51.1 527.1,55.2 533.2,62.9 539.4,55.1 545.6,56.7 551.8,54.1 558.0,53.8 564.2,63.3 570.3,60.5 576.5,63.2 582.7,67.8 588.9,60.1 595.1,66.2 601.2,64.4 607.4,56.0 613.6,61.9 619.8,74.2 626.0,65.5 632.1,58.5 638.3,60.3 644.5,48.5 650.7,53.9 656.9,53.0 663.1,52.5 669.2,53.8 675.4,56.2 681.6,50.5 687.8,53.5 694.0,56.1 700.1,58.1 706.3,58.6 712.5,56.1 718.7,60.1 724.9,57.1 731.1,56.1 737.2,55.6 743.4,72.1 749.6,87.7 755.8,64.6 762.0,58.6 768.1,55.6 774.3,64.1 780.5,90.2 786.7,69.1 792.9,55.6 799.0,61.6 805.2,71.1 811.4,56.1 817.6,66.6 823.8,55.1 830.0,57.6 836.1,56.1 842.3,55.6 848.5,56.6 854.7,54.1 860.9,52.0 867.0,49.5 873.2,51.5 879.4,68.1 885.6,52.0 891.8,49.5 898.0,47.5 904.1,54.1 910.3,57.6 916.5,52.5 922.7,55.6 928.9,50.5 935.0,58.1 941.2,61.6 947.4,57.6 953.6,58.6 959.8,49.0 965.9,54.1 972.1,50.0 978.3,54.1 984.5,54.6 990.7,52.5 996.9,53.0 1003.0,55.1 1009.2,58.1 1015.4,55.1 1021.6,53.6 1027.8,56.6 1033.9,58.6 1040.1,68.6 1046.3,59.6 1052.5,56.1 1058.7,54.6 1064.9,57.6 1071.0,60.6 1077.2,55.1 1083.4,52.2 1089.6,53.6 1095.8,57.1 1101.9,53.6 1108.1,55.6 1114.3,56.6 1120.5,57.9 1126.7,58.4 1132.8,59.1 1139.0,59.1 1145.2,62.6 1151.4,64.1 1157.6,63.6 1163.8,69.1 1169.9,63.6 1176.1,61.6 1182.3,58.1 1188.5,57.1 1194.7,59.1 1200.8,58.1 1207.0,56.1 1213.2,56.1 1219.4,57.6 1225.6,58.6 1231.8,59.6 1237.9,58.6 1244.1,57.1 1250.3,56.6 1256.5,57.6 1262.7,58.6 1268.8,60.6 1275.0,58.1 1281.2,58.6 1287.4,60.6 1293.6,60.6 1299.8,63.6 1305.9,58.6 1312.1,64.1 1318.3,61.1 1324.5,56.6 1330.7,62.1 1336.8,63.6 1343.0,66.1 1349.2,67.1 1355.4,63.6 1361.6,66.1 1367.7,69.6 1373.9,68.1 1380.1,65.1 1386.3,67.1 1392.5,66.6 1398.7,70.6 1404.8,64.6 1411.0,64.6 1417.2,62.6 1423.4,60.6 1429.6,66.6 1435.7,66.1 1441.9,67.1 1448.1,67.6 1454.3,65.1 1460.5,58.6 1466.7,61.1 1472.8,60.6 1479.0,63.6 1485.2,67.1 1491.4,62.1 1497.6,58.6 1503.7,60.6 1509.9,59.1 1516.1,61.6"/>
<polyline points="180.9,46.0 187.1,46.0 193.3,46.0 199.4,46.0 205.6,46.0 211.8,46.0 218.0,46.0 224.2,46.0 230.4,46.0 236.5,46.0 242.7,46.0 248.9,46.0 255.1,46.0 261.3,46.0 267.4,46.0 273.6,46.0 279.8,46.0 286.0,46.0 292.2,46.0 298.3,46.0 304.5,46.0 310.7,46.0 316.9,46.0 323.1,46.0 329.3,46.0 335.4,46.0 341.6,46.0 347.8,46.0 354.0,46.0 360.2,46.0 366.3,46.0 372.5,46.0 378.7,46.0 384.9,46.0 391.1,46.0 397.3,46.0 403.4,46.0 409.6,46.0 415.8,46.0 422.0,46.0 428.2,46.0 434.3,46.0 440.5,46.0 446.7,46.0 452.9,46.0 459.1,46.0 465.2,46.0 471.4,46.0 477.6,46.0 483.8,46.0 490.0,46.0 496.2,46.0 502.3,46.0 508.5,46.0 514.7,46.0 520.9,46.0 527.1,46.0 533.2,46.0 539.4,46.0 545.6,46.0 551.8,46.0 558.0,46.0 564.2,46.0 570.3,46.0 576.5,46.0 582.7,46.0 588.9,46.0 595.1,46.0 601.2,46.0 607.4,46.0 613.6,46.0 619.8,46.0 626.0,46.0 632.1,46.0 638.3,46.0 644.5,46.0 650.7,46.0 656.9,46.0 663.1,46.0 669.2,46.0 675.4,46.0 681.6,46.0 687.8,46.0 694.0,46.0 700.1,46.0 706.3,46.0 712.5,46.0 718.7,46.0 724.9,46.0 731.1,46.0 737.2,46.0 743.4,46.0 749.6,46.0 755.8,46.0 762.0,46.0 768.1,46.0 774.3,46.0 780.5,46.0 786.7,46.0 792.9,46.0 799.0,46.0 805.2,46.0 811.4,46.0 817.6,46.0 823.8,46.0 830.0,46.0 836.1,46.0 842.3,46.0 848.5,46.0 854.7,46.0 860.9,46.0 867.0,46.0 873.2,46.0 879.4,46.0 885.6,46.0 891.8,46.0 898.0,46.0 904.1,46.0 910.3,46.0 916.5,46.0 922.7,46.0 928.9,46.0 935.0,46.0 941.2,46.0 947.4,46.0 953.6,46.0 959.8,46.0 965.9,46.0 972.1,46.0 978.3,46.0 984.5,46.0 990.7,46.0 996.9,46.0 1003.0,46.0 1009.2,46.0 1015.4,46.0 1021.6,46.0 1027.8,46.0 1033.9,46.0 1040.1,46.0 1046.3,46.0 1052.5,46.0 1058.7,46.0 1064.9,46.0 1071.0,46.0 1077.2,46.0 1083.4,46.0 1089.6,46.0 1095.8,46.0 1101.9,46.0 1108.1,46.0 1114.3,46.0 1120.5,46.0 1126.7,46.0 1132.8,46.0 1139.0,46.0 1145.2,46.0 1151.4,46.0 1157.6,46.0 1163.8,46.0 1169.9,46.0 1176.1,46.0 1182.3,46.0 1188.5,46.0 1194.7,46.0 1200.8,46.0 1207.0,46.0 1213.2,46.0 1219.4,46.0 1225.6,46.0 1231.8,46.0 1237.9,46.0 1244.1,46.0 1250.3,46.0 1256.5,46.0 1262.7,46.0 1268.8,46.0 1275.0,46.0 1281.2,46.0 1287.4,46.0 1293.6,46.0 1299.8,46.0 1305.9,46.0 1312.1,46.0 1318.3,46.0 1324.5,46.0 1330.7,46.0 1336.8,46.0 1343.0,46.0 1349.2,46.0 1355.4,46.0 1361.6,46.0 1367.7,46.0 1373.9,46.0 1380.1,46.0 1386.3,46.0 1392.5,46.0 1398.7,46.0 1404.8,46.0 1411.0,46.0 1417.2,46.0 1423.4,46.0 1429.6,46.0 1435.7,46.0 1441.9,46.0 1448.1,46.0 1454.3,46.0 1460.5,46.0 1466.7,46.0 1472.8,46.0 1479.0,46.0 1485.2,46.0 1491.4,46.0 1497.6,46.0 1503.7,46.0 1509.9,46.0 1516.1,46.0"/>
</g>
</g>
<rect x="115.5" y="10.8" width="1466.9" height="786.4" fill="none" stroke="#333" stroke-width="1.35"/>
<g id="ticks">
<line x1="107.6" x2="115" y1="46.0" y2="46.0" stroke="#333" stroke-width="2.4"/>
<text transform="translate(101.5,54.8) scale(1,0.990)" class="ax" text-anchor="end">1.00</text>
<line x1="107.6" x2="115" y1="224.9" y2="224.9" stroke="#333" stroke-width="2.4"/>
<text transform="translate(101.5,233.7) scale(1,0.990)" class="ax" text-anchor="end">0.75</text>
<line x1="107.6" x2="115" y1="403.9" y2="403.9" stroke="#333" stroke-width="2.4"/>
<text transform="translate(101.5,412.6) scale(1,0.990)" class="ax" text-anchor="end">0.50</text>
<line x1="107.6" x2="115" y1="582.8" y2="582.8" stroke="#333" stroke-width="2.4"/>
<text transform="translate(101.5,591.5) scale(1,0.990)" class="ax" text-anchor="end">0.25</text>
<line x1="107.6" x2="115" y1="761.7" y2="761.7" stroke="#333" stroke-width="2.4"/>
<text transform="translate(101.5,770.5) scale(1,0.990)" class="ax" text-anchor="end">0.00</text>
<line x1="267.4" x2="267.4" y1="797.2" y2="804.5" stroke="#333" stroke-width="2.4"/>
<text transform="translate(267.4,826.3) scale(1,0.990)" class="ax" text-anchor="middle">1819</text>
<line x1="422.0" x2="422.0" y1="797.2" y2="804.5" stroke="#333" stroke-width="2.4"/>
<text transform="translate(422.0,826.3) scale(1,0.990)" class="ax" text-anchor="middle">1844</text>
<line x1="576.5" x2="576.5" y1="797.2" y2="804.5" stroke="#333" stroke-width="2.4"/>
<text transform="translate(576.5,826.3) scale(1,0.990)" class="ax" text-anchor="middle">1869</text>
<line x1="731.1" x2="731.1" y1="797.2" y2="804.5" stroke="#333" stroke-width="2.4"/>
<text transform="translate(731.1,826.3) scale(1,0.990)" class="ax" text-anchor="middle">1894</text>
<line x1="885.6" x2="885.6" y1="797.2" y2="804.5" stroke="#333" stroke-width="2.4"/>
<text transform="translate(885.6,826.3) scale(1,0.990)" class="ax" text-anchor="middle">1919</text>
<line x1="1040.1" x2="1040.1" y1="797.2" y2="804.5" stroke="#333" stroke-width="2.4"/>
<text transform="translate(1040.1,826.3) scale(1,0.990)" class="ax" text-anchor="middle">1944</text>
<line x1="1194.7" x2="1194.7" y1="797.2" y2="804.5" stroke="#333" stroke-width="2.4"/>
<text transform="translate(1194.7,826.3) scale(1,0.990)" class="ax" text-anchor="middle">1969</text>
<line x1="1349.2" x2="1349.2" y1="797.2" y2="804.5" stroke="#333" stroke-width="2.4"/>
<text transform="translate(1349.2,826.3) scale(1,0.990)" class="ax" text-anchor="middle">1994</text>
<line x1="1503.7" x2="1503.7" y1="797.2" y2="804.5" stroke="#333" stroke-width="2.4"/>
<text transform="translate(1503.7,826.3) scale(1,0.990)" class="ax" text-anchor="middle">2019</text>
</g>
<g transform="translate(46.3,404) rotate(-90)"><text x="0" y="0" class="yl" text-anchor="middle">θ</text><text transform="translate(0,-14.6) scale(1.62,0.855)" x="0" y="0" class="yl" text-anchor="middle" style="font-size:24px">^</text></g>
<g id="legend">
<rect x="160.2" y="903.9" width="41.4" height="42.1" fill="#e6194b" stroke="#333" stroke-width="1.25"/>
<text transform="translate(215.2,933.3) scale(1,1.03)" class="lg">1_education</text>
<rect x="160.2" y="946.0" width="41.4" height="42.1" fill="#3cb44b" stroke="#333" stroke-width="1.25"/>
<text transform="translate(215.2,975.4) scale(1,1.03)" class="lg">2_war</text>
<rect x="160.2" y="988.1" width="41.4" height="42.1" fill="#ffe119" stroke="#333" stroke-width="1.25"/>
<text transform="translate(215.2,1017.5) scale(1,1.03)" class="lg">3_peace</text>
<rect x="350.2" y="903.9" width="41.4" height="42.1" fill="#4363d8" stroke="#333" stroke-width="1.25"/>
<text transform="translate(405.2,933.3) scale(1,1.03)" class="lg">4_treasury</text>
<rect x="350.2" y="946.0" width="41.4" height="42.1" fill="#f58231" stroke="#333" stroke-width="1.25"/>
<text transform="translate(405.2,975.4) scale(1,1.03)" class="lg">5_transportation</text>
<rect x="350.2" y="988.1" width="41.4" height="42.1" fill="#9a6324" stroke="#333" stroke-width="1.25"/>
<text transform="translate(405.2,1017.5) scale(1,1.03)" class="lg">6_energy</text>
<rect x="580.2" y="903.9" width="41.4" height="42.1" fill="#911eb4" stroke="#333" stroke-width="1.25"/>
<text transform="translate(635.2,933.3) scale(1,1.03)" class="lg">7_colony</text>
<rect x="580.2" y="946.0" width="41.4" height="42.1" fill="#46f0f0" stroke="#333" stroke-width="1.25"/>
<text transform="translate(635.2,975.4) scale(1,1.03)" class="lg">8_vip</text>
<rect x="580.2" y="988.1" width="41.4" height="42.1" fill="#f032e6" stroke="#333" stroke-width="1.25"/>
<text transform="translate(635.2,1017.5) scale(1,1.03)" class="lg">9_ireland</text>
<rect x="740.7" y="903.9" width="41.4" height="42.1" fill="#bcf60c" stroke="#333" stroke-width="1.25"/>
<text transform="translate(795.7,933.3) scale(1,1.03)" class="lg">10_housing</text>
<rect x="740.7" y="946.0" width="41.4" height="42.1" fill="#fabebe" stroke="#333" stroke-width="1.25"/>
<text transform="translate(795.7,975.4) scale(1,1.03)" class="lg">11_crime</text>
<rect x="740.7" y="988.1" width="41.4" height="42.1" fill="#008080" stroke="#333" stroke-width="1.25"/>
<text transform="translate(795.7,1017.5) scale(1,1.03)" class="lg">12_kingdom</text>
<rect x="930.2" y="903.9" width="41.4" height="42.1" fill="#e6beff" stroke="#333" stroke-width="1.25"/>
<text transform="translate(985.2,933.3) scale(1,1.03)" class="lg">13_europe</text>
<rect x="930.2" y="946.0" width="41.4" height="42.1" fill="#fffac8" stroke="#333" stroke-width="1.25"/>
<text transform="translate(985.2,975.4) scale(1,1.03)" class="lg">14_socialsecurity</text>
<rect x="930.2" y="988.1" width="41.4" height="42.1" fill="#800000" stroke="#333" stroke-width="1.25"/>
<text transform="translate(985.2,1017.5) scale(1,1.03)" class="lg">15_election</text>
<rect x="1169.5" y="903.9" width="41.4" height="42.1" fill="#aaffc3" stroke="#333" stroke-width="1.25"/>
<text transform="translate(1224.5,933.3) scale(1,1.03)" class="lg">16_vice</text>
<rect x="1169.5" y="946.0" width="41.4" height="42.1" fill="#808000" stroke="#333" stroke-width="1.25"/>
<text transform="translate(1224.5,975.4) scale(1,1.03)" class="lg">17_health</text>
<rect x="1169.5" y="988.1" width="41.4" height="42.1" fill="#ffd8b1" stroke="#333" stroke-width="1.25"/>
<text transform="translate(1224.5,1017.5) scale(1,1.03)" class="lg">18_fishing</text>
<rect x="1339.5" y="903.9" width="41.4" height="42.1" fill="#000075" stroke="#333" stroke-width="1.25"/>
<text transform="translate(1394.5,933.3) scale(1,1.03)" class="lg">19_employment</text>
<rect x="1339.5" y="946.0" width="41.4" height="42.1" fill="#808080" stroke="#333" stroke-width="1.25"/>
<text transform="translate(1394.5,975.4) scale(1,1.03)" class="lg">20_agriculture</text>
<rect x="1339.5" y="988.1" width="41.4" height="42.1" fill="#ffffff" stroke="#333" stroke-width="1.25"/>
<text transform="translate(1394.5,1017.5) scale(1,1.03)" class="lg">no_keyword</text>
</g>
</svg>
</body></html>
